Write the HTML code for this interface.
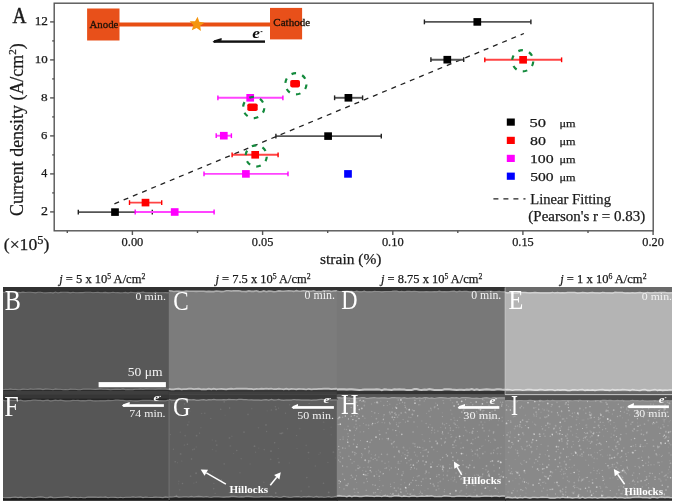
<!DOCTYPE html>
<html><head><meta charset="utf-8"><title>figure</title><style>
html,body{margin:0;padding:0;background:#fff;}
body{width:675px;height:504px;overflow:hidden;}
svg{display:block;will-change:transform;}
</style></head><body>
<svg width="675" height="504" viewBox="0 0 675 504" font-family='"Liberation Serif", serif'>
<rect x="54.2" y="3.2" width="599" height="227.6" fill="none" stroke="#555" stroke-width="1.4"/>
<line x1="50.1" y1="211.9" x2="54.2" y2="211.9" stroke="#555" stroke-width="1.4"/>
<line x1="50.1" y1="173.9" x2="54.2" y2="173.9" stroke="#555" stroke-width="1.4"/>
<line x1="50.1" y1="135.9" x2="54.2" y2="135.9" stroke="#555" stroke-width="1.4"/>
<line x1="50.1" y1="97.9" x2="54.2" y2="97.9" stroke="#555" stroke-width="1.4"/>
<line x1="50.1" y1="59.9" x2="54.2" y2="59.9" stroke="#555" stroke-width="1.4"/>
<line x1="50.1" y1="21.9" x2="54.2" y2="21.9" stroke="#555" stroke-width="1.4"/>
<line x1="52.2" y1="192.9" x2="54.2" y2="192.9" stroke="#555" stroke-width="1.4"/>
<line x1="52.2" y1="154.9" x2="54.2" y2="154.9" stroke="#555" stroke-width="1.4"/>
<line x1="52.2" y1="116.9" x2="54.2" y2="116.9" stroke="#555" stroke-width="1.4"/>
<line x1="52.2" y1="78.9" x2="54.2" y2="78.9" stroke="#555" stroke-width="1.4"/>
<line x1="52.2" y1="40.9" x2="54.2" y2="40.9" stroke="#555" stroke-width="1.4"/>
<line x1="132.4" y1="230.8" x2="132.4" y2="235" stroke="#555" stroke-width="1.4"/>
<line x1="262.6" y1="230.8" x2="262.6" y2="235" stroke="#555" stroke-width="1.4"/>
<line x1="392.8" y1="230.8" x2="392.8" y2="235" stroke="#555" stroke-width="1.4"/>
<line x1="522.9" y1="230.8" x2="522.9" y2="235" stroke="#555" stroke-width="1.4"/>
<line x1="653.1" y1="230.8" x2="653.1" y2="235" stroke="#555" stroke-width="1.4"/>
<line x1="67.3" y1="230.8" x2="67.3" y2="233" stroke="#555" stroke-width="1.4"/>
<line x1="197.5" y1="230.8" x2="197.5" y2="233" stroke="#555" stroke-width="1.4"/>
<line x1="327.7" y1="230.8" x2="327.7" y2="233" stroke="#555" stroke-width="1.4"/>
<line x1="457.8" y1="230.8" x2="457.8" y2="233" stroke="#555" stroke-width="1.4"/>
<line x1="588.0" y1="230.8" x2="588.0" y2="233" stroke="#555" stroke-width="1.4"/>
<rect x="87.1" y="8.5" width="32.4" height="32" fill="#E8501A"/>
<rect x="270" y="7.9" width="32.1" height="31.5" fill="#E8501A"/>
<rect x="119" y="22.5" width="151.5" height="4" fill="#E84E12"/>
<polygon points="197.58,16.63 199.26,21.68 204.50,22.65 200.21,25.81 200.92,31.09 196.59,27.99 191.78,30.29 193.39,25.21 189.72,21.35 195.05,21.31" fill="#F4950F"/>
<rect x="214" y="40.4" width="51" height="2.4" fill="#111"/>
<polygon points="212.6,41.8 214.5,40.2 221.6,38 221.6,40.6 214,42.8" fill="#111"/>
<rect x="260.6" y="31.2" width="1.8" height="0.9" fill="#111"/>
<line x1="114.4" y1="203.8" x2="523.9" y2="33.5" stroke="#222" stroke-width="1.3" stroke-dasharray="5,5"/>
<line x1="78.3" y1="212.1" x2="152.3" y2="212.1" stroke="#555" stroke-width="1.9"/>
<line x1="78.3" y1="209.7" x2="78.3" y2="214.5" stroke="#222" stroke-width="1.4"/>
<line x1="152.3" y1="209.7" x2="152.3" y2="214.5" stroke="#222" stroke-width="1.4"/>
<line x1="275.9" y1="136.1" x2="381.3" y2="136.1" stroke="#555" stroke-width="1.9"/>
<line x1="275.9" y1="133.7" x2="275.9" y2="138.5" stroke="#222" stroke-width="1.4"/>
<line x1="381.3" y1="133.7" x2="381.3" y2="138.5" stroke="#222" stroke-width="1.4"/>
<line x1="334.6" y1="97.8" x2="362.6" y2="97.8" stroke="#555" stroke-width="1.9"/>
<line x1="334.6" y1="95.39999999999999" x2="334.6" y2="100.2" stroke="#222" stroke-width="1.4"/>
<line x1="362.6" y1="95.39999999999999" x2="362.6" y2="100.2" stroke="#222" stroke-width="1.4"/>
<line x1="430.9" y1="59.7" x2="463.7" y2="59.7" stroke="#555" stroke-width="1.9"/>
<line x1="430.9" y1="57.300000000000004" x2="430.9" y2="62.1" stroke="#222" stroke-width="1.4"/>
<line x1="463.7" y1="57.300000000000004" x2="463.7" y2="62.1" stroke="#222" stroke-width="1.4"/>
<line x1="424.4" y1="21.9" x2="530.9" y2="21.9" stroke="#555" stroke-width="1.9"/>
<line x1="424.4" y1="19.5" x2="424.4" y2="24.299999999999997" stroke="#222" stroke-width="1.4"/>
<line x1="530.9" y1="19.5" x2="530.9" y2="24.299999999999997" stroke="#222" stroke-width="1.4"/>
<line x1="135.2" y1="212" x2="214.1" y2="212" stroke="#ff44ff" stroke-width="1.9"/>
<line x1="135.2" y1="209.6" x2="135.2" y2="214.4" stroke="#ff00ff" stroke-width="1.4"/>
<line x1="214.1" y1="209.6" x2="214.1" y2="214.4" stroke="#ff00ff" stroke-width="1.4"/>
<line x1="204" y1="173.9" x2="288" y2="173.9" stroke="#ff44ff" stroke-width="1.9"/>
<line x1="204" y1="171.5" x2="204" y2="176.3" stroke="#ff00ff" stroke-width="1.4"/>
<line x1="288" y1="171.5" x2="288" y2="176.3" stroke="#ff00ff" stroke-width="1.4"/>
<line x1="216.2" y1="135.7" x2="231.4" y2="135.7" stroke="#ff44ff" stroke-width="1.9"/>
<line x1="216.2" y1="133.29999999999998" x2="216.2" y2="138.1" stroke="#ff00ff" stroke-width="1.4"/>
<line x1="231.4" y1="133.29999999999998" x2="231.4" y2="138.1" stroke="#ff00ff" stroke-width="1.4"/>
<line x1="217.9" y1="97.8" x2="282.9" y2="97.8" stroke="#ff44ff" stroke-width="1.9"/>
<line x1="217.9" y1="95.39999999999999" x2="217.9" y2="100.2" stroke="#ff00ff" stroke-width="1.4"/>
<line x1="282.9" y1="95.39999999999999" x2="282.9" y2="100.2" stroke="#ff00ff" stroke-width="1.4"/>
<line x1="129.5" y1="202.6" x2="161.7" y2="202.6" stroke="#ff4444" stroke-width="1.9"/>
<line x1="129.5" y1="200.2" x2="129.5" y2="205.0" stroke="#ff0000" stroke-width="1.4"/>
<line x1="161.7" y1="200.2" x2="161.7" y2="205.0" stroke="#ff0000" stroke-width="1.4"/>
<line x1="232.1" y1="154.8" x2="278.1" y2="154.8" stroke="#ff4444" stroke-width="1.9"/>
<line x1="232.1" y1="152.4" x2="232.1" y2="157.20000000000002" stroke="#ff0000" stroke-width="1.4"/>
<line x1="278.1" y1="152.4" x2="278.1" y2="157.20000000000002" stroke="#ff0000" stroke-width="1.4"/>
<line x1="484.8" y1="59.8" x2="561.6" y2="59.8" stroke="#ff4444" stroke-width="1.9"/>
<line x1="484.8" y1="57.4" x2="484.8" y2="62.199999999999996" stroke="#ff0000" stroke-width="1.4"/>
<line x1="561.6" y1="57.4" x2="561.6" y2="62.199999999999996" stroke="#ff0000" stroke-width="1.4"/>
<rect x="111.15" y="208.30" width="7.7" height="7.6" fill="#000"/>
<rect x="324.25" y="132.30" width="7.7" height="7.6" fill="#000"/>
<rect x="344.55" y="94.00" width="7.7" height="7.6" fill="#000"/>
<rect x="443.45" y="55.90" width="7.7" height="7.6" fill="#000"/>
<rect x="473.45" y="18.10" width="7.7" height="7.6" fill="#000"/>
<rect x="170.85" y="208.20" width="7.7" height="7.6" fill="#ff00ff"/>
<rect x="242.05" y="170.10" width="7.7" height="7.6" fill="#ff00ff"/>
<rect x="219.95" y="131.90" width="7.7" height="7.6" fill="#ff00ff"/>
<rect x="246.35" y="94.00" width="7.7" height="7.6" fill="#ff00ff"/>
<rect x="141.65" y="198.80" width="7.7" height="7.6" fill="#ff0000"/>
<rect x="251.35" y="151.00" width="7.7" height="7.6" fill="#ff0000"/>
<rect x="519.25" y="56.00" width="7.7" height="7.6" fill="#ff0000"/>
<rect x="290.2" y="79.9" width="9.8" height="7.5" rx="1.8" fill="#ff0000"/>
<rect x="247.3" y="103.4" width="10.4" height="7.7" rx="1.8" fill="#ff0000"/>
<rect x="344.15" y="170.10" width="7.7" height="7.6" fill="#0000ff"/>
<circle cx="295.9" cy="83.8" r="10.6" fill="none" stroke="#138a3c" stroke-width="2.2" stroke-dasharray="4.63,6.48" stroke-dashoffset="-0.74"/>
<circle cx="253.7" cy="107.5" r="10.6" fill="none" stroke="#138a3c" stroke-width="2.2" stroke-dasharray="4.63,6.48" stroke-dashoffset="-0.74"/>
<circle cx="256.2" cy="156" r="10.6" fill="none" stroke="#138a3c" stroke-width="2.2" stroke-dasharray="4.63,6.48" stroke-dashoffset="-0.74"/>
<circle cx="522.7" cy="60.8" r="10.6" fill="none" stroke="#138a3c" stroke-width="2.2" stroke-dasharray="4.63,6.48" stroke-dashoffset="-0.74"/>
<rect x="506.8" y="118.5" width="8" height="7.2" fill="#000"/>
<rect x="506.8" y="136.8" width="8" height="7.2" fill="#ff0000"/>
<rect x="506.8" y="154.8" width="8" height="7.2" fill="#ff00ff"/>
<rect x="506.8" y="172.6" width="8" height="7.2" fill="#0000ff"/>
<line x1="493.4" y1="198.9" x2="525.5" y2="198.9" stroke="#222" stroke-width="1.3" stroke-dasharray="5,5"/>
<text x="12.45" y="23.40" font-size="23.50" textLength="13.90" lengthAdjust="spacingAndGlyphs" fill="#1a1a1a" stroke="#1a1a1a" stroke-width="0.5">A</text>
<text x="41.10" y="215.20" font-size="11.50" textLength="6.97" lengthAdjust="spacingAndGlyphs" fill="#1a1a1a" stroke="#1a1a1a" stroke-width="0.25">2</text>
<text x="41.35" y="177.20" font-size="11.50" textLength="6.02" lengthAdjust="spacingAndGlyphs" fill="#1a1a1a" stroke="#1a1a1a" stroke-width="0.25">4</text>
<text x="41.10" y="139.08" font-size="11.24" textLength="6.36" lengthAdjust="spacingAndGlyphs" fill="#1a1a1a" stroke="#1a1a1a" stroke-width="0.25">6</text>
<text x="41.10" y="101.07" font-size="11.25" textLength="6.62" lengthAdjust="spacingAndGlyphs" fill="#1a1a1a" stroke="#1a1a1a" stroke-width="0.25">8</text>
<text x="34.70" y="63.08" font-size="11.25" textLength="12.94" lengthAdjust="spacingAndGlyphs" fill="#1a1a1a" stroke="#1a1a1a" stroke-width="0.25">10</text>
<text x="34.70" y="25.20" font-size="11.50" textLength="13.28" lengthAdjust="spacingAndGlyphs" fill="#1a1a1a" stroke="#1a1a1a" stroke-width="0.25">12</text>
<text x="121.55" y="246.37" font-size="11.75" textLength="21.78" lengthAdjust="spacingAndGlyphs" fill="#1a1a1a" stroke="#1a1a1a" stroke-width="0.25">0.00</text>
<text x="251.85" y="246.37" font-size="11.75" textLength="21.53" lengthAdjust="spacingAndGlyphs" fill="#1a1a1a" stroke="#1a1a1a" stroke-width="0.25">0.05</text>
<text x="381.90" y="246.37" font-size="11.75" textLength="21.78" lengthAdjust="spacingAndGlyphs" fill="#1a1a1a" stroke="#1a1a1a" stroke-width="0.25">0.10</text>
<text x="512.20" y="246.37" font-size="11.75" textLength="21.53" lengthAdjust="spacingAndGlyphs" fill="#1a1a1a" stroke="#1a1a1a" stroke-width="0.25">0.15</text>
<text x="642.25" y="246.37" font-size="11.75" textLength="21.53" lengthAdjust="spacingAndGlyphs" fill="#1a1a1a" stroke="#1a1a1a" stroke-width="0.25">0.20</text>
<text x="320.05" y="263.55" font-size="15.50" textLength="61.45" lengthAdjust="spacingAndGlyphs" fill="#1a1a1a" stroke="#1a1a1a" stroke-width="0.25">strain (%)</text>
<text x="3.75" y="250.35" font-size="16.70" textLength="45.54" lengthAdjust="spacingAndGlyphs" fill="#1a1a1a" stroke="#1a1a1a" stroke-width="0.25">(×10<tspan font-size="0.7em" dy="-0.55em">5</tspan><tspan dy="0.385em">)</tspan></text>
<text transform="translate(22.95,216.00) rotate(-90)" font-size="17.95" textLength="172.75" lengthAdjust="spacingAndGlyphs" fill="#1a1a1a" stroke="#1a1a1a" stroke-width="0.25">Current density (A/cm<tspan font-size="0.62em" dy="-0.6em">2</tspan><tspan dy="0.372em">)</tspan></text>
<text x="89.50" y="28.15" font-size="10.52" textLength="28.90" lengthAdjust="spacingAndGlyphs" fill="#1e1208" stroke="#1e1208" stroke-width="0.3">Anode</text>
<text x="273.30" y="26.42" font-size="10.27" textLength="36.93" lengthAdjust="spacingAndGlyphs" fill="#1e1208" stroke="#1e1208" stroke-width="0.3">Cathode</text>
<text x="252.20" y="38.32" font-size="15.14" font-style="italic" font-weight="bold" textLength="7.72" lengthAdjust="spacingAndGlyphs" fill="#111">e</text>
<text x="529.50" y="127.15" font-size="13.49" textLength="16.47" lengthAdjust="spacingAndGlyphs" fill="#1a1a1a" stroke="#1a1a1a" stroke-width="0.25">50</text>
<text x="559.50" y="126.72" font-size="11.28" textLength="16.11" lengthAdjust="spacingAndGlyphs" fill="#1a1a1a" stroke="#1a1a1a" stroke-width="0.25">μm</text>
<text x="530.00" y="145.45" font-size="13.49" textLength="15.89" lengthAdjust="spacingAndGlyphs" fill="#1a1a1a" stroke="#1a1a1a" stroke-width="0.25">80</text>
<text x="559.50" y="145.03" font-size="11.28" textLength="16.11" lengthAdjust="spacingAndGlyphs" fill="#1a1a1a" stroke="#1a1a1a" stroke-width="0.25">μm</text>
<text x="529.90" y="163.05" font-size="13.49" textLength="23.73" lengthAdjust="spacingAndGlyphs" fill="#1a1a1a" stroke="#1a1a1a" stroke-width="0.25">100</text>
<text x="559.50" y="162.62" font-size="11.28" textLength="16.11" lengthAdjust="spacingAndGlyphs" fill="#1a1a1a" stroke="#1a1a1a" stroke-width="0.25">μm</text>
<text x="530.20" y="180.95" font-size="13.49" textLength="23.39" lengthAdjust="spacingAndGlyphs" fill="#1a1a1a" stroke="#1a1a1a" stroke-width="0.25">500</text>
<text x="559.50" y="180.53" font-size="11.28" textLength="16.11" lengthAdjust="spacingAndGlyphs" fill="#1a1a1a" stroke="#1a1a1a" stroke-width="0.25">μm</text>
<text x="530.30" y="204.45" font-size="15.00" textLength="80.64" lengthAdjust="spacingAndGlyphs" fill="#1a1a1a" stroke="#1a1a1a" stroke-width="0.25">Linear Fitting</text>
<text x="528.35" y="221.12" font-size="14.00" textLength="116.78" lengthAdjust="spacingAndGlyphs" fill="#1a1a1a" stroke="#1a1a1a" stroke-width="0.25">(Pearson's r = 0.83)</text>
<text x="59.25" y="283.05" font-size="13.05" textLength="86.03" lengthAdjust="spacingAndGlyphs" fill="#1a1a1a" stroke="#1a1a1a" stroke-width="0.25"><tspan font-style="italic">j</tspan> = 5 x 10<tspan font-size="0.62em" dy="-0.45em">5</tspan><tspan dy="0.279em"> A/cm</tspan><tspan font-size="0.62em" dy="-0.45em">2</tspan></text>
<text x="215.45" y="282.93" font-size="13.20" textLength="95.15" lengthAdjust="spacingAndGlyphs" fill="#1a1a1a" stroke="#1a1a1a" stroke-width="0.25"><tspan font-style="italic">j</tspan> = 7.5 x 10<tspan font-size="0.62em" dy="-0.45em">5</tspan><tspan dy="0.279em"> A/cm</tspan><tspan font-size="0.62em" dy="-0.45em">2</tspan></text>
<text x="381.05" y="283.05" font-size="13.05" textLength="101.29" lengthAdjust="spacingAndGlyphs" fill="#1a1a1a" stroke="#1a1a1a" stroke-width="0.25"><tspan font-style="italic">j</tspan> = 8.75 x 10<tspan font-size="0.62em" dy="-0.45em">5</tspan><tspan dy="0.279em"> A/cm</tspan><tspan font-size="0.62em" dy="-0.45em">2</tspan></text>
<text x="560.25" y="283.05" font-size="13.05" textLength="86.28" lengthAdjust="spacingAndGlyphs" fill="#1a1a1a" stroke="#1a1a1a" stroke-width="0.25"><tspan font-style="italic">j</tspan> = 1 x 10<tspan font-size="0.62em" dy="-0.45em">6</tspan><tspan dy="0.279em"> A/cm</tspan><tspan font-size="0.62em" dy="-0.45em">2</tspan></text>
<rect x="3" y="287.0" width="166.8" height="108.5" fill="#585858"/>
<rect x="3" y="394.5" width="166.8" height="106.2" fill="#565656"/>
<rect x="168.8" y="287.0" width="169.0" height="108.5" fill="#7c7c7c"/>
<rect x="168.8" y="394.5" width="169.0" height="106.2" fill="#5e5e5e"/>
<rect x="336.8" y="287.0" width="169.2" height="108.5" fill="#787878"/>
<rect x="336.8" y="394.5" width="169.2" height="106.2" fill="#848484"/>
<rect x="505" y="287.0" width="167.0" height="108.5" fill="#b4b4b4"/>
<rect x="505" y="394.5" width="167.0" height="106.2" fill="#898989"/>
<rect x="3" y="287.0" width="166.8" height="5.2" fill="#323232"/>
<rect x="3" y="389.9" width="166.8" height="4.6" fill="#2c2c2c"/>
<rect x="3" y="394.5" width="166.8" height="5.7" fill="#363636"/>
<rect x="3" y="497.9" width="166.8" height="2.8" fill="#1e1e1e"/>
<rect x="168.8" y="287.0" width="169.0" height="3.8" fill="#333333"/>
<rect x="168.8" y="389.9" width="169.0" height="4.6" fill="#373737"/>
<rect x="168.8" y="394.5" width="169.0" height="5.0" fill="#3a3a3a"/>
<rect x="168.8" y="497.5" width="169.0" height="3.2" fill="#222222"/>
<rect x="336.8" y="287.0" width="169.2" height="4.1" fill="#333333"/>
<rect x="336.8" y="390.6" width="169.2" height="3.9" fill="#333333"/>
<rect x="336.8" y="394.5" width="169.2" height="3.1" fill="#4a4a4a"/>
<rect x="336.8" y="497.0" width="169.2" height="3.7" fill="#2a2a2a"/>
<rect x="505" y="287.0" width="167.0" height="5.2" fill="#6a6a6a"/>
<rect x="505" y="390.8" width="167.0" height="3.7" fill="#666666"/>
<rect x="505" y="394.5" width="167.0" height="5.9" fill="#4e4e4e"/>
<rect x="505" y="498.3" width="167.0" height="2.4" fill="#2a2a2a"/>
<rect x="3" y="391" width="165.8" height="3.2" fill="#444" opacity="0.8"/>
<rect x="3" y="398.6" width="165.8" height="1.4" fill="#222" opacity="0.8"/>
<rect x="168.8" y="392" width="168" height="3" fill="#444" opacity="0.6"/>
<rect x="336.8" y="394.4" width="168.2" height="3" fill="#5a5a5a" opacity="0.8"/>
<rect x="505" y="390.8" width="167" height="1.4" fill="#727272"/>
<polyline points="3.0,292.4 5.5,292.3 8.0,292.8 10.5,292.2 13.0,292.6 15.5,292.5 18.0,292.2 20.5,292.6 23.0,292.1 25.5,292.5 28.0,292.2 30.5,292.2 33.0,292.5 35.5,292.9 38.0,292.2 40.5,292.3 43.0,292.7 45.5,293.0 48.0,292.7 50.5,292.5 53.0,293.1 55.5,292.1 58.0,293.0 60.5,292.4 63.0,292.2 65.5,292.2 68.0,292.4 70.5,292.9 73.0,292.3 75.5,292.7 78.0,292.7 80.5,292.5 83.0,292.6 85.5,292.2 88.0,292.2 90.5,292.3 93.0,292.8 95.5,292.5 98.0,292.4 100.5,292.7 103.0,292.6 105.5,292.4 108.0,292.9 110.5,292.8 113.0,292.3 115.5,292.7 118.0,292.6 120.5,293.0 123.0,292.8 125.5,292.4 128.0,293.1 130.5,292.2 133.0,292.5 135.5,292.9 138.0,292.3 140.5,292.6 143.0,292.1 145.5,292.8 148.0,292.9 150.5,292.7 153.0,293.0 155.5,292.4 158.0,292.8 160.5,292.7 163.0,292.7 165.5,292.6 168.0,292.9 168.8,292.6" fill="none" stroke="#7a7a7a" stroke-width="1.1"/>
<polyline points="3.0,389.7 5.5,389.3 8.0,389.5 10.5,388.9 13.0,389.5 15.5,389.4 18.0,389.8 20.5,389.6 23.0,389.1 25.5,389.2 28.0,389.5 30.5,388.8 33.0,389.3 35.5,389.0 38.0,388.9 40.5,388.9 43.0,389.6 45.5,388.9 48.0,389.0 50.5,389.2 53.0,389.7 55.5,388.9 58.0,389.2 60.5,389.3 63.0,389.7 65.5,389.6 68.0,389.7 70.5,389.1 73.0,389.2 75.5,389.2 78.0,389.7 80.5,389.8 83.0,389.0 85.5,389.0 88.0,389.0 90.5,389.0 93.0,389.3 95.5,389.4 98.0,389.1 100.5,388.8 103.0,389.2 105.5,389.2 108.0,389.4 110.5,389.8 113.0,389.5 115.5,389.3 118.0,389.4 120.5,389.5 123.0,388.9 125.5,389.7 128.0,389.6 130.5,389.7 133.0,389.6 135.5,389.2 138.0,389.2 140.5,388.9 143.0,389.4 145.5,388.9 148.0,388.9 150.5,389.0 153.0,389.0 155.5,389.1 158.0,388.9 160.5,388.8 163.0,389.0 165.5,388.9 168.0,389.2 168.8,389.3" fill="none" stroke="#7c7c7c" stroke-width="1.1"/>
<polyline points="3.0,400.1 5.5,401.0 8.0,400.7 10.5,400.2 13.0,400.4 15.5,400.4 18.0,400.5 20.5,400.2 23.0,400.9 25.5,401.1 28.0,400.6 30.5,400.6 33.0,400.2 35.5,400.2 38.0,400.4 40.5,400.4 43.0,400.9 45.5,400.3 48.0,400.1 50.5,401.1 53.0,400.6 55.5,400.2 58.0,400.6 60.5,400.1 63.0,400.6 65.5,401.1 68.0,401.0 70.5,400.8 73.0,400.4 75.5,400.5 78.0,400.3 80.5,400.9 83.0,400.6 85.5,400.9 88.0,400.4 90.5,400.3 93.0,400.9 95.5,401.1 98.0,401.0 100.5,400.9 103.0,400.9 105.5,400.8 108.0,400.3 110.5,400.6 113.0,400.5 115.5,400.1 118.0,400.1 120.5,400.4 123.0,400.4 125.5,400.8 128.0,401.1 130.5,400.5 133.0,401.0 135.5,401.1 138.0,401.1 140.5,400.5 143.0,400.3 145.5,400.3 148.0,400.3 150.5,400.3 153.0,400.7 155.5,401.0 158.0,400.9 160.5,400.6 163.0,400.8 165.5,400.9 168.0,400.2 168.8,400.6" fill="none" stroke="#767676" stroke-width="1.2"/>
<polyline points="3.0,497.5 5.5,497.7 8.0,497.6 10.5,497.6 13.0,497.3 15.5,497.0 18.0,497.6 20.5,497.1 23.0,497.6 25.5,497.8 28.0,497.2 30.5,497.2 33.0,497.7 35.5,497.5 38.0,497.0 40.5,496.9 43.0,497.0 45.5,497.7 48.0,497.6 50.5,496.9 53.0,497.6 55.5,497.8 58.0,497.5 60.5,497.2 63.0,497.3 65.5,496.9 68.0,496.8 70.5,497.8 73.0,497.4 75.5,497.3 78.0,497.7 80.5,497.2 83.0,497.7 85.5,497.6 88.0,497.0 90.5,497.1 93.0,497.1 95.5,497.0 98.0,497.4 100.5,497.1 103.0,497.2 105.5,496.9 108.0,497.7 110.5,497.2 113.0,497.3 115.5,497.4 118.0,497.7 120.5,497.2 123.0,497.7 125.5,497.3 128.0,497.3 130.5,497.3 133.0,496.8 135.5,497.2 138.0,497.0 140.5,496.8 143.0,497.6 145.5,497.0 148.0,497.3 150.5,497.5 153.0,497.4 155.5,497.1 158.0,497.3 160.5,497.4 163.0,497.6 165.5,496.9 168.0,497.4 168.8,497.3" fill="none" stroke="#888888" stroke-width="1.1"/>
<polyline points="168.8,290.9 171.3,291.0 173.8,291.5 176.3,291.2 178.8,291.3 181.3,291.5 183.8,291.6 186.3,291.1 188.8,291.3 191.3,291.2 193.8,291.2 196.3,291.4 198.8,291.2 201.3,291.2 203.8,291.2 206.3,291.6 208.8,291.4 211.3,291.6 213.8,291.6 216.3,291.0 218.8,291.3 221.3,291.6 223.8,291.5 226.3,290.8 228.8,290.8 231.3,291.1 233.8,290.8 236.3,290.9 238.8,290.8 241.3,291.4 243.8,291.5 246.3,291.6 248.8,290.9 251.3,291.4 253.8,291.4 256.3,290.8 258.8,291.6 261.3,291.7 263.8,290.9 266.3,291.7 268.8,291.1 271.3,291.2 273.8,291.7 276.3,291.5 278.8,290.9 281.3,291.1 283.8,291.2 286.3,291.0 288.8,290.9 291.3,291.0 293.8,291.4 296.3,290.7 298.8,291.3 301.3,291.1 303.8,290.7 306.3,291.0 308.8,291.3 311.3,291.2 313.8,290.8 316.3,291.7 318.8,291.5 321.3,291.7 323.8,290.8 326.3,291.0 328.8,290.7 331.3,291.5 333.8,291.0 336.3,290.8 336.8,291.2" fill="none" stroke="#acacac" stroke-width="1.6"/>
<polyline points="168.8,388.9 171.3,389.4 173.8,389.3 176.3,388.8 178.8,388.6 181.3,389.4 183.8,389.1 186.3,389.2 188.8,388.6 191.3,388.6 193.8,389.2 196.3,388.9 198.8,388.6 201.3,389.4 203.8,389.1 206.3,389.3 208.8,388.6 211.3,389.4 213.8,388.6 216.3,389.4 218.8,389.0 221.3,388.8 223.8,389.1 226.3,389.4 228.8,388.8 231.3,388.6 233.8,389.0 236.3,388.7 238.8,388.6 241.3,388.7 243.8,388.6 246.3,388.7 248.8,388.8 251.3,388.8 253.8,389.3 256.3,388.8 258.8,389.0 261.3,388.7 263.8,388.8 266.3,388.5 268.8,388.8 271.3,388.5 273.8,389.2 276.3,389.1 278.8,388.7 281.3,389.0 283.8,389.4 286.3,388.6 288.8,389.3 291.3,388.9 293.8,389.0 296.3,389.3 298.8,388.9 301.3,389.0 303.8,389.2 306.3,389.5 308.8,388.8 311.3,389.3 313.8,389.2 316.3,389.1 318.8,388.9 321.3,388.8 323.8,388.6 326.3,388.6 328.8,388.6 331.3,389.2 333.8,388.8 336.3,388.7 336.8,389.0" fill="none" stroke="#bdbdbd" stroke-width="1.7"/>
<polyline points="168.8,399.5 171.3,400.2 173.8,400.3 176.3,400.1 178.8,399.7 181.3,399.6 183.8,399.7 186.3,399.9 188.8,399.6 191.3,399.8 193.8,399.7 196.3,400.4 198.8,400.4 201.3,399.9 203.8,399.6 206.3,400.4 208.8,399.7 211.3,399.8 213.8,399.4 216.3,399.8 218.8,399.9 221.3,399.9 223.8,399.6 226.3,399.9 228.8,399.4 231.3,399.7 233.8,399.5 236.3,399.8 238.8,399.4 241.3,399.4 243.8,399.7 246.3,399.6 248.8,400.0 251.3,399.9 253.8,400.2 256.3,400.1 258.8,400.1 261.3,400.3 263.8,399.8 266.3,399.7 268.8,400.4 271.3,399.5 273.8,400.1 276.3,400.0 278.8,399.4 281.3,400.2 283.8,400.3 286.3,400.0 288.8,400.1 291.3,400.2 293.8,399.5 296.3,399.9 298.8,399.9 301.3,400.2 303.8,400.2 306.3,400.2 308.8,400.0 311.3,400.3 313.8,400.1 316.3,400.1 318.8,399.6 321.3,399.4 323.8,399.5 326.3,399.8 328.8,399.5 331.3,400.2 333.8,400.0 336.3,400.0 336.8,399.9" fill="none" stroke="#8a8a8a" stroke-width="1.2"/>
<polyline points="168.8,496.9 171.3,497.0 173.8,496.8 176.3,496.3 178.8,497.1 181.3,497.0 183.8,496.8 186.3,496.8 188.8,497.0 191.3,496.4 193.8,497.0 196.3,496.6 198.8,496.4 201.3,496.6 203.8,497.0 206.3,496.5 208.8,497.0 211.3,497.3 213.8,496.8 216.3,496.7 218.8,496.8 221.3,497.0 223.8,497.1 226.3,496.9 228.8,496.9 231.3,496.4 233.8,496.4 236.3,496.6 238.8,497.0 241.3,496.6 243.8,496.9 246.3,496.3 248.8,496.4 251.3,496.6 253.8,497.0 256.3,497.0 258.8,497.0 261.3,496.6 263.8,496.8 266.3,496.8 268.8,496.8 271.3,496.4 273.8,497.2 276.3,496.5 278.8,497.3 281.3,497.2 283.8,496.3 286.3,496.8 288.8,497.1 291.3,497.3 293.8,496.7 296.3,496.6 298.8,496.5 301.3,497.2 303.8,496.5 306.3,496.9 308.8,496.4 311.3,496.8 313.8,497.3 316.3,496.4 318.8,497.1 321.3,496.8 323.8,497.2 326.3,497.0 328.8,496.5 331.3,497.2 333.8,496.8 336.3,496.3 336.8,496.8" fill="none" stroke="#8a8a8a" stroke-width="1.1"/>
<polyline points="336.8,291.1 339.3,291.6 341.8,291.6 344.3,291.4 346.8,291.2 349.3,291.4 351.8,291.4 354.3,291.9 356.8,291.1 359.3,291.9 361.8,291.9 364.3,291.2 366.8,292.0 369.3,291.8 371.8,292.0 374.3,291.4 376.8,291.5 379.3,291.5 381.8,292.1 384.3,291.7 386.8,291.5 389.3,291.5 391.8,291.4 394.3,291.1 396.8,291.2 399.3,291.9 401.8,291.4 404.3,292.0 406.8,291.3 409.3,291.4 411.8,291.6 414.3,291.3 416.8,291.5 419.3,292.1 421.8,292.0 424.3,291.9 426.8,291.7 429.3,292.0 431.8,292.0 434.3,291.6 436.8,291.8 439.3,291.1 441.8,291.8 444.3,291.6 446.8,291.9 449.3,291.7 451.8,291.4 454.3,291.1 456.8,292.0 459.3,291.2 461.8,291.6 464.3,291.4 466.8,291.4 469.3,291.8 471.8,292.1 474.3,291.4 476.8,291.8 479.3,291.4 481.8,291.7 484.3,291.5 486.8,291.3 489.3,291.3 491.8,291.3 494.3,292.0 496.8,291.6 499.3,291.3 501.8,292.0 504.3,292.1 505.0,291.6" fill="none" stroke="#8e8e8e" stroke-width="1.2"/>
<polyline points="336.8,389.5 339.3,389.2 341.8,389.3 344.3,389.2 346.8,389.4 349.3,389.2 351.8,389.3 354.3,389.4 356.8,389.7 359.3,390.0 361.8,389.8 364.3,389.5 366.8,389.5 369.3,389.6 371.8,389.5 374.3,389.4 376.8,389.2 379.3,389.4 381.8,390.1 384.3,389.2 386.8,389.6 389.3,389.7 391.8,390.0 394.3,389.3 396.8,389.4 399.3,389.3 401.8,389.5 404.3,389.5 406.8,390.1 409.3,389.9 411.8,390.0 414.3,389.1 416.8,389.1 419.3,389.8 421.8,390.0 424.3,389.6 426.8,389.7 429.3,389.1 431.8,389.5 434.3,390.0 436.8,389.9 439.3,390.0 441.8,390.1 444.3,389.3 446.8,389.2 449.3,389.3 451.8,389.6 454.3,389.8 456.8,390.0 459.3,389.8 461.8,389.7 464.3,389.9 466.8,389.6 469.3,389.7 471.8,389.1 474.3,389.9 476.8,389.3 479.3,390.0 481.8,389.7 484.3,389.4 486.8,389.2 489.3,389.4 491.8,389.7 494.3,389.8 496.8,389.2 499.3,389.2 501.8,389.6 504.3,389.7 505.0,389.6" fill="none" stroke="#c4c4c4" stroke-width="2.0"/>
<polyline points="336.8,397.9 339.3,397.7 341.8,398.1 344.3,397.5 346.8,397.8 349.3,398.0 351.8,398.5 354.3,398.1 356.8,398.4 359.3,398.0 361.8,397.7 364.3,397.7 366.8,398.5 369.3,398.2 371.8,397.8 374.3,397.5 376.8,398.0 379.3,398.2 381.8,397.9 384.3,397.8 386.8,398.2 389.3,398.4 391.8,397.7 394.3,397.5 396.8,397.8 399.3,397.9 401.8,398.2 404.3,397.7 406.8,398.3 409.3,398.2 411.8,398.0 414.3,397.7 416.8,398.5 419.3,397.8 421.8,398.3 424.3,397.7 426.8,397.7 429.3,398.3 431.8,397.8 434.3,398.5 436.8,398.0 439.3,397.7 441.8,397.7 444.3,397.9 446.8,398.2 449.3,398.4 451.8,397.6 454.3,397.9 456.8,397.7 459.3,398.5 461.8,397.6 464.3,397.6 466.8,397.6 469.3,397.9 471.8,398.4 474.3,398.4 476.8,398.2 479.3,398.5 481.8,398.4 484.3,397.8 486.8,397.7 489.3,398.4 491.8,398.2 494.3,397.5 496.8,398.2 499.3,397.9 501.8,397.9 504.3,397.8 505.0,398.0" fill="none" stroke="#a0a0a0" stroke-width="1.2"/>
<polyline points="336.8,495.9 339.3,495.7 341.8,496.0 344.3,496.1 346.8,496.7 349.3,495.8 351.8,496.7 354.3,495.9 356.8,496.1 359.3,496.5 361.8,496.5 364.3,496.1 366.8,495.7 369.3,496.2 371.8,496.1 374.3,496.6 376.8,495.9 379.3,496.1 381.8,496.6 384.3,495.7 386.8,496.1 389.3,496.5 391.8,496.5 394.3,495.7 396.8,495.7 399.3,495.8 401.8,496.6 404.3,496.0 406.8,496.4 409.3,496.6 411.8,496.0 414.3,496.0 416.8,496.7 419.3,496.3 421.8,496.0 424.3,496.4 426.8,496.0 429.3,496.0 431.8,495.7 434.3,496.5 436.8,496.6 439.3,496.3 441.8,496.6 444.3,495.7 446.8,495.9 449.3,496.2 451.8,496.7 454.3,496.7 456.8,496.1 459.3,496.0 461.8,496.1 464.3,496.2 466.8,496.6 469.3,495.9 471.8,496.5 474.3,496.4 476.8,496.5 479.3,496.5 481.8,496.3 484.3,496.0 486.8,496.0 489.3,496.1 491.8,496.5 494.3,495.8 496.8,495.9 499.3,496.5 501.8,495.9 504.3,495.8 505.0,496.2" fill="none" stroke="#bdbdbd" stroke-width="1.3"/>
<polyline points="505.0,292.3 507.5,292.9 510.0,292.6 512.5,293.3 515.0,293.2 517.5,293.3 520.0,292.6 522.5,292.4 525.0,292.4 527.5,292.8 530.0,293.0 532.5,292.7 535.0,292.5 537.5,292.7 540.0,292.9 542.5,293.0 545.0,293.0 547.5,293.1 550.0,293.0 552.5,292.4 555.0,293.1 557.5,292.6 560.0,292.9 562.5,292.7 565.0,293.0 567.5,292.5 570.0,292.5 572.5,292.5 575.0,292.5 577.5,293.2 580.0,292.9 582.5,292.6 585.0,292.7 587.5,293.3 590.0,292.8 592.5,292.5 595.0,293.1 597.5,293.0 600.0,293.3 602.5,292.4 605.0,292.8 607.5,293.1 610.0,293.1 612.5,293.2 615.0,292.3 617.5,292.6 620.0,292.4 622.5,292.5 625.0,293.3 627.5,292.9 630.0,293.2 632.5,292.7 635.0,293.2 637.5,292.7 640.0,292.6 642.5,293.1 645.0,293.2 647.5,292.4 650.0,292.9 652.5,292.9 655.0,292.5 657.5,292.7 660.0,292.4 662.5,292.5 665.0,292.6 667.5,292.9 670.0,293.0 672.0,292.8" fill="none" stroke="#d0d0d0" stroke-width="1.5"/>
<polyline points="505.0,389.7 507.5,389.5 510.0,389.8 512.5,390.2 515.0,389.7 517.5,389.8 520.0,389.7 522.5,390.3 525.0,390.0 527.5,389.6 530.0,389.6 532.5,389.9 535.0,390.1 537.5,390.1 540.0,389.6 542.5,389.7 545.0,390.2 547.5,389.9 550.0,389.8 552.5,389.8 555.0,390.5 557.5,389.8 560.0,390.1 562.5,389.9 565.0,389.9 567.5,390.4 570.0,390.5 572.5,389.9 575.0,389.7 577.5,390.2 580.0,389.7 582.5,389.5 585.0,390.4 587.5,389.9 590.0,390.3 592.5,389.9 595.0,390.4 597.5,390.0 600.0,389.7 602.5,389.5 605.0,390.1 607.5,390.1 610.0,390.4 612.5,389.6 615.0,390.1 617.5,389.9 620.0,390.0 622.5,389.6 625.0,389.8 627.5,390.0 630.0,390.4 632.5,389.6 635.0,390.0 637.5,390.3 640.0,390.5 642.5,389.7 645.0,389.6 647.5,390.4 650.0,390.5 652.5,390.0 655.0,389.6 657.5,390.4 660.0,389.9 662.5,390.4 665.0,390.1 667.5,390.3 670.0,389.7 672.0,390.0" fill="none" stroke="#dedede" stroke-width="1.6"/>
<polyline points="505.0,401.1 507.5,400.5 510.0,400.7 512.5,401.1 515.0,401.1 517.5,400.5 520.0,400.5 522.5,400.7 525.0,400.8 527.5,400.7 530.0,400.4 532.5,400.5 535.0,401.0 537.5,401.2 540.0,400.3 542.5,400.9 545.0,401.1 547.5,400.3 550.0,401.1 552.5,400.4 555.0,400.9 557.5,400.9 560.0,400.9 562.5,400.6 565.0,400.7 567.5,400.9 570.0,400.7 572.5,401.0 575.0,400.7 577.5,400.7 580.0,400.3 582.5,400.9 585.0,400.8 587.5,400.5 590.0,401.1 592.5,401.1 595.0,400.8 597.5,400.5 600.0,400.8 602.5,400.4 605.0,400.4 607.5,400.7 610.0,400.4 612.5,400.7 615.0,400.8 617.5,400.3 620.0,400.9 622.5,400.4 625.0,401.0 627.5,401.1 630.0,400.8 632.5,400.4 635.0,400.8 637.5,400.7 640.0,401.3 642.5,400.4 645.0,401.2 647.5,401.3 650.0,401.0 652.5,401.1 655.0,400.5 657.5,401.3 660.0,400.8 662.5,401.3 665.0,401.2 667.5,400.5 670.0,401.1 672.0,400.8" fill="none" stroke="#969696" stroke-width="1.2"/>
<polyline points="505.0,498.0 507.5,497.2 510.0,497.5 512.5,497.9 515.0,497.3 517.5,498.0 520.0,497.4 522.5,497.9 525.0,497.2 527.5,497.6 530.0,498.0 532.5,497.3 535.0,497.4 537.5,497.6 540.0,497.4 542.5,497.1 545.0,497.3 547.5,497.3 550.0,498.0 552.5,497.8 555.0,498.0 557.5,497.3 560.0,497.9 562.5,497.2 565.0,497.6 567.5,497.7 570.0,497.5 572.5,498.0 575.0,497.7 577.5,497.7 580.0,498.0 582.5,497.2 585.0,498.1 587.5,497.7 590.0,497.5 592.5,497.9 595.0,497.4 597.5,498.1 600.0,497.7 602.5,497.5 605.0,497.9 607.5,497.5 610.0,497.3 612.5,497.8 615.0,497.1 617.5,497.9 620.0,497.4 622.5,497.7 625.0,498.1 627.5,497.7 630.0,497.8 632.5,497.4 635.0,497.1 637.5,497.1 640.0,497.2 642.5,497.7 645.0,497.5 647.5,497.6 650.0,498.0 652.5,497.2 655.0,497.3 657.5,497.8 660.0,497.1 662.5,497.1 665.0,497.5 667.5,497.2 670.0,497.5 672.0,497.6" fill="none" stroke="#c4c4c4" stroke-width="1.3"/>
<rect x="505" y="394.1" width="167" height="1" fill="#c8c8c8"/>
<rect x="504.6" y="287.5" width="0.9" height="107" fill="#d0d0d0" opacity="0.7"/>
<rect x="168.6" y="400" width="0.9" height="100" fill="#7a7a7a" opacity="0.8"/>
<circle cx="375.2" cy="455.6" r="0.79" fill="#fff" opacity="0.14"/>
<circle cx="441.6" cy="445.1" r="0.60" fill="#fff" opacity="0.29"/>
<circle cx="378.4" cy="413.5" r="0.59" fill="#fff" opacity="0.23"/>
<circle cx="482.6" cy="474.9" r="0.71" fill="#fff" opacity="0.15"/>
<circle cx="339.9" cy="461.6" r="0.77" fill="#fff" opacity="0.17"/>
<circle cx="445.2" cy="442.0" r="0.92" fill="#fff" opacity="0.25"/>
<circle cx="379.3" cy="486.6" r="0.57" fill="#fff" opacity="0.21"/>
<circle cx="405.4" cy="422.1" r="0.57" fill="#fff" opacity="0.26"/>
<circle cx="340.1" cy="452.4" r="0.93" fill="#fff" opacity="0.13"/>
<circle cx="371.1" cy="458.0" r="0.75" fill="#fff" opacity="0.23"/>
<circle cx="473.0" cy="415.9" r="0.67" fill="#fff" opacity="0.16"/>
<circle cx="346.0" cy="485.3" r="0.86" fill="#fff" opacity="0.24"/>
<circle cx="339.1" cy="480.9" r="0.85" fill="#fff" opacity="0.19"/>
<circle cx="461.1" cy="442.9" r="0.64" fill="#fff" opacity="0.12"/>
<circle cx="376.6" cy="402.8" r="0.68" fill="#fff" opacity="0.25"/>
<circle cx="453.4" cy="481.0" r="0.83" fill="#fff" opacity="0.15"/>
<circle cx="429.9" cy="441.3" r="0.87" fill="#fff" opacity="0.20"/>
<circle cx="382.0" cy="461.3" r="0.94" fill="#fff" opacity="0.14"/>
<circle cx="484.1" cy="400.5" r="0.65" fill="#fff" opacity="0.15"/>
<circle cx="461.5" cy="490.6" r="0.85" fill="#fff" opacity="0.17"/>
<circle cx="484.1" cy="430.9" r="0.65" fill="#fff" opacity="0.28"/>
<circle cx="442.7" cy="466.2" r="0.82" fill="#fff" opacity="0.30"/>
<circle cx="415.9" cy="480.5" r="0.83" fill="#fff" opacity="0.27"/>
<circle cx="410.6" cy="469.3" r="0.78" fill="#fff" opacity="0.16"/>
<circle cx="373.2" cy="459.4" r="0.58" fill="#fff" opacity="0.28"/>
<circle cx="362.0" cy="401.6" r="0.59" fill="#fff" opacity="0.29"/>
<circle cx="395.2" cy="412.8" r="0.56" fill="#fff" opacity="0.11"/>
<circle cx="453.0" cy="460.5" r="0.83" fill="#fff" opacity="0.25"/>
<circle cx="348.9" cy="456.3" r="0.70" fill="#fff" opacity="0.26"/>
<circle cx="474.0" cy="485.5" r="0.58" fill="#fff" opacity="0.27"/>
<circle cx="489.8" cy="490.6" r="0.59" fill="#fff" opacity="0.14"/>
<circle cx="356.6" cy="402.3" r="0.89" fill="#fff" opacity="0.26"/>
<circle cx="443.3" cy="479.0" r="0.80" fill="#fff" opacity="0.16"/>
<circle cx="354.6" cy="408.5" r="0.85" fill="#fff" opacity="0.14"/>
<circle cx="391.0" cy="440.1" r="0.56" fill="#fff" opacity="0.15"/>
<circle cx="384.9" cy="468.4" r="0.70" fill="#fff" opacity="0.16"/>
<circle cx="498.0" cy="447.9" r="0.89" fill="#fff" opacity="0.22"/>
<circle cx="343.1" cy="439.1" r="0.72" fill="#fff" opacity="0.25"/>
<circle cx="395.6" cy="467.4" r="0.77" fill="#fff" opacity="0.14"/>
<circle cx="481.1" cy="407.8" r="0.88" fill="#fff" opacity="0.13"/>
<circle cx="338.2" cy="418.6" r="0.85" fill="#fff" opacity="0.30"/>
<circle cx="338.7" cy="446.6" r="0.75" fill="#fff" opacity="0.26"/>
<circle cx="368.6" cy="447.0" r="0.69" fill="#fff" opacity="0.27"/>
<circle cx="381.3" cy="490.6" r="0.66" fill="#fff" opacity="0.14"/>
<circle cx="454.1" cy="447.3" r="0.59" fill="#fff" opacity="0.23"/>
<circle cx="351.4" cy="475.4" r="0.83" fill="#fff" opacity="0.26"/>
<circle cx="442.2" cy="433.5" r="0.71" fill="#fff" opacity="0.18"/>
<circle cx="485.8" cy="407.4" r="0.91" fill="#fff" opacity="0.11"/>
<circle cx="372.2" cy="424.5" r="0.91" fill="#fff" opacity="0.20"/>
<circle cx="401.0" cy="484.7" r="0.64" fill="#fff" opacity="0.19"/>
<circle cx="426.2" cy="472.2" r="0.85" fill="#fff" opacity="0.23"/>
<circle cx="395.8" cy="430.7" r="0.61" fill="#fff" opacity="0.27"/>
<circle cx="447.9" cy="471.0" r="0.62" fill="#fff" opacity="0.19"/>
<circle cx="466.4" cy="455.2" r="0.60" fill="#fff" opacity="0.19"/>
<circle cx="484.9" cy="422.1" r="0.63" fill="#fff" opacity="0.16"/>
<circle cx="454.7" cy="480.8" r="0.61" fill="#fff" opacity="0.13"/>
<circle cx="379.1" cy="430.7" r="0.76" fill="#fff" opacity="0.13"/>
<circle cx="392.5" cy="417.4" r="0.94" fill="#fff" opacity="0.25"/>
<circle cx="354.9" cy="492.4" r="0.59" fill="#fff" opacity="0.18"/>
<circle cx="501.3" cy="476.1" r="0.84" fill="#fff" opacity="0.19"/>
<circle cx="370.6" cy="460.9" r="0.59" fill="#fff" opacity="0.14"/>
<circle cx="402.5" cy="402.3" r="0.71" fill="#fff" opacity="0.26"/>
<circle cx="453.1" cy="447.5" r="0.80" fill="#fff" opacity="0.19"/>
<circle cx="361.5" cy="457.6" r="0.71" fill="#fff" opacity="0.25"/>
<circle cx="488.7" cy="440.7" r="0.78" fill="#fff" opacity="0.25"/>
<circle cx="407.9" cy="421.2" r="0.84" fill="#fff" opacity="0.28"/>
<circle cx="466.5" cy="466.9" r="0.89" fill="#fff" opacity="0.24"/>
<circle cx="444.5" cy="443.0" r="0.68" fill="#fff" opacity="0.23"/>
<circle cx="354.2" cy="439.7" r="0.86" fill="#fff" opacity="0.24"/>
<circle cx="442.5" cy="423.3" r="0.72" fill="#fff" opacity="0.19"/>
<circle cx="441.2" cy="438.7" r="0.82" fill="#fff" opacity="0.29"/>
<circle cx="368.4" cy="462.5" r="0.86" fill="#fff" opacity="0.18"/>
<circle cx="419.3" cy="493.5" r="0.57" fill="#fff" opacity="0.21"/>
<circle cx="364.7" cy="474.8" r="0.93" fill="#fff" opacity="0.20"/>
<circle cx="354.8" cy="454.7" r="0.77" fill="#fff" opacity="0.24"/>
<circle cx="423.0" cy="461.0" r="0.88" fill="#fff" opacity="0.20"/>
<circle cx="406.1" cy="491.0" r="0.63" fill="#fff" opacity="0.24"/>
<circle cx="403.2" cy="473.0" r="0.60" fill="#fff" opacity="0.30"/>
<circle cx="397.0" cy="404.5" r="0.66" fill="#fff" opacity="0.18"/>
<circle cx="340.2" cy="439.6" r="0.72" fill="#fff" opacity="0.24"/>
<circle cx="396.5" cy="424.7" r="0.64" fill="#fff" opacity="0.25"/>
<circle cx="494.0" cy="450.1" r="0.64" fill="#fff" opacity="0.26"/>
<circle cx="403.1" cy="419.6" r="0.60" fill="#fff" opacity="0.26"/>
<circle cx="472.4" cy="460.5" r="0.74" fill="#fff" opacity="0.21"/>
<circle cx="375.5" cy="492.5" r="0.69" fill="#fff" opacity="0.23"/>
<circle cx="473.9" cy="478.2" r="0.74" fill="#fff" opacity="0.16"/>
<circle cx="429.0" cy="411.1" r="0.88" fill="#fff" opacity="0.17"/>
<circle cx="479.2" cy="424.9" r="0.70" fill="#fff" opacity="0.15"/>
<circle cx="408.7" cy="417.0" r="0.55" fill="#fff" opacity="0.24"/>
<circle cx="384.7" cy="422.8" r="0.67" fill="#fff" opacity="0.20"/>
<circle cx="409.1" cy="460.8" r="0.81" fill="#fff" opacity="0.17"/>
<circle cx="492.2" cy="481.9" r="0.57" fill="#fff" opacity="0.27"/>
<circle cx="488.4" cy="475.1" r="0.61" fill="#fff" opacity="0.27"/>
<circle cx="443.1" cy="400.5" r="0.55" fill="#fff" opacity="0.29"/>
<circle cx="446.9" cy="423.3" r="0.59" fill="#fff" opacity="0.13"/>
<circle cx="376.8" cy="474.3" r="0.69" fill="#fff" opacity="0.13"/>
<circle cx="488.1" cy="475.8" r="0.62" fill="#fff" opacity="0.28"/>
<circle cx="439.0" cy="474.8" r="0.82" fill="#fff" opacity="0.28"/>
<circle cx="468.8" cy="480.4" r="0.63" fill="#fff" opacity="0.24"/>
<circle cx="426.1" cy="471.0" r="0.73" fill="#fff" opacity="0.28"/>
<circle cx="430.1" cy="424.7" r="0.64" fill="#fff" opacity="0.13"/>
<circle cx="419.9" cy="404.7" r="0.74" fill="#fff" opacity="0.13"/>
<circle cx="419.6" cy="447.3" r="0.77" fill="#fff" opacity="0.27"/>
<circle cx="339.1" cy="480.6" r="0.74" fill="#fff" opacity="0.21"/>
<circle cx="448.4" cy="480.5" r="0.70" fill="#fff" opacity="0.18"/>
<circle cx="497.5" cy="406.3" r="0.80" fill="#fff" opacity="0.23"/>
<circle cx="342.7" cy="458.1" r="0.82" fill="#fff" opacity="0.29"/>
<circle cx="392.9" cy="494.2" r="0.75" fill="#fff" opacity="0.20"/>
<circle cx="487.0" cy="402.3" r="0.84" fill="#fff" opacity="0.23"/>
<circle cx="394.2" cy="482.6" r="0.70" fill="#fff" opacity="0.19"/>
<circle cx="425.2" cy="473.7" r="0.63" fill="#fff" opacity="0.19"/>
<circle cx="408.1" cy="452.7" r="0.88" fill="#fff" opacity="0.16"/>
<circle cx="475.4" cy="438.2" r="0.75" fill="#fff" opacity="0.15"/>
<circle cx="422.1" cy="493.6" r="0.81" fill="#fff" opacity="0.26"/>
<circle cx="392.9" cy="429.8" r="0.67" fill="#fff" opacity="0.22"/>
<circle cx="443.4" cy="475.1" r="0.57" fill="#fff" opacity="0.24"/>
<circle cx="485.0" cy="451.9" r="0.57" fill="#fff" opacity="0.16"/>
<circle cx="339.0" cy="417.4" r="0.92" fill="#fff" opacity="0.22"/>
<circle cx="447.2" cy="475.5" r="0.91" fill="#fff" opacity="0.22"/>
<circle cx="440.4" cy="459.8" r="0.83" fill="#fff" opacity="0.22"/>
<circle cx="451.0" cy="419.6" r="0.82" fill="#fff" opacity="0.19"/>
<circle cx="464.6" cy="408.8" r="0.62" fill="#fff" opacity="0.11"/>
<circle cx="466.6" cy="487.7" r="0.81" fill="#fff" opacity="0.17"/>
<circle cx="474.6" cy="475.3" r="0.77" fill="#fff" opacity="0.15"/>
<circle cx="388.1" cy="439.9" r="0.68" fill="#fff" opacity="0.19"/>
<circle cx="444.5" cy="489.6" r="0.57" fill="#fff" opacity="0.21"/>
<circle cx="344.5" cy="410.5" r="0.87" fill="#fff" opacity="0.22"/>
<circle cx="490.5" cy="442.3" r="0.56" fill="#fff" opacity="0.18"/>
<circle cx="436.3" cy="490.0" r="0.94" fill="#fff" opacity="0.20"/>
<circle cx="406.5" cy="408.9" r="0.81" fill="#fff" opacity="0.14"/>
<circle cx="363.2" cy="400.5" r="0.55" fill="#fff" opacity="0.24"/>
<circle cx="358.2" cy="492.7" r="0.59" fill="#fff" opacity="0.27"/>
<circle cx="359.4" cy="400.7" r="0.84" fill="#fff" opacity="0.15"/>
<circle cx="459.8" cy="417.2" r="0.57" fill="#fff" opacity="0.25"/>
<circle cx="456.4" cy="482.0" r="0.84" fill="#fff" opacity="0.12"/>
<circle cx="442.4" cy="467.8" r="0.73" fill="#fff" opacity="0.29"/>
<circle cx="380.2" cy="492.5" r="0.84" fill="#fff" opacity="0.10"/>
<circle cx="340.4" cy="462.1" r="0.88" fill="#fff" opacity="0.12"/>
<circle cx="389.6" cy="469.8" r="0.62" fill="#fff" opacity="0.27"/>
<circle cx="418.7" cy="404.8" r="0.70" fill="#fff" opacity="0.21"/>
<circle cx="410.8" cy="464.7" r="0.61" fill="#fff" opacity="0.26"/>
<circle cx="398.3" cy="461.6" r="0.80" fill="#fff" opacity="0.18"/>
<circle cx="402.0" cy="475.3" r="0.93" fill="#fff" opacity="0.26"/>
<circle cx="432.1" cy="427.4" r="0.57" fill="#fff" opacity="0.29"/>
<circle cx="454.7" cy="479.3" r="0.68" fill="#fff" opacity="0.22"/>
<circle cx="500.3" cy="479.6" r="0.79" fill="#fff" opacity="0.16"/>
<circle cx="409.1" cy="485.1" r="0.70" fill="#fff" opacity="0.24"/>
<circle cx="437.9" cy="485.9" r="0.87" fill="#fff" opacity="0.16"/>
<circle cx="338.3" cy="424.5" r="0.72" fill="#fff" opacity="0.22"/>
<circle cx="473.5" cy="485.1" r="0.57" fill="#fff" opacity="0.27"/>
<circle cx="472.8" cy="483.1" r="0.78" fill="#fff" opacity="0.15"/>
<circle cx="479.3" cy="477.3" r="0.82" fill="#fff" opacity="0.28"/>
<circle cx="395.6" cy="407.3" r="0.77" fill="#fff" opacity="0.26"/>
<circle cx="371.3" cy="471.8" r="0.92" fill="#fff" opacity="0.15"/>
<circle cx="438.7" cy="464.7" r="0.74" fill="#fff" opacity="0.14"/>
<circle cx="380.3" cy="471.9" r="0.87" fill="#fff" opacity="0.19"/>
<circle cx="352.6" cy="477.2" r="0.86" fill="#fff" opacity="0.15"/>
<circle cx="434.2" cy="486.0" r="0.90" fill="#fff" opacity="0.20"/>
<circle cx="417.1" cy="456.2" r="0.63" fill="#fff" opacity="0.14"/>
<circle cx="368.0" cy="467.0" r="0.70" fill="#fff" opacity="0.21"/>
<circle cx="404.8" cy="449.2" r="0.61" fill="#fff" opacity="0.11"/>
<circle cx="503.5" cy="435.3" r="0.59" fill="#fff" opacity="0.23"/>
<circle cx="468.7" cy="414.1" r="0.79" fill="#fff" opacity="0.17"/>
<circle cx="424.2" cy="401.0" r="0.56" fill="#fff" opacity="0.30"/>
<circle cx="481.8" cy="446.2" r="0.78" fill="#fff" opacity="0.15"/>
<circle cx="467.3" cy="440.3" r="0.93" fill="#fff" opacity="0.25"/>
<circle cx="473.9" cy="492.5" r="0.65" fill="#fff" opacity="0.11"/>
<circle cx="371.4" cy="416.5" r="0.58" fill="#fff" opacity="0.11"/>
<circle cx="430.5" cy="483.5" r="0.73" fill="#fff" opacity="0.29"/>
<circle cx="489.0" cy="405.2" r="0.79" fill="#fff" opacity="0.18"/>
<circle cx="357.9" cy="492.1" r="0.65" fill="#fff" opacity="0.21"/>
<circle cx="444.3" cy="491.8" r="0.82" fill="#fff" opacity="0.18"/>
<circle cx="412.4" cy="414.5" r="0.94" fill="#fff" opacity="0.30"/>
<circle cx="374.8" cy="402.7" r="0.65" fill="#fff" opacity="0.17"/>
<circle cx="487.9" cy="486.7" r="0.88" fill="#fff" opacity="0.11"/>
<circle cx="468.5" cy="467.8" r="0.81" fill="#fff" opacity="0.30"/>
<circle cx="347.3" cy="413.0" r="0.85" fill="#fff" opacity="0.29"/>
<circle cx="450.4" cy="428.0" r="0.79" fill="#fff" opacity="0.25"/>
<circle cx="355.5" cy="430.4" r="0.65" fill="#fff" opacity="0.12"/>
<circle cx="417.9" cy="415.4" r="0.65" fill="#fff" opacity="0.13"/>
<circle cx="450.5" cy="400.2" r="0.84" fill="#fff" opacity="0.14"/>
<circle cx="344.0" cy="489.0" r="0.64" fill="#fff" opacity="0.29"/>
<circle cx="481.9" cy="485.2" r="0.61" fill="#fff" opacity="0.19"/>
<circle cx="354.1" cy="489.1" r="0.89" fill="#fff" opacity="0.23"/>
<circle cx="413.1" cy="432.0" r="0.88" fill="#fff" opacity="0.20"/>
<circle cx="442.3" cy="412.8" r="0.64" fill="#fff" opacity="0.11"/>
<circle cx="456.5" cy="452.7" r="0.61" fill="#fff" opacity="0.27"/>
<circle cx="382.2" cy="438.9" r="0.61" fill="#fff" opacity="0.15"/>
<circle cx="477.4" cy="431.4" r="0.62" fill="#fff" opacity="0.20"/>
<circle cx="390.8" cy="486.6" r="0.60" fill="#fff" opacity="0.30"/>
<circle cx="347.4" cy="485.8" r="0.82" fill="#fff" opacity="0.14"/>
<circle cx="417.3" cy="426.8" r="0.65" fill="#fff" opacity="0.14"/>
<circle cx="398.5" cy="495.1" r="0.95" fill="#fff" opacity="0.29"/>
<circle cx="354.2" cy="427.1" r="0.91" fill="#fff" opacity="0.11"/>
<circle cx="458.6" cy="427.5" r="0.94" fill="#fff" opacity="0.10"/>
<circle cx="472.0" cy="432.1" r="0.61" fill="#fff" opacity="0.10"/>
<circle cx="476.2" cy="450.1" r="0.62" fill="#fff" opacity="0.19"/>
<circle cx="489.4" cy="420.2" r="0.78" fill="#fff" opacity="0.13"/>
<circle cx="367.9" cy="473.7" r="0.83" fill="#fff" opacity="0.14"/>
<circle cx="351.2" cy="407.5" r="0.79" fill="#fff" opacity="0.20"/>
<circle cx="383.5" cy="419.0" r="0.79" fill="#fff" opacity="0.24"/>
<circle cx="472.7" cy="455.5" r="0.63" fill="#fff" opacity="0.11"/>
<circle cx="459.6" cy="438.6" r="0.84" fill="#fff" opacity="0.11"/>
<circle cx="472.6" cy="431.5" r="0.89" fill="#fff" opacity="0.27"/>
<circle cx="419.8" cy="400.5" r="0.91" fill="#fff" opacity="0.20"/>
<circle cx="482.8" cy="424.8" r="0.62" fill="#fff" opacity="0.27"/>
<circle cx="398.9" cy="414.9" r="0.70" fill="#fff" opacity="0.22"/>
<circle cx="338.8" cy="449.4" r="0.73" fill="#fff" opacity="0.20"/>
<circle cx="358.0" cy="468.3" r="0.88" fill="#fff" opacity="0.27"/>
<circle cx="391.3" cy="468.0" r="0.70" fill="#fff" opacity="0.25"/>
<circle cx="348.2" cy="483.7" r="0.93" fill="#fff" opacity="0.20"/>
<circle cx="423.2" cy="450.5" r="0.76" fill="#fff" opacity="0.10"/>
<circle cx="498.6" cy="420.7" r="0.62" fill="#fff" opacity="0.12"/>
<circle cx="379.6" cy="478.3" r="0.56" fill="#fff" opacity="0.12"/>
<circle cx="454.0" cy="417.9" r="0.56" fill="#fff" opacity="0.22"/>
<circle cx="433.7" cy="449.7" r="0.83" fill="#fff" opacity="0.12"/>
<circle cx="482.3" cy="468.6" r="0.57" fill="#fff" opacity="0.12"/>
<circle cx="419.9" cy="447.6" r="0.66" fill="#fff" opacity="0.12"/>
<circle cx="405.3" cy="412.3" r="0.79" fill="#fff" opacity="0.27"/>
<circle cx="362.4" cy="454.6" r="0.85" fill="#fff" opacity="0.13"/>
<circle cx="475.1" cy="489.9" r="0.71" fill="#fff" opacity="0.18"/>
<circle cx="477.4" cy="450.0" r="0.71" fill="#fff" opacity="0.29"/>
<circle cx="467.0" cy="431.8" r="0.65" fill="#fff" opacity="0.17"/>
<circle cx="410.3" cy="494.2" r="0.87" fill="#fff" opacity="0.28"/>
<circle cx="473.3" cy="481.2" r="0.57" fill="#fff" opacity="0.20"/>
<circle cx="497.0" cy="489.6" r="0.65" fill="#fff" opacity="0.18"/>
<circle cx="443.0" cy="434.3" r="0.76" fill="#fff" opacity="0.11"/>
<circle cx="409.9" cy="448.0" r="0.56" fill="#fff" opacity="0.13"/>
<circle cx="499.0" cy="474.3" r="0.92" fill="#fff" opacity="0.23"/>
<circle cx="472.3" cy="484.8" r="0.90" fill="#fff" opacity="0.11"/>
<circle cx="444.5" cy="424.8" r="0.82" fill="#fff" opacity="0.15"/>
<circle cx="428.0" cy="488.7" r="0.80" fill="#fff" opacity="0.15"/>
<circle cx="424.4" cy="441.1" r="0.93" fill="#fff" opacity="0.16"/>
<circle cx="388.7" cy="461.8" r="0.60" fill="#fff" opacity="0.22"/>
<circle cx="496.7" cy="448.8" r="0.66" fill="#fff" opacity="0.19"/>
<circle cx="426.6" cy="413.4" r="0.60" fill="#fff" opacity="0.13"/>
<circle cx="386.7" cy="438.4" r="0.67" fill="#fff" opacity="0.15"/>
<circle cx="352.6" cy="452.0" r="0.89" fill="#fff" opacity="0.22"/>
<circle cx="432.6" cy="462.1" r="0.63" fill="#fff" opacity="0.24"/>
<circle cx="414.5" cy="452.2" r="0.80" fill="#fff" opacity="0.19"/>
<circle cx="389.5" cy="422.5" r="0.64" fill="#fff" opacity="0.20"/>
<circle cx="401.6" cy="455.8" r="0.55" fill="#fff" opacity="0.17"/>
<circle cx="481.1" cy="422.1" r="0.77" fill="#fff" opacity="0.20"/>
<circle cx="385.3" cy="494.8" r="0.67" fill="#fff" opacity="0.25"/>
<circle cx="364.3" cy="405.5" r="0.90" fill="#fff" opacity="0.19"/>
<circle cx="348.3" cy="436.6" r="0.73" fill="#fff" opacity="0.25"/>
<circle cx="356.1" cy="420.8" r="0.93" fill="#fff" opacity="0.25"/>
<circle cx="363.7" cy="431.7" r="0.69" fill="#fff" opacity="0.24"/>
<circle cx="440.3" cy="481.4" r="0.88" fill="#fff" opacity="0.20"/>
<circle cx="460.6" cy="471.1" r="0.85" fill="#fff" opacity="0.20"/>
<circle cx="468.3" cy="467.7" r="0.92" fill="#fff" opacity="0.13"/>
<circle cx="482.6" cy="399.4" r="0.86" fill="#fff" opacity="0.22"/>
<circle cx="420.6" cy="492.4" r="0.78" fill="#fff" opacity="0.18"/>
<circle cx="468.1" cy="483.7" r="0.79" fill="#fff" opacity="0.18"/>
<circle cx="413.1" cy="443.4" r="0.84" fill="#fff" opacity="0.16"/>
<circle cx="402.9" cy="452.9" r="0.70" fill="#fff" opacity="0.16"/>
<circle cx="468.7" cy="481.4" r="0.75" fill="#fff" opacity="0.19"/>
<circle cx="368.6" cy="428.5" r="0.61" fill="#fff" opacity="0.22"/>
<circle cx="434.5" cy="407.5" r="0.92" fill="#fff" opacity="0.16"/>
<circle cx="478.0" cy="480.3" r="0.93" fill="#fff" opacity="0.14"/>
<circle cx="408.8" cy="487.3" r="0.55" fill="#fff" opacity="0.11"/>
<circle cx="431.8" cy="447.2" r="0.92" fill="#fff" opacity="0.25"/>
<circle cx="427.4" cy="495.8" r="0.76" fill="#fff" opacity="0.20"/>
<circle cx="451.7" cy="436.8" r="0.69" fill="#fff" opacity="0.22"/>
<circle cx="396.3" cy="490.9" r="0.82" fill="#fff" opacity="0.21"/>
<circle cx="354.4" cy="435.3" r="0.71" fill="#fff" opacity="0.21"/>
<circle cx="433.3" cy="484.3" r="0.94" fill="#fff" opacity="0.20"/>
<circle cx="411.1" cy="459.6" r="0.95" fill="#fff" opacity="0.17"/>
<circle cx="426.0" cy="478.1" r="0.62" fill="#fff" opacity="0.16"/>
<circle cx="500.4" cy="479.1" r="0.76" fill="#fff" opacity="0.12"/>
<circle cx="486.5" cy="465.9" r="0.88" fill="#fff" opacity="0.30"/>
<circle cx="485.4" cy="439.8" r="0.61" fill="#fff" opacity="0.16"/>
<circle cx="422.9" cy="448.0" r="0.63" fill="#fff" opacity="0.14"/>
<circle cx="442.6" cy="457.5" r="0.69" fill="#fff" opacity="0.30"/>
<circle cx="443.7" cy="403.1" r="0.71" fill="#fff" opacity="0.26"/>
<circle cx="388.9" cy="466.0" r="0.55" fill="#fff" opacity="0.16"/>
<circle cx="477.8" cy="455.9" r="0.82" fill="#fff" opacity="0.14"/>
<circle cx="420.6" cy="452.7" r="0.66" fill="#fff" opacity="0.23"/>
<circle cx="426.2" cy="495.7" r="0.78" fill="#fff" opacity="0.18"/>
<circle cx="358.2" cy="414.2" r="0.85" fill="#fff" opacity="0.12"/>
<circle cx="354.6" cy="415.5" r="0.76" fill="#fff" opacity="0.26"/>
<circle cx="439.8" cy="477.2" r="0.57" fill="#fff" opacity="0.10"/>
<circle cx="465.9" cy="430.3" r="0.84" fill="#fff" opacity="0.17"/>
<circle cx="366.1" cy="424.9" r="0.59" fill="#fff" opacity="0.28"/>
<circle cx="434.7" cy="432.8" r="0.73" fill="#fff" opacity="0.18"/>
<circle cx="347.1" cy="485.4" r="0.78" fill="#fff" opacity="0.29"/>
<circle cx="411.0" cy="459.2" r="0.65" fill="#fff" opacity="0.11"/>
<circle cx="492.5" cy="481.9" r="0.68" fill="#fff" opacity="0.28"/>
<circle cx="473.4" cy="428.5" r="0.79" fill="#fff" opacity="0.29"/>
<circle cx="420.3" cy="491.1" r="0.65" fill="#fff" opacity="0.18"/>
<circle cx="457.3" cy="420.5" r="0.67" fill="#fff" opacity="0.28"/>
<circle cx="418.4" cy="475.9" r="0.65" fill="#fff" opacity="0.13"/>
<circle cx="397.5" cy="417.1" r="0.94" fill="#fff" opacity="0.16"/>
<circle cx="431.2" cy="410.1" r="0.76" fill="#fff" opacity="0.18"/>
<circle cx="404.9" cy="405.3" r="0.60" fill="#fff" opacity="0.27"/>
<circle cx="396.3" cy="422.8" r="0.63" fill="#fff" opacity="0.16"/>
<circle cx="377.4" cy="402.4" r="0.82" fill="#fff" opacity="0.17"/>
<circle cx="363.9" cy="467.5" r="0.59" fill="#fff" opacity="0.15"/>
<circle cx="476.6" cy="411.4" r="0.73" fill="#fff" opacity="0.27"/>
<circle cx="471.6" cy="414.4" r="0.69" fill="#fff" opacity="0.24"/>
<circle cx="400.6" cy="492.0" r="0.63" fill="#fff" opacity="0.29"/>
<circle cx="421.8" cy="421.0" r="0.73" fill="#fff" opacity="0.13"/>
<circle cx="455.3" cy="424.3" r="0.91" fill="#fff" opacity="0.22"/>
<circle cx="399.1" cy="422.9" r="0.79" fill="#fff" opacity="0.14"/>
<circle cx="482.8" cy="410.9" r="0.76" fill="#fff" opacity="0.21"/>
<circle cx="382.9" cy="473.9" r="0.70" fill="#fff" opacity="0.23"/>
<circle cx="432.2" cy="429.1" r="0.71" fill="#fff" opacity="0.12"/>
<circle cx="367.4" cy="481.5" r="0.68" fill="#fff" opacity="0.23"/>
<circle cx="356.1" cy="453.5" r="0.69" fill="#fff" opacity="0.20"/>
<circle cx="387.3" cy="405.4" r="0.67" fill="#fff" opacity="0.15"/>
<circle cx="358.9" cy="468.5" r="0.66" fill="#fff" opacity="0.18"/>
<circle cx="488.9" cy="474.2" r="0.90" fill="#fff" opacity="0.27"/>
<circle cx="359.9" cy="425.8" r="0.56" fill="#fff" opacity="0.24"/>
<circle cx="448.2" cy="433.1" r="0.72" fill="#fff" opacity="0.23"/>
<circle cx="454.1" cy="423.1" r="0.89" fill="#fff" opacity="0.17"/>
<circle cx="442.4" cy="416.6" r="0.60" fill="#fff" opacity="0.28"/>
<circle cx="459.9" cy="468.1" r="0.57" fill="#fff" opacity="0.11"/>
<circle cx="364.9" cy="418.2" r="0.67" fill="#fff" opacity="0.18"/>
<circle cx="344.5" cy="429.2" r="0.81" fill="#fff" opacity="0.14"/>
<circle cx="477.4" cy="454.3" r="0.84" fill="#fff" opacity="0.15"/>
<circle cx="410.2" cy="465.4" r="0.69" fill="#fff" opacity="0.10"/>
<circle cx="476.5" cy="474.3" r="0.66" fill="#fff" opacity="0.11"/>
<circle cx="479.8" cy="457.9" r="0.57" fill="#fff" opacity="0.15"/>
<circle cx="356.5" cy="475.8" r="0.63" fill="#fff" opacity="0.28"/>
<circle cx="462.4" cy="407.4" r="0.83" fill="#fff" opacity="0.18"/>
<circle cx="462.1" cy="479.4" r="0.66" fill="#fff" opacity="0.12"/>
<circle cx="495.1" cy="440.1" r="0.92" fill="#fff" opacity="0.24"/>
<circle cx="460.6" cy="479.5" r="0.80" fill="#fff" opacity="0.19"/>
<circle cx="347.0" cy="466.7" r="0.72" fill="#fff" opacity="0.20"/>
<circle cx="492.1" cy="411.4" r="0.85" fill="#fff" opacity="0.11"/>
<circle cx="454.7" cy="477.2" r="0.65" fill="#fff" opacity="0.21"/>
<circle cx="498.9" cy="460.8" r="0.77" fill="#fff" opacity="0.15"/>
<circle cx="347.9" cy="433.7" r="0.71" fill="#fff" opacity="0.14"/>
<circle cx="389.6" cy="412.2" r="0.83" fill="#fff" opacity="0.23"/>
<circle cx="377.5" cy="422.4" r="0.76" fill="#fff" opacity="0.19"/>
<circle cx="493.4" cy="433.1" r="0.67" fill="#fff" opacity="0.28"/>
<circle cx="361.6" cy="453.6" r="0.68" fill="#fff" opacity="0.26"/>
<circle cx="429.0" cy="472.8" r="0.62" fill="#fff" opacity="0.23"/>
<circle cx="437.4" cy="443.7" r="0.86" fill="#fff" opacity="0.27"/>
<circle cx="357.0" cy="427.1" r="0.69" fill="#fff" opacity="0.14"/>
<circle cx="348.0" cy="426.2" r="0.63" fill="#fff" opacity="0.24"/>
<circle cx="412.4" cy="410.0" r="0.68" fill="#fff" opacity="0.19"/>
<circle cx="398.3" cy="415.3" r="0.58" fill="#fff" opacity="0.10"/>
<circle cx="502.7" cy="471.8" r="0.58" fill="#fff" opacity="0.24"/>
<circle cx="500.7" cy="453.7" r="0.59" fill="#fff" opacity="0.20"/>
<circle cx="410.1" cy="417.4" r="0.77" fill="#fff" opacity="0.10"/>
<circle cx="490.6" cy="461.5" r="0.80" fill="#fff" opacity="0.29"/>
<circle cx="446.3" cy="423.4" r="0.65" fill="#fff" opacity="0.13"/>
<circle cx="342.6" cy="474.1" r="0.89" fill="#fff" opacity="0.16"/>
<circle cx="368.8" cy="460.9" r="0.89" fill="#fff" opacity="0.29"/>
<circle cx="366.0" cy="475.1" r="0.88" fill="#fff" opacity="0.25"/>
<circle cx="392.2" cy="416.9" r="0.88" fill="#fff" opacity="0.16"/>
<circle cx="399.2" cy="452.5" r="0.70" fill="#fff" opacity="0.27"/>
<circle cx="377.7" cy="403.0" r="0.78" fill="#fff" opacity="0.23"/>
<circle cx="474.1" cy="467.4" r="0.91" fill="#fff" opacity="0.29"/>
<circle cx="420.1" cy="447.5" r="0.61" fill="#fff" opacity="0.16"/>
<circle cx="434.5" cy="406.8" r="0.83" fill="#fff" opacity="0.13"/>
<circle cx="411.6" cy="493.1" r="0.59" fill="#fff" opacity="0.11"/>
<circle cx="411.0" cy="417.5" r="0.84" fill="#fff" opacity="0.10"/>
<circle cx="477.6" cy="482.0" r="0.86" fill="#fff" opacity="0.19"/>
<circle cx="385.0" cy="463.2" r="0.76" fill="#fff" opacity="0.18"/>
<circle cx="394.2" cy="441.6" r="0.82" fill="#fff" opacity="0.27"/>
<circle cx="488.1" cy="415.0" r="0.67" fill="#fff" opacity="0.19"/>
<circle cx="431.5" cy="432.8" r="0.63" fill="#fff" opacity="0.12"/>
<circle cx="391.7" cy="443.7" r="0.94" fill="#fff" opacity="0.28"/>
<circle cx="481.7" cy="493.5" r="0.93" fill="#fff" opacity="0.22"/>
<circle cx="472.7" cy="404.8" r="0.82" fill="#fff" opacity="0.22"/>
<circle cx="387.3" cy="454.4" r="0.93" fill="#fff" opacity="0.20"/>
<circle cx="445.5" cy="428.0" r="0.69" fill="#fff" opacity="0.28"/>
<circle cx="342.6" cy="417.3" r="0.82" fill="#fff" opacity="0.19"/>
<circle cx="352.1" cy="463.1" r="0.70" fill="#fff" opacity="0.22"/>
<circle cx="407.1" cy="450.4" r="0.78" fill="#fff" opacity="0.18"/>
<circle cx="357.0" cy="416.5" r="0.91" fill="#fff" opacity="0.21"/>
<circle cx="356.6" cy="482.6" r="0.65" fill="#fff" opacity="0.12"/>
<circle cx="426.1" cy="423.4" r="0.75" fill="#fff" opacity="0.21"/>
<circle cx="375.6" cy="454.6" r="0.60" fill="#fff" opacity="0.20"/>
<circle cx="435.7" cy="406.8" r="0.71" fill="#fff" opacity="0.11"/>
<circle cx="411.0" cy="482.8" r="0.77" fill="#fff" opacity="0.24"/>
<circle cx="463.6" cy="410.1" r="0.95" fill="#fff" opacity="0.24"/>
<circle cx="354.9" cy="479.5" r="0.71" fill="#fff" opacity="0.13"/>
<circle cx="497.4" cy="453.6" r="0.86" fill="#fff" opacity="0.13"/>
<circle cx="466.8" cy="404.6" r="0.64" fill="#fff" opacity="0.17"/>
<circle cx="340.5" cy="456.6" r="0.64" fill="#fff" opacity="0.16"/>
<circle cx="455.4" cy="440.3" r="0.91" fill="#fff" opacity="0.22"/>
<circle cx="482.8" cy="453.6" r="0.92" fill="#fff" opacity="0.27"/>
<circle cx="365.9" cy="471.3" r="0.69" fill="#fff" opacity="0.25"/>
<circle cx="451.0" cy="479.1" r="0.60" fill="#fff" opacity="0.17"/>
<circle cx="460.4" cy="491.0" r="0.84" fill="#fff" opacity="0.11"/>
<circle cx="438.2" cy="408.7" r="0.77" fill="#fff" opacity="0.26"/>
<circle cx="356.8" cy="488.8" r="0.82" fill="#fff" opacity="0.15"/>
<circle cx="370.1" cy="442.3" r="0.89" fill="#fff" opacity="0.22"/>
<circle cx="356.9" cy="401.0" r="0.59" fill="#fff" opacity="0.26"/>
<circle cx="368.8" cy="452.8" r="0.67" fill="#fff" opacity="0.24"/>
<circle cx="401.2" cy="413.0" r="0.90" fill="#fff" opacity="0.21"/>
<circle cx="452.5" cy="477.4" r="0.93" fill="#fff" opacity="0.10"/>
<circle cx="394.8" cy="413.6" r="0.75" fill="#fff" opacity="0.27"/>
<circle cx="470.9" cy="402.4" r="0.62" fill="#fff" opacity="0.26"/>
<circle cx="450.8" cy="437.1" r="0.74" fill="#fff" opacity="0.13"/>
<circle cx="478.3" cy="437.2" r="0.90" fill="#fff" opacity="0.22"/>
<circle cx="350.6" cy="430.9" r="0.64" fill="#fff" opacity="0.28"/>
<circle cx="435.8" cy="403.2" r="0.62" fill="#fff" opacity="0.17"/>
<circle cx="415.6" cy="455.0" r="0.71" fill="#fff" opacity="0.17"/>
<circle cx="339.0" cy="455.2" r="0.68" fill="#fff" opacity="0.10"/>
<circle cx="414.3" cy="494.7" r="0.57" fill="#fff" opacity="0.13"/>
<circle cx="449.4" cy="425.4" r="0.66" fill="#fff" opacity="0.20"/>
<circle cx="381.5" cy="454.2" r="0.76" fill="#fff" opacity="0.29"/>
<circle cx="502.7" cy="402.3" r="0.77" fill="#fff" opacity="0.25"/>
<circle cx="482.8" cy="474.1" r="0.80" fill="#fff" opacity="0.23"/>
<circle cx="398.2" cy="426.3" r="0.87" fill="#fff" opacity="0.27"/>
<circle cx="493.8" cy="465.1" r="0.67" fill="#fff" opacity="0.25"/>
<circle cx="460.8" cy="448.4" r="0.80" fill="#fff" opacity="0.17"/>
<circle cx="429.4" cy="438.4" r="0.57" fill="#fff" opacity="0.17"/>
<circle cx="391.7" cy="494.9" r="0.74" fill="#fff" opacity="0.17"/>
<circle cx="378.4" cy="421.8" r="0.69" fill="#fff" opacity="0.13"/>
<circle cx="339.2" cy="483.5" r="0.73" fill="#fff" opacity="0.19"/>
<circle cx="432.4" cy="428.3" r="0.62" fill="#fff" opacity="0.11"/>
<circle cx="388.0" cy="428.9" r="0.84" fill="#fff" opacity="0.21"/>
<circle cx="493.6" cy="432.0" r="0.92" fill="#fff" opacity="0.22"/>
<circle cx="351.3" cy="416.3" r="0.78" fill="#fff" opacity="0.30"/>
<circle cx="397.3" cy="474.1" r="0.72" fill="#fff" opacity="0.27"/>
<circle cx="349.2" cy="446.0" r="0.91" fill="#fff" opacity="0.16"/>
<circle cx="380.8" cy="401.2" r="0.62" fill="#fff" opacity="0.15"/>
<circle cx="454.9" cy="420.2" r="0.71" fill="#fff" opacity="0.14"/>
<circle cx="438.1" cy="482.8" r="0.81" fill="#fff" opacity="0.14"/>
<circle cx="459.8" cy="492.4" r="0.79" fill="#fff" opacity="0.12"/>
<circle cx="472.4" cy="483.9" r="0.69" fill="#fff" opacity="0.13"/>
<circle cx="369.2" cy="451.1" r="0.90" fill="#fff" opacity="0.23"/>
<circle cx="491.2" cy="419.6" r="0.68" fill="#fff" opacity="0.25"/>
<circle cx="445.7" cy="438.3" r="0.82" fill="#fff" opacity="0.17"/>
<circle cx="347.5" cy="439.2" r="0.57" fill="#fff" opacity="0.23"/>
<circle cx="393.5" cy="447.0" r="0.79" fill="#fff" opacity="0.15"/>
<circle cx="414.9" cy="400.3" r="0.92" fill="#fff" opacity="0.21"/>
<circle cx="501.9" cy="404.4" r="0.80" fill="#fff" opacity="0.24"/>
<circle cx="392.6" cy="408.1" r="0.61" fill="#fff" opacity="0.13"/>
<circle cx="465.4" cy="407.7" r="0.88" fill="#fff" opacity="0.18"/>
<circle cx="427.4" cy="456.1" r="0.77" fill="#fff" opacity="0.23"/>
<circle cx="437.9" cy="431.1" r="0.85" fill="#fff" opacity="0.15"/>
<circle cx="456.1" cy="473.0" r="0.86" fill="#fff" opacity="0.16"/>
<circle cx="466.3" cy="493.8" r="0.73" fill="#fff" opacity="0.16"/>
<circle cx="424.9" cy="490.3" r="0.60" fill="#fff" opacity="0.10"/>
<circle cx="417.0" cy="462.6" r="0.86" fill="#fff" opacity="0.17"/>
<circle cx="502.3" cy="421.1" r="0.85" fill="#fff" opacity="0.12"/>
<circle cx="342.6" cy="412.0" r="0.57" fill="#fff" opacity="0.20"/>
<circle cx="430.2" cy="416.6" r="0.93" fill="#fff" opacity="0.17"/>
<circle cx="362.8" cy="416.2" r="0.85" fill="#fff" opacity="0.28"/>
<circle cx="364.9" cy="401.8" r="0.86" fill="#fff" opacity="0.15"/>
<circle cx="501.1" cy="447.4" r="0.80" fill="#fff" opacity="0.17"/>
<circle cx="470.9" cy="443.6" r="0.68" fill="#fff" opacity="0.28"/>
<circle cx="355.9" cy="470.1" r="0.58" fill="#fff" opacity="0.23"/>
<circle cx="404.7" cy="482.8" r="0.57" fill="#fff" opacity="0.21"/>
<circle cx="406.0" cy="488.2" r="0.93" fill="#fff" opacity="0.23"/>
<circle cx="375.2" cy="423.4" r="0.65" fill="#fff" opacity="0.19"/>
<circle cx="376.4" cy="418.7" r="0.85" fill="#fff" opacity="0.23"/>
<circle cx="387.5" cy="495.4" r="0.64" fill="#fff" opacity="0.21"/>
<circle cx="364.0" cy="482.7" r="0.90" fill="#fff" opacity="0.15"/>
<circle cx="462.8" cy="478.8" r="0.66" fill="#fff" opacity="0.17"/>
<circle cx="418.6" cy="485.4" r="0.61" fill="#fff" opacity="0.24"/>
<circle cx="437.2" cy="442.9" r="0.78" fill="#fff" opacity="0.28"/>
<circle cx="372.8" cy="484.7" r="0.69" fill="#fff" opacity="0.26"/>
<circle cx="481.3" cy="416.7" r="0.90" fill="#fff" opacity="0.30"/>
<circle cx="387.4" cy="401.4" r="0.59" fill="#fff" opacity="0.29"/>
<circle cx="339.6" cy="487.4" r="0.61" fill="#fff" opacity="0.25"/>
<circle cx="354.2" cy="415.4" r="0.82" fill="#fff" opacity="0.12"/>
<circle cx="394.4" cy="488.1" r="0.84" fill="#fff" opacity="0.28"/>
<circle cx="500.6" cy="402.2" r="0.64" fill="#fff" opacity="0.26"/>
<circle cx="452.5" cy="402.7" r="0.75" fill="#fff" opacity="0.15"/>
<circle cx="409.5" cy="409.2" r="0.56" fill="#fff" opacity="0.30"/>
<circle cx="390.5" cy="484.2" r="0.60" fill="#fff" opacity="0.20"/>
<circle cx="360.5" cy="440.6" r="0.62" fill="#fff" opacity="0.24"/>
<circle cx="362.6" cy="470.6" r="0.75" fill="#fff" opacity="0.12"/>
<circle cx="396.7" cy="447.1" r="0.92" fill="#fff" opacity="0.17"/>
<circle cx="373.7" cy="492.8" r="0.90" fill="#fff" opacity="0.25"/>
<circle cx="383.3" cy="416.2" r="0.66" fill="#fff" opacity="0.11"/>
<circle cx="345.2" cy="448.3" r="0.71" fill="#fff" opacity="0.21"/>
<circle cx="398.2" cy="400.0" r="0.83" fill="#fff" opacity="0.23"/>
<circle cx="428.3" cy="452.2" r="0.83" fill="#fff" opacity="0.30"/>
<circle cx="483.1" cy="468.6" r="0.71" fill="#fff" opacity="0.16"/>
<circle cx="407.6" cy="493.4" r="0.70" fill="#fff" opacity="0.18"/>
<circle cx="406.1" cy="412.9" r="0.95" fill="#fff" opacity="0.10"/>
<circle cx="438.9" cy="488.8" r="0.65" fill="#fff" opacity="0.22"/>
<circle cx="400.6" cy="422.4" r="0.63" fill="#fff" opacity="0.12"/>
<circle cx="477.9" cy="475.0" r="0.91" fill="#fff" opacity="0.11"/>
<circle cx="453.2" cy="430.5" r="0.81" fill="#fff" opacity="0.21"/>
<circle cx="390.4" cy="493.2" r="0.55" fill="#fff" opacity="0.25"/>
<circle cx="479.7" cy="448.5" r="0.79" fill="#fff" opacity="0.30"/>
<circle cx="376.9" cy="460.1" r="0.85" fill="#fff" opacity="0.18"/>
<circle cx="456.2" cy="437.2" r="0.76" fill="#fff" opacity="0.22"/>
<circle cx="450.4" cy="430.2" r="0.80" fill="#fff" opacity="0.21"/>
<circle cx="375.1" cy="458.4" r="0.66" fill="#fff" opacity="0.28"/>
<circle cx="416.6" cy="469.0" r="0.76" fill="#fff" opacity="0.20"/>
<circle cx="374.7" cy="412.8" r="0.92" fill="#fff" opacity="0.21"/>
<circle cx="425.0" cy="450.2" r="0.88" fill="#fff" opacity="0.15"/>
<circle cx="366.6" cy="478.7" r="0.73" fill="#fff" opacity="0.23"/>
<circle cx="475.4" cy="485.7" r="0.90" fill="#fff" opacity="0.11"/>
<circle cx="401.3" cy="479.7" r="0.88" fill="#fff" opacity="0.12"/>
<circle cx="363.5" cy="423.4" r="0.59" fill="#fff" opacity="0.17"/>
<circle cx="471.3" cy="449.6" r="0.73" fill="#fff" opacity="0.12"/>
<circle cx="403.7" cy="495.7" r="0.83" fill="#fff" opacity="0.19"/>
<circle cx="417.4" cy="476.4" r="0.85" fill="#fff" opacity="0.13"/>
<circle cx="450.9" cy="434.6" r="0.76" fill="#fff" opacity="0.15"/>
<circle cx="399.5" cy="432.0" r="0.70" fill="#fff" opacity="0.10"/>
<circle cx="371.3" cy="454.3" r="0.57" fill="#fff" opacity="0.14"/>
<circle cx="457.2" cy="425.6" r="0.68" fill="#fff" opacity="0.15"/>
<circle cx="476.5" cy="407.9" r="0.80" fill="#fff" opacity="0.27"/>
<circle cx="371.5" cy="440.0" r="0.87" fill="#fff" opacity="0.22"/>
<circle cx="399.7" cy="403.3" r="0.73" fill="#fff" opacity="0.17"/>
<circle cx="456.3" cy="427.6" r="0.71" fill="#fff" opacity="0.23"/>
<circle cx="472.6" cy="433.2" r="0.70" fill="#fff" opacity="0.22"/>
<circle cx="491.5" cy="417.6" r="0.94" fill="#fff" opacity="0.24"/>
<circle cx="399.8" cy="463.6" r="0.68" fill="#fff" opacity="0.11"/>
<circle cx="463.5" cy="435.8" r="0.76" fill="#fff" opacity="0.20"/>
<circle cx="487.6" cy="472.4" r="0.56" fill="#fff" opacity="0.22"/>
<circle cx="414.8" cy="443.8" r="0.89" fill="#fff" opacity="0.18"/>
<circle cx="416.6" cy="485.4" r="0.73" fill="#fff" opacity="0.20"/>
<circle cx="423.0" cy="479.0" r="0.82" fill="#fff" opacity="0.25"/>
<circle cx="404.7" cy="402.9" r="0.82" fill="#fff" opacity="0.21"/>
<circle cx="465.7" cy="473.7" r="0.60" fill="#fff" opacity="0.14"/>
<circle cx="350.8" cy="478.3" r="0.59" fill="#fff" opacity="0.12"/>
<circle cx="463.0" cy="453.7" r="0.57" fill="#fff" opacity="0.24"/>
<circle cx="456.0" cy="445.8" r="0.57" fill="#fff" opacity="0.24"/>
<circle cx="407.4" cy="455.6" r="0.95" fill="#fff" opacity="0.26"/>
<circle cx="482.7" cy="413.1" r="0.68" fill="#fff" opacity="0.20"/>
<circle cx="339.0" cy="494.9" r="0.66" fill="#fff" opacity="0.15"/>
<circle cx="390.0" cy="423.7" r="0.89" fill="#fff" opacity="0.21"/>
<circle cx="422.8" cy="439.8" r="0.57" fill="#fff" opacity="0.16"/>
<circle cx="481.9" cy="476.8" r="0.89" fill="#fff" opacity="0.15"/>
<circle cx="371.5" cy="404.1" r="0.76" fill="#fff" opacity="0.17"/>
<circle cx="415.1" cy="446.4" r="0.78" fill="#fff" opacity="0.17"/>
<circle cx="471.0" cy="418.4" r="0.92" fill="#fff" opacity="0.21"/>
<circle cx="346.5" cy="429.5" r="0.76" fill="#fff" opacity="0.18"/>
<circle cx="431.8" cy="430.4" r="0.66" fill="#fff" opacity="0.26"/>
<circle cx="386.4" cy="467.9" r="0.87" fill="#fff" opacity="0.22"/>
<circle cx="413.5" cy="489.7" r="0.73" fill="#fff" opacity="0.28"/>
<circle cx="347.6" cy="441.1" r="0.81" fill="#fff" opacity="0.11"/>
<circle cx="481.2" cy="406.0" r="0.79" fill="#fff" opacity="0.14"/>
<circle cx="491.1" cy="453.4" r="0.87" fill="#fff" opacity="0.20"/>
<circle cx="449.9" cy="464.5" r="0.67" fill="#fff" opacity="0.14"/>
<circle cx="477.2" cy="413.1" r="0.92" fill="#fff" opacity="0.14"/>
<circle cx="354.7" cy="408.2" r="0.86" fill="#fff" opacity="0.29"/>
<circle cx="406.8" cy="462.9" r="0.65" fill="#fff" opacity="0.28"/>
<circle cx="451.9" cy="414.0" r="0.57" fill="#fff" opacity="0.24"/>
<circle cx="344.9" cy="480.1" r="0.67" fill="#fff" opacity="0.15"/>
<circle cx="434.6" cy="429.9" r="0.77" fill="#fff" opacity="0.13"/>
<circle cx="489.4" cy="430.5" r="0.89" fill="#fff" opacity="0.13"/>
<circle cx="470.7" cy="494.1" r="0.71" fill="#fff" opacity="0.11"/>
<circle cx="401.1" cy="461.2" r="0.64" fill="#fff" opacity="0.21"/>
<circle cx="353.5" cy="444.1" r="0.84" fill="#fff" opacity="0.19"/>
<circle cx="450.7" cy="410.1" r="0.88" fill="#fff" opacity="0.12"/>
<circle cx="491.3" cy="495.6" r="0.93" fill="#fff" opacity="0.21"/>
<circle cx="386.3" cy="432.8" r="0.85" fill="#fff" opacity="0.20"/>
<circle cx="492.4" cy="408.0" r="0.74" fill="#fff" opacity="0.27"/>
<circle cx="437.2" cy="451.4" r="0.59" fill="#fff" opacity="0.13"/>
<circle cx="383.0" cy="485.6" r="0.89" fill="#fff" opacity="0.15"/>
<circle cx="491.5" cy="402.1" r="0.79" fill="#fff" opacity="0.29"/>
<circle cx="395.2" cy="490.6" r="0.81" fill="#fff" opacity="0.11"/>
<circle cx="393.3" cy="442.6" r="0.65" fill="#fff" opacity="0.25"/>
<circle cx="367.7" cy="475.4" r="0.67" fill="#fff" opacity="0.11"/>
<circle cx="430.8" cy="408.3" r="0.77" fill="#fff" opacity="0.26"/>
<circle cx="436.9" cy="443.8" r="0.56" fill="#fff" opacity="0.20"/>
<circle cx="354.1" cy="461.7" r="0.60" fill="#fff" opacity="0.22"/>
<circle cx="396.6" cy="435.3" r="0.82" fill="#fff" opacity="0.13"/>
<circle cx="366.2" cy="490.3" r="0.68" fill="#fff" opacity="0.27"/>
<circle cx="483.0" cy="445.6" r="0.61" fill="#fff" opacity="0.12"/>
<circle cx="483.9" cy="410.4" r="0.75" fill="#fff" opacity="0.21"/>
<circle cx="357.5" cy="444.4" r="0.62" fill="#fff" opacity="0.21"/>
<circle cx="422.1" cy="434.6" r="0.63" fill="#fff" opacity="0.18"/>
<circle cx="371.8" cy="411.3" r="0.65" fill="#fff" opacity="0.27"/>
<circle cx="421.3" cy="485.4" r="0.56" fill="#fff" opacity="0.29"/>
<circle cx="419.1" cy="475.7" r="0.78" fill="#fff" opacity="0.24"/>
<circle cx="376.1" cy="471.8" r="0.61" fill="#fff" opacity="0.15"/>
<circle cx="343.1" cy="437.1" r="0.76" fill="#fff" opacity="0.16"/>
<circle cx="485.8" cy="407.2" r="0.78" fill="#fff" opacity="0.15"/>
<circle cx="436.8" cy="475.0" r="0.83" fill="#fff" opacity="0.11"/>
<circle cx="378.8" cy="457.1" r="0.94" fill="#fff" opacity="0.11"/>
<circle cx="440.6" cy="466.1" r="0.88" fill="#fff" opacity="0.17"/>
<circle cx="472.6" cy="443.8" r="0.92" fill="#fff" opacity="0.10"/>
<circle cx="494.1" cy="439.0" r="0.71" fill="#fff" opacity="0.12"/>
<circle cx="378.6" cy="470.2" r="0.82" fill="#fff" opacity="0.13"/>
<circle cx="395.2" cy="412.6" r="0.63" fill="#fff" opacity="0.14"/>
<circle cx="393.0" cy="493.7" r="0.95" fill="#fff" opacity="0.26"/>
<circle cx="417.6" cy="447.2" r="0.86" fill="#fff" opacity="0.28"/>
<circle cx="462.7" cy="460.7" r="0.63" fill="#fff" opacity="0.23"/>
<circle cx="478.4" cy="475.3" r="0.59" fill="#fff" opacity="0.24"/>
<circle cx="396.0" cy="414.7" r="0.94" fill="#fff" opacity="0.23"/>
<circle cx="461.8" cy="412.1" r="0.88" fill="#fff" opacity="0.29"/>
<circle cx="488.2" cy="471.3" r="0.88" fill="#fff" opacity="0.26"/>
<circle cx="436.0" cy="441.2" r="0.88" fill="#fff" opacity="0.26"/>
<circle cx="482.6" cy="428.0" r="0.93" fill="#fff" opacity="0.21"/>
<circle cx="495.0" cy="410.2" r="0.94" fill="#fff" opacity="0.26"/>
<circle cx="379.8" cy="480.3" r="0.64" fill="#fff" opacity="0.14"/>
<circle cx="414.0" cy="422.0" r="0.75" fill="#fff" opacity="0.28"/>
<circle cx="451.8" cy="467.9" r="0.71" fill="#fff" opacity="0.26"/>
<circle cx="469.7" cy="465.2" r="0.93" fill="#fff" opacity="0.27"/>
<circle cx="405.4" cy="407.4" r="0.81" fill="#fff" opacity="0.27"/>
<circle cx="394.4" cy="456.7" r="0.88" fill="#fff" opacity="0.26"/>
<circle cx="338.7" cy="446.4" r="0.56" fill="#fff" opacity="0.12"/>
<circle cx="472.9" cy="439.6" r="0.79" fill="#fff" opacity="0.19"/>
<circle cx="393.7" cy="419.7" r="0.69" fill="#fff" opacity="0.27"/>
<circle cx="440.8" cy="427.3" r="0.59" fill="#fff" opacity="0.15"/>
<circle cx="454.4" cy="441.9" r="0.81" fill="#fff" opacity="0.26"/>
<circle cx="358.0" cy="465.2" r="0.57" fill="#fff" opacity="0.26"/>
<circle cx="368.6" cy="425.3" r="0.93" fill="#fff" opacity="0.17"/>
<circle cx="375.2" cy="485.3" r="0.79" fill="#fff" opacity="0.28"/>
<circle cx="403.5" cy="447.5" r="0.93" fill="#fff" opacity="0.20"/>
<circle cx="502.1" cy="417.4" r="0.88" fill="#fff" opacity="0.13"/>
<circle cx="425.5" cy="399.0" r="0.62" fill="#fff" opacity="0.29"/>
<circle cx="413.5" cy="477.5" r="0.65" fill="#fff" opacity="0.17"/>
<circle cx="354.8" cy="452.6" r="0.89" fill="#fff" opacity="0.20"/>
<circle cx="400.5" cy="489.1" r="0.91" fill="#fff" opacity="0.23"/>
<circle cx="350.6" cy="459.5" r="0.73" fill="#fff" opacity="0.29"/>
<circle cx="398.1" cy="463.1" r="0.80" fill="#fff" opacity="0.18"/>
<circle cx="424.7" cy="464.6" r="0.91" fill="#fff" opacity="0.20"/>
<circle cx="398.4" cy="493.7" r="0.57" fill="#fff" opacity="0.27"/>
<circle cx="451.5" cy="453.1" r="0.73" fill="#fff" opacity="0.25"/>
<circle cx="485.9" cy="469.7" r="0.85" fill="#fff" opacity="0.11"/>
<circle cx="392.0" cy="412.3" r="0.93" fill="#fff" opacity="0.28"/>
<circle cx="362.0" cy="456.0" r="0.78" fill="#fff" opacity="0.11"/>
<circle cx="403.1" cy="471.5" r="0.81" fill="#fff" opacity="0.16"/>
<circle cx="464.6" cy="427.2" r="0.77" fill="#fff" opacity="0.18"/>
<circle cx="500.4" cy="461.9" r="0.87" fill="#fff" opacity="0.24"/>
<circle cx="401.2" cy="492.4" r="0.83" fill="#fff" opacity="0.24"/>
<circle cx="384.1" cy="414.7" r="0.78" fill="#fff" opacity="0.27"/>
<circle cx="469.7" cy="432.7" r="0.61" fill="#fff" opacity="0.20"/>
<circle cx="483.6" cy="414.7" r="0.85" fill="#fff" opacity="0.13"/>
<circle cx="389.8" cy="404.2" r="0.67" fill="#fff" opacity="0.18"/>
<circle cx="498.5" cy="492.3" r="0.62" fill="#fff" opacity="0.16"/>
<circle cx="494.7" cy="418.1" r="0.68" fill="#fff" opacity="0.19"/>
<circle cx="356.0" cy="424.2" r="0.71" fill="#fff" opacity="0.18"/>
<circle cx="498.0" cy="424.9" r="0.63" fill="#fff" opacity="0.28"/>
<circle cx="412.7" cy="480.2" r="0.80" fill="#fff" opacity="0.26"/>
<circle cx="390.2" cy="413.8" r="0.85" fill="#fff" opacity="0.19"/>
<circle cx="430.8" cy="464.0" r="0.85" fill="#fff" opacity="0.16"/>
<circle cx="398.2" cy="488.0" r="0.76" fill="#fff" opacity="0.16"/>
<circle cx="442.6" cy="424.2" r="0.86" fill="#fff" opacity="0.11"/>
<circle cx="475.2" cy="453.9" r="0.69" fill="#fff" opacity="0.29"/>
<circle cx="382.1" cy="422.6" r="0.58" fill="#fff" opacity="0.21"/>
<circle cx="463.1" cy="464.8" r="0.72" fill="#fff" opacity="0.26"/>
<circle cx="356.5" cy="428.8" r="0.81" fill="#fff" opacity="0.29"/>
<circle cx="443.2" cy="466.1" r="0.86" fill="#fff" opacity="0.18"/>
<circle cx="494.1" cy="471.0" r="0.69" fill="#fff" opacity="0.18"/>
<circle cx="471.8" cy="432.9" r="0.62" fill="#fff" opacity="0.27"/>
<circle cx="426.3" cy="449.6" r="0.82" fill="#fff" opacity="0.28"/>
<circle cx="360.2" cy="431.9" r="0.58" fill="#fff" opacity="0.18"/>
<circle cx="421.4" cy="481.6" r="0.82" fill="#fff" opacity="0.22"/>
<circle cx="405.0" cy="454.7" r="0.66" fill="#fff" opacity="0.27"/>
<circle cx="468.9" cy="480.3" r="0.61" fill="#fff" opacity="0.23"/>
<circle cx="463.2" cy="447.6" r="0.91" fill="#fff" opacity="0.28"/>
<circle cx="461.3" cy="478.6" r="0.81" fill="#fff" opacity="0.28"/>
<circle cx="359.8" cy="467.3" r="0.83" fill="#fff" opacity="0.22"/>
<circle cx="383.7" cy="405.5" r="0.79" fill="#fff" opacity="0.26"/>
<circle cx="383.3" cy="419.7" r="0.64" fill="#fff" opacity="0.38"/>
<circle cx="450.2" cy="493.6" r="0.87" fill="#fff" opacity="0.46"/>
<circle cx="454.1" cy="406.0" r="0.89" fill="#fff" opacity="0.45"/>
<circle cx="338.6" cy="460.0" r="0.61" fill="#fff" opacity="0.43"/>
<circle cx="347.8" cy="442.2" r="0.77" fill="#fff" opacity="0.59"/>
<circle cx="344.6" cy="479.3" r="0.59" fill="#fff" opacity="0.42"/>
<circle cx="442.5" cy="432.0" r="0.68" fill="#fff" opacity="0.52"/>
<circle cx="374.2" cy="476.0" r="0.63" fill="#fff" opacity="0.60"/>
<circle cx="472.2" cy="451.1" r="0.56" fill="#fff" opacity="0.58"/>
<circle cx="342.7" cy="448.0" r="0.72" fill="#fff" opacity="0.37"/>
<circle cx="442.6" cy="469.3" r="0.78" fill="#fff" opacity="0.47"/>
<circle cx="423.0" cy="456.1" r="0.64" fill="#fff" opacity="0.61"/>
<circle cx="503.3" cy="477.0" r="0.93" fill="#fff" opacity="0.45"/>
<circle cx="501.7" cy="405.9" r="0.74" fill="#fff" opacity="0.39"/>
<circle cx="413.4" cy="465.2" r="0.83" fill="#fff" opacity="0.49"/>
<circle cx="394.7" cy="417.4" r="0.71" fill="#fff" opacity="0.43"/>
<circle cx="370.2" cy="470.4" r="0.76" fill="#fff" opacity="0.48"/>
<circle cx="370.8" cy="467.3" r="0.63" fill="#fff" opacity="0.43"/>
<circle cx="431.0" cy="467.0" r="0.94" fill="#fff" opacity="0.57"/>
<circle cx="495.4" cy="488.2" r="0.84" fill="#fff" opacity="0.57"/>
<circle cx="348.4" cy="418.9" r="0.56" fill="#fff" opacity="0.61"/>
<circle cx="457.8" cy="460.1" r="0.66" fill="#fff" opacity="0.46"/>
<circle cx="365.2" cy="460.3" r="0.95" fill="#fff" opacity="0.44"/>
<circle cx="345.3" cy="416.0" r="0.69" fill="#fff" opacity="0.62"/>
<circle cx="471.5" cy="443.1" r="0.59" fill="#fff" opacity="0.38"/>
<circle cx="363.5" cy="474.4" r="0.74" fill="#fff" opacity="0.65"/>
<circle cx="489.3" cy="476.1" r="0.74" fill="#fff" opacity="0.60"/>
<circle cx="359.3" cy="409.6" r="0.78" fill="#fff" opacity="0.50"/>
<circle cx="372.7" cy="423.4" r="0.56" fill="#fff" opacity="0.62"/>
<circle cx="455.9" cy="490.7" r="0.94" fill="#fff" opacity="0.48"/>
<circle cx="459.6" cy="436.3" r="0.87" fill="#fff" opacity="0.60"/>
<circle cx="360.2" cy="400.2" r="0.64" fill="#fff" opacity="0.53"/>
<circle cx="400.9" cy="399.9" r="0.88" fill="#fff" opacity="0.59"/>
<circle cx="415.0" cy="403.2" r="0.91" fill="#fff" opacity="0.51"/>
<circle cx="349.8" cy="430.4" r="0.80" fill="#fff" opacity="0.62"/>
<circle cx="418.4" cy="461.0" r="0.63" fill="#fff" opacity="0.42"/>
<circle cx="488.4" cy="436.1" r="0.59" fill="#fff" opacity="0.53"/>
<circle cx="359.0" cy="418.4" r="0.73" fill="#fff" opacity="0.53"/>
<circle cx="443.6" cy="467.6" r="0.73" fill="#fff" opacity="0.37"/>
<circle cx="458.3" cy="404.2" r="0.74" fill="#fff" opacity="0.47"/>
<circle cx="449.7" cy="468.2" r="0.65" fill="#fff" opacity="0.54"/>
<circle cx="452.9" cy="444.8" r="0.61" fill="#fff" opacity="0.62"/>
<circle cx="437.4" cy="405.1" r="0.65" fill="#fff" opacity="0.65"/>
<circle cx="376.0" cy="437.1" r="0.87" fill="#fff" opacity="0.60"/>
<circle cx="443.2" cy="470.9" r="0.57" fill="#fff" opacity="0.38"/>
<circle cx="500.0" cy="476.9" r="0.57" fill="#fff" opacity="0.36"/>
<circle cx="377.9" cy="489.3" r="0.64" fill="#fff" opacity="0.55"/>
<circle cx="492.4" cy="460.9" r="0.92" fill="#fff" opacity="0.43"/>
<circle cx="363.5" cy="400.8" r="0.85" fill="#fff" opacity="0.38"/>
<circle cx="499.5" cy="467.9" r="0.62" fill="#fff" opacity="0.59"/>
<circle cx="365.0" cy="448.7" r="0.59" fill="#fff" opacity="0.59"/>
<circle cx="485.7" cy="487.9" r="0.55" fill="#fff" opacity="0.61"/>
<circle cx="430.3" cy="478.7" r="0.75" fill="#fff" opacity="0.54"/>
<circle cx="436.7" cy="476.6" r="0.58" fill="#fff" opacity="0.37"/>
<circle cx="428.5" cy="427.2" r="0.71" fill="#fff" opacity="0.35"/>
<circle cx="461.7" cy="401.3" r="0.88" fill="#fff" opacity="0.59"/>
<circle cx="414.0" cy="410.8" r="0.81" fill="#fff" opacity="0.41"/>
<circle cx="409.2" cy="409.7" r="0.94" fill="#fff" opacity="0.51"/>
<circle cx="396.5" cy="408.1" r="0.84" fill="#fff" opacity="0.60"/>
<circle cx="478.8" cy="408.8" r="0.70" fill="#fff" opacity="0.44"/>
<circle cx="464.6" cy="413.3" r="0.79" fill="#fff" opacity="0.64"/>
<circle cx="465.6" cy="399.7" r="0.58" fill="#fff" opacity="0.38"/>
<circle cx="452.9" cy="457.1" r="0.76" fill="#fff" opacity="0.49"/>
<circle cx="405.6" cy="458.3" r="0.81" fill="#fff" opacity="0.62"/>
<circle cx="459.6" cy="476.3" r="0.92" fill="#fff" opacity="0.60"/>
<circle cx="457.0" cy="402.0" r="0.82" fill="#fff" opacity="0.60"/>
<circle cx="409.5" cy="484.2" r="0.62" fill="#fff" opacity="0.63"/>
<circle cx="411.3" cy="467.5" r="0.65" fill="#fff" opacity="0.44"/>
<circle cx="395.8" cy="430.5" r="0.59" fill="#fff" opacity="0.48"/>
<circle cx="500.8" cy="462.4" r="0.92" fill="#fff" opacity="0.58"/>
<circle cx="476.9" cy="495.4" r="0.85" fill="#fff" opacity="0.43"/>
<circle cx="379.5" cy="439.0" r="0.56" fill="#fff" opacity="0.42"/>
<circle cx="485.1" cy="488.3" r="0.68" fill="#fff" opacity="0.58"/>
<circle cx="466.6" cy="485.3" r="0.87" fill="#fff" opacity="0.51"/>
<circle cx="355.4" cy="479.1" r="0.68" fill="#fff" opacity="0.54"/>
<circle cx="398.9" cy="451.1" r="0.94" fill="#fff" opacity="0.40"/>
<circle cx="426.1" cy="462.0" r="0.77" fill="#fff" opacity="0.63"/>
<circle cx="405.6" cy="487.6" r="0.83" fill="#fff" opacity="0.64"/>
<circle cx="352.9" cy="419.6" r="0.66" fill="#fff" opacity="0.62"/>
<circle cx="340.3" cy="424.2" r="0.84" fill="#fff" opacity="0.65"/>
<circle cx="367.3" cy="441.5" r="0.82" fill="#fff" opacity="0.56"/>
<circle cx="461.8" cy="472.1" r="0.65" fill="#fff" opacity="0.43"/>
<circle cx="342.6" cy="466.0" r="0.63" fill="#fff" opacity="0.43"/>
<circle cx="498.1" cy="461.4" r="0.79" fill="#fff" opacity="0.55"/>
<circle cx="437.2" cy="466.4" r="0.67" fill="#fff" opacity="0.37"/>
<circle cx="349.1" cy="400.4" r="0.69" fill="#fff" opacity="0.39"/>
<circle cx="356.7" cy="446.9" r="0.94" fill="#fff" opacity="0.56"/>
<circle cx="383.4" cy="473.6" r="0.62" fill="#fff" opacity="0.38"/>
<circle cx="388.3" cy="438.7" r="0.83" fill="#fff" opacity="0.48"/>
<circle cx="458.9" cy="408.2" r="0.92" fill="#fff" opacity="0.45"/>
<circle cx="476.2" cy="402.0" r="0.88" fill="#fff" opacity="0.42"/>
<circle cx="479.9" cy="476.9" r="0.82" fill="#fff" opacity="0.43"/>
<circle cx="339.6" cy="417.4" r="0.91" fill="#fff" opacity="0.40"/>
<circle cx="447.4" cy="455.9" r="0.81" fill="#fff" opacity="0.40"/>
<circle cx="361.8" cy="408.4" r="0.94" fill="#fff" opacity="0.46"/>
<circle cx="446.3" cy="454.3" r="0.64" fill="#fff" opacity="0.37"/>
<circle cx="340.5" cy="481.7" r="0.60" fill="#fff" opacity="0.64"/>
<circle cx="398.4" cy="469.1" r="0.61" fill="#fff" opacity="0.59"/>
<circle cx="379.8" cy="434.5" r="0.76" fill="#fff" opacity="0.38"/>
<circle cx="379.2" cy="476.2" r="0.66" fill="#fff" opacity="0.46"/>
<circle cx="465.0" cy="420.7" r="0.63" fill="#fff" opacity="0.42"/>
<circle cx="401.8" cy="434.4" r="0.81" fill="#fff" opacity="0.49"/>
<circle cx="482.4" cy="403.9" r="0.82" fill="#fff" opacity="0.60"/>
<circle cx="377.0" cy="401.9" r="0.73" fill="#fff" opacity="0.38"/>
<circle cx="414.4" cy="468.0" r="0.59" fill="#fff" opacity="0.39"/>
<circle cx="417.6" cy="415.9" r="0.64" fill="#fff" opacity="0.48"/>
<circle cx="357.6" cy="405.6" r="0.69" fill="#fff" opacity="0.49"/>
<circle cx="493.5" cy="452.8" r="0.58" fill="#fff" opacity="0.42"/>
<circle cx="461.5" cy="453.6" r="0.90" fill="#fff" opacity="0.64"/>
<circle cx="480.4" cy="409.7" r="0.93" fill="#fff" opacity="0.51"/>
<circle cx="545.6" cy="417.4" r="0.90" fill="#fff" opacity="0.14"/>
<circle cx="519.7" cy="426.5" r="0.92" fill="#fff" opacity="0.19"/>
<circle cx="626.7" cy="408.1" r="0.73" fill="#fff" opacity="0.16"/>
<circle cx="539.9" cy="464.6" r="0.69" fill="#fff" opacity="0.12"/>
<circle cx="668.4" cy="447.2" r="0.62" fill="#fff" opacity="0.10"/>
<circle cx="613.7" cy="450.4" r="0.56" fill="#fff" opacity="0.19"/>
<circle cx="628.2" cy="452.6" r="0.64" fill="#fff" opacity="0.20"/>
<circle cx="605.8" cy="463.5" r="0.61" fill="#fff" opacity="0.26"/>
<circle cx="662.0" cy="472.1" r="0.89" fill="#fff" opacity="0.17"/>
<circle cx="654.9" cy="418.4" r="0.64" fill="#fff" opacity="0.22"/>
<circle cx="654.8" cy="408.9" r="0.64" fill="#fff" opacity="0.11"/>
<circle cx="578.4" cy="414.5" r="0.63" fill="#fff" opacity="0.25"/>
<circle cx="602.2" cy="491.2" r="0.71" fill="#fff" opacity="0.24"/>
<circle cx="508.1" cy="492.0" r="0.64" fill="#fff" opacity="0.20"/>
<circle cx="590.4" cy="492.0" r="0.75" fill="#fff" opacity="0.30"/>
<circle cx="608.5" cy="421.8" r="0.88" fill="#fff" opacity="0.14"/>
<circle cx="670.9" cy="444.8" r="0.64" fill="#fff" opacity="0.29"/>
<circle cx="559.1" cy="440.1" r="0.69" fill="#fff" opacity="0.23"/>
<circle cx="509.8" cy="436.9" r="0.61" fill="#fff" opacity="0.27"/>
<circle cx="506.0" cy="459.3" r="0.65" fill="#fff" opacity="0.19"/>
<circle cx="598.7" cy="469.3" r="0.61" fill="#fff" opacity="0.15"/>
<circle cx="525.9" cy="493.2" r="0.61" fill="#fff" opacity="0.13"/>
<circle cx="592.2" cy="456.8" r="0.90" fill="#fff" opacity="0.11"/>
<circle cx="544.7" cy="417.1" r="0.78" fill="#fff" opacity="0.19"/>
<circle cx="573.5" cy="486.3" r="0.81" fill="#fff" opacity="0.27"/>
<circle cx="663.9" cy="426.8" r="0.93" fill="#fff" opacity="0.18"/>
<circle cx="514.5" cy="488.8" r="0.59" fill="#fff" opacity="0.10"/>
<circle cx="553.8" cy="428.7" r="0.94" fill="#fff" opacity="0.27"/>
<circle cx="575.3" cy="451.8" r="0.89" fill="#fff" opacity="0.26"/>
<circle cx="613.8" cy="450.2" r="0.60" fill="#fff" opacity="0.15"/>
<circle cx="614.6" cy="457.3" r="0.87" fill="#fff" opacity="0.28"/>
<circle cx="664.8" cy="419.5" r="0.58" fill="#fff" opacity="0.28"/>
<circle cx="600.1" cy="418.4" r="0.83" fill="#fff" opacity="0.15"/>
<circle cx="545.0" cy="436.2" r="0.76" fill="#fff" opacity="0.24"/>
<circle cx="518.1" cy="472.2" r="0.80" fill="#fff" opacity="0.19"/>
<circle cx="616.9" cy="477.8" r="0.55" fill="#fff" opacity="0.20"/>
<circle cx="617.9" cy="469.1" r="0.81" fill="#fff" opacity="0.14"/>
<circle cx="664.2" cy="476.4" r="0.64" fill="#fff" opacity="0.19"/>
<circle cx="664.1" cy="420.9" r="0.71" fill="#fff" opacity="0.29"/>
<circle cx="654.5" cy="423.3" r="0.84" fill="#fff" opacity="0.17"/>
<circle cx="615.5" cy="474.6" r="0.60" fill="#fff" opacity="0.14"/>
<circle cx="541.5" cy="426.5" r="0.56" fill="#fff" opacity="0.13"/>
<circle cx="573.0" cy="441.4" r="0.58" fill="#fff" opacity="0.22"/>
<circle cx="661.5" cy="456.4" r="0.69" fill="#fff" opacity="0.24"/>
<circle cx="578.1" cy="417.8" r="0.74" fill="#fff" opacity="0.10"/>
<circle cx="617.5" cy="416.5" r="0.70" fill="#fff" opacity="0.29"/>
<circle cx="632.5" cy="481.2" r="0.81" fill="#fff" opacity="0.23"/>
<circle cx="622.3" cy="493.8" r="0.63" fill="#fff" opacity="0.25"/>
<circle cx="555.6" cy="425.6" r="0.88" fill="#fff" opacity="0.22"/>
<circle cx="646.2" cy="485.0" r="0.79" fill="#fff" opacity="0.14"/>
<circle cx="508.5" cy="452.3" r="0.84" fill="#fff" opacity="0.15"/>
<circle cx="517.6" cy="401.5" r="0.62" fill="#fff" opacity="0.24"/>
<circle cx="506.6" cy="423.1" r="0.66" fill="#fff" opacity="0.24"/>
<circle cx="668.9" cy="402.9" r="0.60" fill="#fff" opacity="0.29"/>
<circle cx="666.0" cy="415.3" r="0.68" fill="#fff" opacity="0.20"/>
<circle cx="558.8" cy="441.1" r="0.74" fill="#fff" opacity="0.15"/>
<circle cx="515.1" cy="409.1" r="0.61" fill="#fff" opacity="0.12"/>
<circle cx="609.0" cy="467.9" r="0.66" fill="#fff" opacity="0.26"/>
<circle cx="626.2" cy="433.8" r="0.75" fill="#fff" opacity="0.14"/>
<circle cx="659.3" cy="454.8" r="0.57" fill="#fff" opacity="0.13"/>
<circle cx="620.3" cy="438.0" r="0.84" fill="#fff" opacity="0.15"/>
<circle cx="637.5" cy="478.0" r="0.59" fill="#fff" opacity="0.22"/>
<circle cx="537.6" cy="468.9" r="0.87" fill="#fff" opacity="0.26"/>
<circle cx="544.2" cy="410.0" r="0.82" fill="#fff" opacity="0.21"/>
<circle cx="528.8" cy="419.5" r="0.78" fill="#fff" opacity="0.12"/>
<circle cx="610.6" cy="424.1" r="0.65" fill="#fff" opacity="0.18"/>
<circle cx="594.0" cy="470.5" r="0.56" fill="#fff" opacity="0.24"/>
<circle cx="542.5" cy="428.9" r="0.81" fill="#fff" opacity="0.24"/>
<circle cx="607.4" cy="487.6" r="0.63" fill="#fff" opacity="0.16"/>
<circle cx="615.3" cy="426.0" r="0.61" fill="#fff" opacity="0.15"/>
<circle cx="633.3" cy="480.4" r="0.84" fill="#fff" opacity="0.29"/>
<circle cx="637.1" cy="430.7" r="0.68" fill="#fff" opacity="0.24"/>
<circle cx="515.2" cy="459.5" r="0.59" fill="#fff" opacity="0.11"/>
<circle cx="590.8" cy="415.5" r="0.92" fill="#fff" opacity="0.28"/>
<circle cx="582.2" cy="420.0" r="0.60" fill="#fff" opacity="0.20"/>
<circle cx="592.0" cy="435.8" r="0.84" fill="#fff" opacity="0.21"/>
<circle cx="633.9" cy="411.2" r="0.58" fill="#fff" opacity="0.18"/>
<circle cx="585.8" cy="425.2" r="0.82" fill="#fff" opacity="0.14"/>
<circle cx="558.5" cy="446.8" r="0.83" fill="#fff" opacity="0.25"/>
<circle cx="567.3" cy="443.9" r="0.92" fill="#fff" opacity="0.29"/>
<circle cx="608.1" cy="411.1" r="0.73" fill="#fff" opacity="0.23"/>
<circle cx="552.0" cy="404.6" r="0.94" fill="#fff" opacity="0.28"/>
<circle cx="527.3" cy="445.7" r="0.80" fill="#fff" opacity="0.16"/>
<circle cx="517.3" cy="473.1" r="0.86" fill="#fff" opacity="0.19"/>
<circle cx="520.1" cy="438.8" r="0.59" fill="#fff" opacity="0.29"/>
<circle cx="514.5" cy="428.7" r="0.86" fill="#fff" opacity="0.13"/>
<circle cx="523.6" cy="407.8" r="0.62" fill="#fff" opacity="0.21"/>
<circle cx="643.5" cy="417.2" r="0.62" fill="#fff" opacity="0.25"/>
<circle cx="576.3" cy="433.5" r="0.60" fill="#fff" opacity="0.15"/>
<circle cx="666.3" cy="412.2" r="0.65" fill="#fff" opacity="0.25"/>
<circle cx="653.1" cy="487.8" r="0.74" fill="#fff" opacity="0.29"/>
<circle cx="605.7" cy="428.7" r="0.74" fill="#fff" opacity="0.24"/>
<circle cx="627.1" cy="413.4" r="0.63" fill="#fff" opacity="0.29"/>
<circle cx="523.7" cy="479.1" r="0.69" fill="#fff" opacity="0.15"/>
<circle cx="548.1" cy="446.0" r="0.95" fill="#fff" opacity="0.13"/>
<circle cx="647.0" cy="431.8" r="0.62" fill="#fff" opacity="0.25"/>
<circle cx="562.4" cy="419.0" r="0.72" fill="#fff" opacity="0.26"/>
<circle cx="648.4" cy="456.2" r="0.55" fill="#fff" opacity="0.25"/>
<circle cx="606.1" cy="487.3" r="0.93" fill="#fff" opacity="0.17"/>
<circle cx="646.0" cy="479.6" r="0.66" fill="#fff" opacity="0.17"/>
<circle cx="567.8" cy="434.9" r="0.70" fill="#fff" opacity="0.12"/>
<circle cx="543.5" cy="488.3" r="0.71" fill="#fff" opacity="0.23"/>
<circle cx="652.4" cy="473.5" r="0.65" fill="#fff" opacity="0.28"/>
<circle cx="638.7" cy="496.1" r="0.84" fill="#fff" opacity="0.25"/>
<circle cx="640.1" cy="425.3" r="0.81" fill="#fff" opacity="0.18"/>
<circle cx="644.6" cy="413.8" r="0.77" fill="#fff" opacity="0.17"/>
<circle cx="641.4" cy="434.1" r="0.89" fill="#fff" opacity="0.27"/>
<circle cx="651.0" cy="414.4" r="0.93" fill="#fff" opacity="0.25"/>
<circle cx="617.7" cy="463.6" r="0.57" fill="#fff" opacity="0.27"/>
<circle cx="596.4" cy="444.7" r="0.69" fill="#fff" opacity="0.26"/>
<circle cx="635.1" cy="484.5" r="0.64" fill="#fff" opacity="0.17"/>
<circle cx="547.1" cy="410.6" r="0.68" fill="#fff" opacity="0.11"/>
<circle cx="637.4" cy="422.8" r="0.58" fill="#fff" opacity="0.11"/>
<circle cx="628.3" cy="420.1" r="0.73" fill="#fff" opacity="0.18"/>
<circle cx="638.4" cy="492.6" r="0.67" fill="#fff" opacity="0.23"/>
<circle cx="653.6" cy="446.2" r="0.91" fill="#fff" opacity="0.25"/>
<circle cx="557.4" cy="484.9" r="0.78" fill="#fff" opacity="0.12"/>
<circle cx="602.9" cy="480.6" r="0.76" fill="#fff" opacity="0.20"/>
<circle cx="574.7" cy="485.5" r="0.82" fill="#fff" opacity="0.14"/>
<circle cx="565.8" cy="435.9" r="0.93" fill="#fff" opacity="0.24"/>
<circle cx="526.6" cy="488.8" r="0.56" fill="#fff" opacity="0.22"/>
<circle cx="577.3" cy="469.9" r="0.72" fill="#fff" opacity="0.12"/>
<circle cx="592.4" cy="479.8" r="0.87" fill="#fff" opacity="0.17"/>
<circle cx="542.7" cy="472.5" r="0.87" fill="#fff" opacity="0.14"/>
<circle cx="651.7" cy="496.3" r="0.72" fill="#fff" opacity="0.18"/>
<circle cx="623.1" cy="490.3" r="0.63" fill="#fff" opacity="0.16"/>
<circle cx="560.3" cy="471.3" r="0.62" fill="#fff" opacity="0.21"/>
<circle cx="588.6" cy="465.2" r="0.61" fill="#fff" opacity="0.29"/>
<circle cx="671.0" cy="454.9" r="0.87" fill="#fff" opacity="0.14"/>
<circle cx="656.2" cy="453.9" r="0.85" fill="#fff" opacity="0.27"/>
<circle cx="565.7" cy="489.7" r="0.63" fill="#fff" opacity="0.10"/>
<circle cx="588.9" cy="487.3" r="0.91" fill="#fff" opacity="0.29"/>
<circle cx="590.3" cy="490.5" r="0.77" fill="#fff" opacity="0.13"/>
<circle cx="610.1" cy="478.1" r="0.72" fill="#fff" opacity="0.22"/>
<circle cx="548.8" cy="427.5" r="0.72" fill="#fff" opacity="0.20"/>
<circle cx="583.3" cy="409.9" r="0.55" fill="#fff" opacity="0.17"/>
<circle cx="624.3" cy="472.8" r="0.64" fill="#fff" opacity="0.15"/>
<circle cx="591.3" cy="417.8" r="0.79" fill="#fff" opacity="0.28"/>
<circle cx="539.3" cy="457.2" r="0.84" fill="#fff" opacity="0.25"/>
<circle cx="623.5" cy="469.2" r="0.66" fill="#fff" opacity="0.27"/>
<circle cx="658.6" cy="406.0" r="0.93" fill="#fff" opacity="0.19"/>
<circle cx="520.2" cy="407.7" r="0.87" fill="#fff" opacity="0.24"/>
<circle cx="529.4" cy="445.2" r="0.81" fill="#fff" opacity="0.30"/>
<circle cx="561.4" cy="474.6" r="0.65" fill="#fff" opacity="0.14"/>
<circle cx="532.6" cy="440.4" r="0.80" fill="#fff" opacity="0.16"/>
<circle cx="532.7" cy="422.0" r="0.58" fill="#fff" opacity="0.14"/>
<circle cx="558.1" cy="449.4" r="0.62" fill="#fff" opacity="0.20"/>
<circle cx="578.6" cy="494.4" r="0.74" fill="#fff" opacity="0.29"/>
<circle cx="583.8" cy="420.0" r="0.79" fill="#fff" opacity="0.13"/>
<circle cx="533.9" cy="408.0" r="0.83" fill="#fff" opacity="0.29"/>
<circle cx="572.6" cy="435.0" r="0.72" fill="#fff" opacity="0.17"/>
<circle cx="620.0" cy="438.6" r="0.61" fill="#fff" opacity="0.27"/>
<circle cx="600.5" cy="401.6" r="0.89" fill="#fff" opacity="0.25"/>
<circle cx="564.5" cy="461.5" r="0.92" fill="#fff" opacity="0.18"/>
<circle cx="577.4" cy="429.6" r="0.77" fill="#fff" opacity="0.23"/>
<circle cx="627.3" cy="492.1" r="0.61" fill="#fff" opacity="0.17"/>
<circle cx="646.5" cy="476.9" r="0.79" fill="#fff" opacity="0.24"/>
<circle cx="562.1" cy="491.7" r="0.77" fill="#fff" opacity="0.18"/>
<circle cx="536.1" cy="412.1" r="0.91" fill="#fff" opacity="0.26"/>
<circle cx="510.4" cy="432.0" r="0.74" fill="#fff" opacity="0.20"/>
<circle cx="566.0" cy="486.9" r="0.69" fill="#fff" opacity="0.21"/>
<circle cx="659.3" cy="462.4" r="0.74" fill="#fff" opacity="0.17"/>
<circle cx="569.9" cy="459.5" r="0.86" fill="#fff" opacity="0.15"/>
<circle cx="567.1" cy="438.2" r="0.70" fill="#fff" opacity="0.28"/>
<circle cx="594.9" cy="427.5" r="0.68" fill="#fff" opacity="0.26"/>
<circle cx="532.4" cy="467.2" r="0.56" fill="#fff" opacity="0.14"/>
<circle cx="515.8" cy="478.3" r="0.61" fill="#fff" opacity="0.15"/>
<circle cx="515.5" cy="426.3" r="0.84" fill="#fff" opacity="0.24"/>
<circle cx="656.2" cy="491.9" r="0.77" fill="#fff" opacity="0.28"/>
<circle cx="520.8" cy="489.8" r="0.72" fill="#fff" opacity="0.14"/>
<circle cx="629.4" cy="483.4" r="0.70" fill="#fff" opacity="0.12"/>
<circle cx="650.0" cy="473.3" r="0.79" fill="#fff" opacity="0.30"/>
<circle cx="512.3" cy="406.4" r="0.60" fill="#fff" opacity="0.10"/>
<circle cx="622.9" cy="461.5" r="0.59" fill="#fff" opacity="0.13"/>
<circle cx="535.9" cy="459.5" r="0.82" fill="#fff" opacity="0.29"/>
<circle cx="565.5" cy="495.0" r="0.72" fill="#fff" opacity="0.18"/>
<circle cx="547.8" cy="423.3" r="0.94" fill="#fff" opacity="0.30"/>
<circle cx="622.5" cy="417.8" r="0.62" fill="#fff" opacity="0.13"/>
<circle cx="563.9" cy="471.8" r="0.57" fill="#fff" opacity="0.21"/>
<circle cx="618.3" cy="404.2" r="0.73" fill="#fff" opacity="0.26"/>
<circle cx="601.0" cy="444.4" r="0.90" fill="#fff" opacity="0.22"/>
<circle cx="561.6" cy="439.0" r="0.93" fill="#fff" opacity="0.27"/>
<circle cx="656.9" cy="454.8" r="0.61" fill="#fff" opacity="0.14"/>
<circle cx="569.2" cy="467.3" r="0.55" fill="#fff" opacity="0.26"/>
<circle cx="635.7" cy="450.4" r="0.55" fill="#fff" opacity="0.26"/>
<circle cx="574.3" cy="465.3" r="0.78" fill="#fff" opacity="0.25"/>
<circle cx="573.4" cy="493.2" r="0.93" fill="#fff" opacity="0.29"/>
<circle cx="607.5" cy="431.4" r="0.70" fill="#fff" opacity="0.15"/>
<circle cx="655.1" cy="477.1" r="0.87" fill="#fff" opacity="0.26"/>
<circle cx="669.5" cy="467.0" r="0.68" fill="#fff" opacity="0.25"/>
<circle cx="549.3" cy="459.6" r="0.61" fill="#fff" opacity="0.27"/>
<circle cx="586.6" cy="427.4" r="0.92" fill="#fff" opacity="0.12"/>
<circle cx="659.5" cy="473.7" r="0.61" fill="#fff" opacity="0.25"/>
<circle cx="600.6" cy="488.1" r="0.78" fill="#fff" opacity="0.19"/>
<circle cx="660.0" cy="409.4" r="0.86" fill="#fff" opacity="0.12"/>
<circle cx="551.6" cy="411.9" r="0.90" fill="#fff" opacity="0.19"/>
<circle cx="625.9" cy="425.6" r="0.84" fill="#fff" opacity="0.23"/>
<circle cx="522.1" cy="448.4" r="0.84" fill="#fff" opacity="0.14"/>
<circle cx="614.0" cy="427.7" r="0.70" fill="#fff" opacity="0.28"/>
<circle cx="661.6" cy="496.8" r="0.72" fill="#fff" opacity="0.21"/>
<circle cx="639.4" cy="473.8" r="0.73" fill="#fff" opacity="0.27"/>
<circle cx="572.2" cy="492.2" r="0.74" fill="#fff" opacity="0.12"/>
<circle cx="629.6" cy="414.9" r="0.82" fill="#fff" opacity="0.11"/>
<circle cx="669.1" cy="452.9" r="0.85" fill="#fff" opacity="0.13"/>
<circle cx="611.1" cy="437.1" r="0.65" fill="#fff" opacity="0.26"/>
<circle cx="511.5" cy="446.9" r="0.58" fill="#fff" opacity="0.27"/>
<circle cx="653.4" cy="404.3" r="0.74" fill="#fff" opacity="0.19"/>
<circle cx="624.6" cy="471.0" r="0.69" fill="#fff" opacity="0.29"/>
<circle cx="536.6" cy="414.1" r="0.88" fill="#fff" opacity="0.12"/>
<circle cx="536.7" cy="449.0" r="0.68" fill="#fff" opacity="0.13"/>
<circle cx="659.4" cy="446.5" r="0.86" fill="#fff" opacity="0.15"/>
<circle cx="656.6" cy="422.2" r="0.91" fill="#fff" opacity="0.22"/>
<circle cx="666.2" cy="475.0" r="0.80" fill="#fff" opacity="0.21"/>
<circle cx="647.0" cy="443.6" r="0.59" fill="#fff" opacity="0.28"/>
<circle cx="638.9" cy="466.5" r="0.85" fill="#fff" opacity="0.15"/>
<circle cx="582.4" cy="480.0" r="0.93" fill="#fff" opacity="0.28"/>
<circle cx="532.5" cy="466.7" r="0.77" fill="#fff" opacity="0.18"/>
<circle cx="533.7" cy="414.2" r="0.74" fill="#fff" opacity="0.20"/>
<circle cx="550.2" cy="436.3" r="0.77" fill="#fff" opacity="0.25"/>
<circle cx="603.2" cy="416.6" r="0.90" fill="#fff" opacity="0.17"/>
<circle cx="664.4" cy="495.2" r="0.61" fill="#fff" opacity="0.22"/>
<circle cx="665.5" cy="438.0" r="0.77" fill="#fff" opacity="0.16"/>
<circle cx="510.7" cy="420.6" r="0.60" fill="#fff" opacity="0.16"/>
<circle cx="609.9" cy="455.1" r="0.93" fill="#fff" opacity="0.24"/>
<circle cx="565.8" cy="492.1" r="0.80" fill="#fff" opacity="0.21"/>
<circle cx="648.3" cy="465.3" r="0.69" fill="#fff" opacity="0.22"/>
<circle cx="555.5" cy="494.0" r="0.65" fill="#fff" opacity="0.29"/>
<circle cx="516.6" cy="401.9" r="0.77" fill="#fff" opacity="0.14"/>
<circle cx="589.7" cy="412.3" r="0.88" fill="#fff" opacity="0.23"/>
<circle cx="618.9" cy="490.0" r="0.95" fill="#fff" opacity="0.24"/>
<circle cx="623.7" cy="401.2" r="0.57" fill="#fff" opacity="0.19"/>
<circle cx="665.9" cy="431.0" r="0.78" fill="#fff" opacity="0.10"/>
<circle cx="574.6" cy="487.6" r="0.79" fill="#fff" opacity="0.26"/>
<circle cx="508.2" cy="420.5" r="0.62" fill="#fff" opacity="0.27"/>
<circle cx="522.8" cy="490.5" r="0.66" fill="#fff" opacity="0.28"/>
<circle cx="591.1" cy="432.1" r="0.94" fill="#fff" opacity="0.18"/>
<circle cx="621.1" cy="407.5" r="0.88" fill="#fff" opacity="0.30"/>
<circle cx="524.2" cy="472.6" r="0.66" fill="#fff" opacity="0.13"/>
<circle cx="566.1" cy="464.5" r="0.93" fill="#fff" opacity="0.30"/>
<circle cx="669.9" cy="460.8" r="0.81" fill="#fff" opacity="0.13"/>
<circle cx="625.8" cy="453.9" r="0.69" fill="#fff" opacity="0.28"/>
<circle cx="548.1" cy="414.6" r="0.61" fill="#fff" opacity="0.13"/>
<circle cx="603.1" cy="477.9" r="0.61" fill="#fff" opacity="0.20"/>
<circle cx="600.8" cy="454.8" r="0.72" fill="#fff" opacity="0.21"/>
<circle cx="508.5" cy="406.6" r="0.72" fill="#fff" opacity="0.15"/>
<circle cx="630.9" cy="424.2" r="0.88" fill="#fff" opacity="0.15"/>
<circle cx="521.3" cy="446.8" r="0.71" fill="#fff" opacity="0.17"/>
<circle cx="632.2" cy="422.3" r="0.82" fill="#fff" opacity="0.27"/>
<circle cx="580.7" cy="449.3" r="0.92" fill="#fff" opacity="0.22"/>
<circle cx="535.9" cy="407.7" r="0.58" fill="#fff" opacity="0.17"/>
<circle cx="520.7" cy="463.3" r="0.72" fill="#fff" opacity="0.16"/>
<circle cx="590.5" cy="490.9" r="0.65" fill="#fff" opacity="0.13"/>
<circle cx="556.4" cy="432.1" r="0.91" fill="#fff" opacity="0.24"/>
<circle cx="576.8" cy="416.9" r="0.57" fill="#fff" opacity="0.12"/>
<circle cx="645.8" cy="463.2" r="0.61" fill="#fff" opacity="0.23"/>
<circle cx="515.6" cy="449.7" r="0.68" fill="#fff" opacity="0.12"/>
<circle cx="628.5" cy="469.8" r="0.75" fill="#fff" opacity="0.13"/>
<circle cx="616.5" cy="442.6" r="0.81" fill="#fff" opacity="0.12"/>
<circle cx="654.9" cy="401.3" r="0.64" fill="#fff" opacity="0.18"/>
<circle cx="538.7" cy="409.4" r="0.82" fill="#fff" opacity="0.30"/>
<circle cx="561.3" cy="426.6" r="0.82" fill="#fff" opacity="0.14"/>
<circle cx="572.1" cy="467.1" r="0.72" fill="#fff" opacity="0.13"/>
<circle cx="517.6" cy="453.1" r="0.95" fill="#fff" opacity="0.28"/>
<circle cx="522.5" cy="449.2" r="0.75" fill="#fff" opacity="0.14"/>
<circle cx="616.5" cy="448.6" r="0.87" fill="#fff" opacity="0.16"/>
<circle cx="660.1" cy="479.2" r="0.74" fill="#fff" opacity="0.13"/>
<circle cx="585.8" cy="413.2" r="0.82" fill="#fff" opacity="0.24"/>
<circle cx="601.4" cy="494.7" r="0.57" fill="#fff" opacity="0.24"/>
<circle cx="638.1" cy="411.8" r="0.68" fill="#fff" opacity="0.11"/>
<circle cx="602.2" cy="470.4" r="0.69" fill="#fff" opacity="0.24"/>
<circle cx="566.5" cy="469.4" r="0.66" fill="#fff" opacity="0.30"/>
<circle cx="578.3" cy="401.3" r="0.59" fill="#fff" opacity="0.25"/>
<circle cx="648.7" cy="462.1" r="0.61" fill="#fff" opacity="0.27"/>
<circle cx="624.3" cy="412.1" r="0.70" fill="#fff" opacity="0.23"/>
<circle cx="506.6" cy="405.1" r="0.69" fill="#fff" opacity="0.27"/>
<circle cx="670.4" cy="431.6" r="0.91" fill="#fff" opacity="0.26"/>
<circle cx="648.7" cy="457.5" r="0.94" fill="#fff" opacity="0.23"/>
<circle cx="662.4" cy="455.3" r="0.63" fill="#fff" opacity="0.20"/>
<circle cx="585.7" cy="433.4" r="0.70" fill="#fff" opacity="0.20"/>
<circle cx="603.0" cy="422.4" r="0.66" fill="#fff" opacity="0.20"/>
<circle cx="589.1" cy="441.2" r="0.82" fill="#fff" opacity="0.14"/>
<circle cx="593.8" cy="427.5" r="0.86" fill="#fff" opacity="0.24"/>
<circle cx="634.9" cy="450.7" r="0.65" fill="#fff" opacity="0.29"/>
<circle cx="590.3" cy="437.0" r="0.67" fill="#fff" opacity="0.18"/>
<circle cx="622.9" cy="479.6" r="0.74" fill="#fff" opacity="0.25"/>
<circle cx="541.1" cy="444.4" r="0.69" fill="#fff" opacity="0.16"/>
<circle cx="565.3" cy="473.5" r="0.84" fill="#fff" opacity="0.14"/>
<circle cx="544.6" cy="476.3" r="0.81" fill="#fff" opacity="0.24"/>
<circle cx="610.8" cy="467.6" r="0.66" fill="#fff" opacity="0.11"/>
<circle cx="565.5" cy="404.1" r="0.93" fill="#fff" opacity="0.20"/>
<circle cx="616.6" cy="493.8" r="0.87" fill="#fff" opacity="0.15"/>
<circle cx="561.6" cy="411.4" r="0.87" fill="#fff" opacity="0.25"/>
<circle cx="586.5" cy="436.4" r="0.66" fill="#fff" opacity="0.20"/>
<circle cx="623.5" cy="487.0" r="0.89" fill="#fff" opacity="0.27"/>
<circle cx="578.5" cy="441.4" r="0.68" fill="#fff" opacity="0.29"/>
<circle cx="536.3" cy="416.1" r="0.66" fill="#fff" opacity="0.28"/>
<circle cx="646.7" cy="432.8" r="0.89" fill="#fff" opacity="0.28"/>
<circle cx="576.5" cy="419.5" r="0.86" fill="#fff" opacity="0.17"/>
<circle cx="525.7" cy="487.7" r="0.73" fill="#fff" opacity="0.18"/>
<circle cx="604.2" cy="425.5" r="0.56" fill="#fff" opacity="0.18"/>
<circle cx="568.6" cy="402.1" r="0.70" fill="#fff" opacity="0.25"/>
<circle cx="560.9" cy="466.2" r="0.80" fill="#fff" opacity="0.14"/>
<circle cx="509.4" cy="465.7" r="0.79" fill="#fff" opacity="0.16"/>
<circle cx="539.0" cy="483.1" r="0.91" fill="#fff" opacity="0.15"/>
<circle cx="602.7" cy="456.2" r="0.68" fill="#fff" opacity="0.11"/>
<circle cx="559.7" cy="462.9" r="0.79" fill="#fff" opacity="0.20"/>
<circle cx="526.2" cy="421.4" r="0.67" fill="#fff" opacity="0.18"/>
<circle cx="565.9" cy="487.6" r="0.60" fill="#fff" opacity="0.30"/>
<circle cx="545.7" cy="483.2" r="0.65" fill="#fff" opacity="0.22"/>
<circle cx="568.2" cy="404.6" r="0.87" fill="#fff" opacity="0.26"/>
<circle cx="550.4" cy="475.5" r="0.74" fill="#fff" opacity="0.30"/>
<circle cx="515.0" cy="437.5" r="0.64" fill="#fff" opacity="0.22"/>
<circle cx="634.4" cy="481.8" r="0.77" fill="#fff" opacity="0.18"/>
<circle cx="637.9" cy="411.0" r="0.65" fill="#fff" opacity="0.25"/>
<circle cx="578.7" cy="496.3" r="0.59" fill="#fff" opacity="0.19"/>
<circle cx="541.1" cy="401.2" r="0.59" fill="#fff" opacity="0.12"/>
<circle cx="566.9" cy="442.5" r="0.75" fill="#fff" opacity="0.16"/>
<circle cx="621.8" cy="450.5" r="0.94" fill="#fff" opacity="0.13"/>
<circle cx="590.2" cy="448.4" r="0.70" fill="#fff" opacity="0.27"/>
<circle cx="540.6" cy="485.3" r="0.69" fill="#fff" opacity="0.17"/>
<circle cx="607.4" cy="455.1" r="0.66" fill="#fff" opacity="0.12"/>
<circle cx="663.6" cy="436.5" r="0.60" fill="#fff" opacity="0.23"/>
<circle cx="593.8" cy="432.4" r="0.68" fill="#fff" opacity="0.27"/>
<circle cx="561.9" cy="441.1" r="0.93" fill="#fff" opacity="0.17"/>
<circle cx="572.3" cy="416.6" r="0.81" fill="#fff" opacity="0.23"/>
<circle cx="579.6" cy="440.0" r="0.64" fill="#fff" opacity="0.26"/>
<circle cx="581.4" cy="480.9" r="0.70" fill="#fff" opacity="0.25"/>
<circle cx="510.7" cy="422.1" r="0.93" fill="#fff" opacity="0.24"/>
<circle cx="617.5" cy="448.7" r="0.74" fill="#fff" opacity="0.14"/>
<circle cx="534.5" cy="462.9" r="0.83" fill="#fff" opacity="0.15"/>
<circle cx="612.4" cy="414.1" r="0.80" fill="#fff" opacity="0.13"/>
<circle cx="590.1" cy="431.1" r="0.77" fill="#fff" opacity="0.13"/>
<circle cx="585.8" cy="460.2" r="0.60" fill="#fff" opacity="0.16"/>
<circle cx="618.0" cy="453.4" r="0.80" fill="#fff" opacity="0.26"/>
<circle cx="600.3" cy="422.3" r="0.73" fill="#fff" opacity="0.27"/>
<circle cx="599.5" cy="473.3" r="0.70" fill="#fff" opacity="0.19"/>
<circle cx="666.0" cy="479.9" r="0.81" fill="#fff" opacity="0.12"/>
<circle cx="607.0" cy="404.2" r="0.92" fill="#fff" opacity="0.29"/>
<circle cx="626.1" cy="426.7" r="0.89" fill="#fff" opacity="0.14"/>
<circle cx="642.6" cy="451.0" r="0.56" fill="#fff" opacity="0.28"/>
<circle cx="578.6" cy="480.7" r="0.83" fill="#fff" opacity="0.21"/>
<circle cx="648.3" cy="420.5" r="0.91" fill="#fff" opacity="0.17"/>
<circle cx="510.3" cy="433.3" r="0.58" fill="#fff" opacity="0.11"/>
<circle cx="609.0" cy="412.6" r="0.61" fill="#fff" opacity="0.16"/>
<circle cx="552.0" cy="489.3" r="0.91" fill="#fff" opacity="0.27"/>
<circle cx="669.3" cy="443.3" r="0.87" fill="#fff" opacity="0.16"/>
<circle cx="658.9" cy="478.8" r="0.84" fill="#fff" opacity="0.15"/>
<circle cx="521.1" cy="489.8" r="0.77" fill="#fff" opacity="0.22"/>
<circle cx="648.2" cy="414.8" r="0.83" fill="#fff" opacity="0.19"/>
<circle cx="635.7" cy="444.8" r="0.63" fill="#fff" opacity="0.29"/>
<circle cx="552.4" cy="472.5" r="0.88" fill="#fff" opacity="0.15"/>
<circle cx="620.7" cy="439.0" r="0.64" fill="#fff" opacity="0.14"/>
<circle cx="663.4" cy="436.3" r="0.75" fill="#fff" opacity="0.20"/>
<circle cx="510.4" cy="473.3" r="0.85" fill="#fff" opacity="0.28"/>
<circle cx="564.9" cy="421.1" r="0.69" fill="#fff" opacity="0.25"/>
<circle cx="614.6" cy="440.0" r="0.76" fill="#fff" opacity="0.13"/>
<circle cx="657.6" cy="446.3" r="0.75" fill="#fff" opacity="0.26"/>
<circle cx="538.6" cy="470.4" r="0.69" fill="#fff" opacity="0.26"/>
<circle cx="521.6" cy="427.5" r="0.80" fill="#fff" opacity="0.20"/>
<circle cx="568.2" cy="456.6" r="0.64" fill="#fff" opacity="0.19"/>
<circle cx="506.3" cy="477.7" r="0.65" fill="#fff" opacity="0.27"/>
<circle cx="597.1" cy="458.7" r="0.80" fill="#fff" opacity="0.13"/>
<circle cx="634.2" cy="429.0" r="0.90" fill="#fff" opacity="0.26"/>
<circle cx="617.9" cy="479.3" r="0.72" fill="#fff" opacity="0.23"/>
<circle cx="663.2" cy="419.2" r="0.59" fill="#fff" opacity="0.18"/>
<circle cx="590.1" cy="415.3" r="0.64" fill="#fff" opacity="0.27"/>
<circle cx="570.0" cy="415.3" r="0.62" fill="#fff" opacity="0.22"/>
<circle cx="537.3" cy="446.6" r="0.77" fill="#fff" opacity="0.19"/>
<circle cx="589.1" cy="481.3" r="0.56" fill="#fff" opacity="0.29"/>
<circle cx="538.9" cy="404.7" r="0.86" fill="#fff" opacity="0.21"/>
<circle cx="594.8" cy="421.9" r="0.86" fill="#fff" opacity="0.16"/>
<circle cx="625.9" cy="422.9" r="0.78" fill="#fff" opacity="0.23"/>
<circle cx="567.3" cy="447.1" r="0.58" fill="#fff" opacity="0.23"/>
<circle cx="620.1" cy="415.7" r="0.77" fill="#fff" opacity="0.25"/>
<circle cx="522.7" cy="481.5" r="0.90" fill="#fff" opacity="0.11"/>
<circle cx="547.0" cy="409.1" r="0.65" fill="#fff" opacity="0.12"/>
<circle cx="586.7" cy="425.0" r="0.67" fill="#fff" opacity="0.19"/>
<circle cx="567.3" cy="476.7" r="0.84" fill="#fff" opacity="0.12"/>
<circle cx="542.9" cy="401.8" r="0.68" fill="#fff" opacity="0.12"/>
<circle cx="621.0" cy="475.9" r="0.95" fill="#fff" opacity="0.14"/>
<circle cx="512.1" cy="473.7" r="0.71" fill="#fff" opacity="0.29"/>
<circle cx="570.8" cy="431.0" r="0.58" fill="#fff" opacity="0.29"/>
<circle cx="590.5" cy="443.3" r="0.72" fill="#fff" opacity="0.25"/>
<circle cx="643.1" cy="446.7" r="0.62" fill="#fff" opacity="0.18"/>
<circle cx="653.1" cy="440.1" r="0.81" fill="#fff" opacity="0.21"/>
<circle cx="582.1" cy="456.2" r="0.65" fill="#fff" opacity="0.21"/>
<circle cx="648.7" cy="408.7" r="0.70" fill="#fff" opacity="0.28"/>
<circle cx="667.4" cy="402.3" r="0.80" fill="#fff" opacity="0.23"/>
<circle cx="645.1" cy="446.1" r="0.60" fill="#fff" opacity="0.16"/>
<circle cx="623.6" cy="470.9" r="0.63" fill="#fff" opacity="0.23"/>
<circle cx="614.4" cy="464.1" r="0.56" fill="#fff" opacity="0.19"/>
<circle cx="559.6" cy="458.3" r="0.68" fill="#fff" opacity="0.13"/>
<circle cx="616.6" cy="428.5" r="0.87" fill="#fff" opacity="0.16"/>
<circle cx="596.1" cy="478.6" r="0.60" fill="#fff" opacity="0.25"/>
<circle cx="517.2" cy="490.9" r="0.56" fill="#fff" opacity="0.24"/>
<circle cx="566.8" cy="418.2" r="0.71" fill="#fff" opacity="0.20"/>
<circle cx="574.5" cy="412.7" r="0.76" fill="#fff" opacity="0.16"/>
<circle cx="665.6" cy="437.8" r="0.72" fill="#fff" opacity="0.15"/>
<circle cx="665.9" cy="431.9" r="0.81" fill="#fff" opacity="0.27"/>
<circle cx="570.9" cy="473.5" r="0.66" fill="#fff" opacity="0.12"/>
<circle cx="513.0" cy="444.1" r="0.90" fill="#fff" opacity="0.14"/>
<circle cx="578.7" cy="474.2" r="0.66" fill="#fff" opacity="0.13"/>
<circle cx="591.7" cy="441.8" r="0.93" fill="#fff" opacity="0.28"/>
<circle cx="545.3" cy="454.8" r="0.72" fill="#fff" opacity="0.11"/>
<circle cx="579.3" cy="488.9" r="0.67" fill="#fff" opacity="0.22"/>
<circle cx="623.2" cy="407.1" r="0.92" fill="#fff" opacity="0.12"/>
<circle cx="555.8" cy="469.7" r="0.56" fill="#fff" opacity="0.18"/>
<circle cx="526.9" cy="446.4" r="0.56" fill="#fff" opacity="0.13"/>
<circle cx="542.7" cy="408.8" r="0.59" fill="#fff" opacity="0.14"/>
<circle cx="591.4" cy="414.1" r="0.88" fill="#fff" opacity="0.18"/>
<circle cx="547.6" cy="424.1" r="0.89" fill="#fff" opacity="0.11"/>
<circle cx="628.5" cy="410.4" r="0.93" fill="#fff" opacity="0.18"/>
<circle cx="604.6" cy="483.9" r="0.59" fill="#fff" opacity="0.11"/>
<circle cx="620.4" cy="457.4" r="0.84" fill="#fff" opacity="0.16"/>
<circle cx="588.0" cy="418.9" r="0.72" fill="#fff" opacity="0.16"/>
<circle cx="602.6" cy="429.7" r="0.66" fill="#fff" opacity="0.23"/>
<circle cx="520.1" cy="477.9" r="0.75" fill="#fff" opacity="0.15"/>
<circle cx="525.0" cy="449.8" r="0.75" fill="#fff" opacity="0.24"/>
<circle cx="567.7" cy="440.6" r="0.91" fill="#fff" opacity="0.15"/>
<circle cx="667.9" cy="486.7" r="0.95" fill="#fff" opacity="0.29"/>
<circle cx="548.4" cy="479.2" r="0.79" fill="#fff" opacity="0.14"/>
<circle cx="670.6" cy="463.2" r="0.87" fill="#fff" opacity="0.21"/>
<circle cx="519.1" cy="483.9" r="0.62" fill="#fff" opacity="0.15"/>
<circle cx="607.7" cy="419.6" r="0.74" fill="#fff" opacity="0.24"/>
<circle cx="521.8" cy="464.4" r="0.59" fill="#fff" opacity="0.20"/>
<circle cx="613.2" cy="467.0" r="0.57" fill="#fff" opacity="0.14"/>
<circle cx="664.4" cy="438.5" r="0.72" fill="#fff" opacity="0.17"/>
<circle cx="620.9" cy="472.1" r="0.81" fill="#fff" opacity="0.18"/>
<circle cx="600.0" cy="450.5" r="0.63" fill="#fff" opacity="0.29"/>
<circle cx="665.2" cy="475.6" r="0.95" fill="#fff" opacity="0.19"/>
<circle cx="644.5" cy="424.1" r="0.85" fill="#fff" opacity="0.24"/>
<circle cx="660.9" cy="481.0" r="0.90" fill="#fff" opacity="0.15"/>
<circle cx="635.9" cy="446.6" r="0.67" fill="#fff" opacity="0.17"/>
<circle cx="637.8" cy="481.9" r="0.89" fill="#fff" opacity="0.23"/>
<circle cx="534.1" cy="415.9" r="0.78" fill="#fff" opacity="0.14"/>
<circle cx="561.5" cy="410.8" r="0.61" fill="#fff" opacity="0.24"/>
<circle cx="542.9" cy="482.4" r="0.68" fill="#fff" opacity="0.27"/>
<circle cx="555.9" cy="426.7" r="0.71" fill="#fff" opacity="0.10"/>
<circle cx="577.9" cy="437.5" r="0.56" fill="#fff" opacity="0.27"/>
<circle cx="567.9" cy="401.0" r="0.93" fill="#fff" opacity="0.15"/>
<circle cx="547.7" cy="403.3" r="0.59" fill="#fff" opacity="0.24"/>
<circle cx="602.0" cy="449.4" r="0.65" fill="#fff" opacity="0.16"/>
<circle cx="666.1" cy="436.7" r="0.95" fill="#fff" opacity="0.28"/>
<circle cx="526.6" cy="482.4" r="0.56" fill="#fff" opacity="0.24"/>
<circle cx="639.6" cy="467.8" r="0.77" fill="#fff" opacity="0.26"/>
<circle cx="531.5" cy="452.8" r="0.66" fill="#fff" opacity="0.18"/>
<circle cx="537.6" cy="469.0" r="0.78" fill="#fff" opacity="0.26"/>
<circle cx="609.7" cy="458.5" r="0.92" fill="#fff" opacity="0.26"/>
<circle cx="599.5" cy="432.3" r="0.92" fill="#fff" opacity="0.17"/>
<circle cx="522.8" cy="433.0" r="0.83" fill="#fff" opacity="0.29"/>
<circle cx="612.5" cy="464.6" r="0.92" fill="#fff" opacity="0.26"/>
<circle cx="579.5" cy="445.3" r="0.85" fill="#fff" opacity="0.16"/>
<circle cx="524.1" cy="460.5" r="0.87" fill="#fff" opacity="0.15"/>
<circle cx="618.8" cy="486.7" r="0.60" fill="#fff" opacity="0.13"/>
<circle cx="587.3" cy="433.1" r="0.93" fill="#fff" opacity="0.30"/>
<circle cx="579.5" cy="477.1" r="0.80" fill="#fff" opacity="0.13"/>
<circle cx="666.3" cy="417.8" r="0.58" fill="#fff" opacity="0.19"/>
<circle cx="508.9" cy="447.2" r="0.71" fill="#fff" opacity="0.29"/>
<circle cx="574.3" cy="482.6" r="0.86" fill="#fff" opacity="0.22"/>
<circle cx="545.2" cy="430.3" r="0.75" fill="#fff" opacity="0.18"/>
<circle cx="612.5" cy="449.5" r="0.68" fill="#fff" opacity="0.22"/>
<circle cx="670.4" cy="420.4" r="0.68" fill="#fff" opacity="0.10"/>
<circle cx="521.5" cy="406.3" r="0.72" fill="#fff" opacity="0.27"/>
<circle cx="621.1" cy="493.7" r="0.88" fill="#fff" opacity="0.22"/>
<circle cx="601.8" cy="402.2" r="0.70" fill="#fff" opacity="0.15"/>
<circle cx="608.4" cy="407.3" r="0.77" fill="#fff" opacity="0.18"/>
<circle cx="587.2" cy="439.8" r="0.59" fill="#fff" opacity="0.25"/>
<circle cx="638.1" cy="458.4" r="0.60" fill="#fff" opacity="0.22"/>
<circle cx="649.7" cy="495.7" r="0.85" fill="#fff" opacity="0.11"/>
<circle cx="651.0" cy="464.8" r="0.66" fill="#fff" opacity="0.28"/>
<circle cx="642.3" cy="486.9" r="0.65" fill="#fff" opacity="0.22"/>
<circle cx="568.5" cy="429.4" r="0.85" fill="#fff" opacity="0.22"/>
<circle cx="560.7" cy="453.1" r="0.92" fill="#fff" opacity="0.21"/>
<circle cx="656.7" cy="455.3" r="0.95" fill="#fff" opacity="0.11"/>
<circle cx="581.9" cy="454.0" r="0.84" fill="#fff" opacity="0.29"/>
<circle cx="608.8" cy="446.9" r="0.80" fill="#fff" opacity="0.21"/>
<circle cx="622.3" cy="491.9" r="0.56" fill="#fff" opacity="0.16"/>
<circle cx="650.6" cy="406.7" r="0.87" fill="#fff" opacity="0.11"/>
<circle cx="613.0" cy="477.8" r="0.65" fill="#fff" opacity="0.18"/>
<circle cx="543.4" cy="468.7" r="0.76" fill="#fff" opacity="0.22"/>
<circle cx="559.7" cy="457.3" r="0.93" fill="#fff" opacity="0.26"/>
<circle cx="663.0" cy="424.7" r="0.76" fill="#fff" opacity="0.18"/>
<circle cx="563.1" cy="478.1" r="0.62" fill="#fff" opacity="0.21"/>
<circle cx="633.7" cy="490.8" r="0.56" fill="#fff" opacity="0.15"/>
<circle cx="587.4" cy="490.9" r="0.62" fill="#fff" opacity="0.27"/>
<circle cx="571.5" cy="453.6" r="0.92" fill="#fff" opacity="0.11"/>
<circle cx="560.4" cy="416.0" r="0.60" fill="#fff" opacity="0.16"/>
<circle cx="621.6" cy="456.7" r="0.60" fill="#fff" opacity="0.26"/>
<circle cx="589.7" cy="414.7" r="0.88" fill="#fff" opacity="0.26"/>
<circle cx="541.8" cy="491.2" r="0.87" fill="#fff" opacity="0.15"/>
<circle cx="506.2" cy="484.3" r="0.88" fill="#fff" opacity="0.12"/>
<circle cx="632.5" cy="475.2" r="0.80" fill="#fff" opacity="0.27"/>
<circle cx="668.5" cy="432.5" r="0.88" fill="#fff" opacity="0.28"/>
<circle cx="557.7" cy="466.6" r="0.82" fill="#fff" opacity="0.27"/>
<circle cx="599.5" cy="427.5" r="0.65" fill="#fff" opacity="0.21"/>
<circle cx="528.3" cy="483.5" r="0.91" fill="#fff" opacity="0.15"/>
<circle cx="621.0" cy="465.6" r="0.60" fill="#fff" opacity="0.26"/>
<circle cx="632.4" cy="430.4" r="0.59" fill="#fff" opacity="0.16"/>
<circle cx="633.3" cy="445.8" r="0.88" fill="#fff" opacity="0.13"/>
<circle cx="523.6" cy="434.5" r="0.90" fill="#fff" opacity="0.13"/>
<circle cx="518.1" cy="473.3" r="0.59" fill="#fff" opacity="0.23"/>
<circle cx="519.8" cy="424.7" r="0.82" fill="#fff" opacity="0.27"/>
<circle cx="573.5" cy="444.2" r="0.56" fill="#fff" opacity="0.17"/>
<circle cx="545.9" cy="476.7" r="0.84" fill="#fff" opacity="0.26"/>
<circle cx="593.7" cy="468.1" r="0.60" fill="#fff" opacity="0.18"/>
<circle cx="554.3" cy="428.1" r="0.85" fill="#fff" opacity="0.14"/>
<circle cx="559.7" cy="428.1" r="0.90" fill="#fff" opacity="0.23"/>
<circle cx="585.3" cy="437.5" r="0.92" fill="#fff" opacity="0.29"/>
<circle cx="580.2" cy="455.4" r="0.90" fill="#fff" opacity="0.15"/>
<circle cx="548.7" cy="410.9" r="0.75" fill="#fff" opacity="0.25"/>
<circle cx="531.8" cy="442.5" r="0.95" fill="#fff" opacity="0.20"/>
<circle cx="569.1" cy="481.6" r="0.91" fill="#fff" opacity="0.18"/>
<circle cx="526.4" cy="462.1" r="0.85" fill="#fff" opacity="0.28"/>
<circle cx="614.9" cy="430.5" r="0.76" fill="#fff" opacity="0.16"/>
<circle cx="579.6" cy="445.9" r="0.91" fill="#fff" opacity="0.28"/>
<circle cx="658.8" cy="446.9" r="0.94" fill="#fff" opacity="0.13"/>
<circle cx="658.0" cy="462.5" r="0.90" fill="#fff" opacity="0.18"/>
<circle cx="669.5" cy="403.4" r="0.89" fill="#fff" opacity="0.26"/>
<circle cx="567.7" cy="480.6" r="0.64" fill="#fff" opacity="0.25"/>
<circle cx="583.3" cy="440.5" r="0.63" fill="#fff" opacity="0.26"/>
<circle cx="626.6" cy="409.5" r="0.94" fill="#fff" opacity="0.14"/>
<circle cx="567.9" cy="440.8" r="0.78" fill="#fff" opacity="0.28"/>
<circle cx="661.9" cy="461.8" r="0.70" fill="#fff" opacity="0.12"/>
<circle cx="517.4" cy="450.8" r="0.78" fill="#fff" opacity="0.19"/>
<circle cx="668.1" cy="440.7" r="0.69" fill="#fff" opacity="0.18"/>
<circle cx="534.3" cy="491.2" r="0.79" fill="#fff" opacity="0.21"/>
<circle cx="576.3" cy="425.0" r="0.68" fill="#fff" opacity="0.20"/>
<circle cx="579.6" cy="495.0" r="0.78" fill="#fff" opacity="0.14"/>
<circle cx="514.9" cy="416.3" r="0.69" fill="#fff" opacity="0.26"/>
<circle cx="652.7" cy="423.7" r="0.86" fill="#fff" opacity="0.19"/>
<circle cx="594.7" cy="452.2" r="0.57" fill="#fff" opacity="0.11"/>
<circle cx="616.1" cy="467.2" r="0.70" fill="#fff" opacity="0.28"/>
<circle cx="641.3" cy="430.0" r="0.58" fill="#fff" opacity="0.21"/>
<circle cx="614.0" cy="422.5" r="0.57" fill="#fff" opacity="0.20"/>
<circle cx="511.6" cy="471.7" r="0.80" fill="#fff" opacity="0.16"/>
<circle cx="579.5" cy="423.4" r="0.62" fill="#fff" opacity="0.14"/>
<circle cx="640.6" cy="444.5" r="0.84" fill="#fff" opacity="0.17"/>
<circle cx="639.1" cy="458.2" r="0.81" fill="#fff" opacity="0.18"/>
<circle cx="598.7" cy="419.3" r="0.94" fill="#fff" opacity="0.23"/>
<circle cx="593.9" cy="462.3" r="0.59" fill="#fff" opacity="0.17"/>
<circle cx="544.1" cy="481.9" r="0.56" fill="#fff" opacity="0.19"/>
<circle cx="649.3" cy="476.1" r="0.84" fill="#fff" opacity="0.16"/>
<circle cx="544.3" cy="468.6" r="0.67" fill="#fff" opacity="0.24"/>
<circle cx="563.7" cy="474.0" r="0.78" fill="#fff" opacity="0.26"/>
<circle cx="668.6" cy="437.3" r="0.94" fill="#fff" opacity="0.10"/>
<circle cx="650.8" cy="403.9" r="0.77" fill="#fff" opacity="0.18"/>
<circle cx="633.0" cy="431.2" r="0.63" fill="#fff" opacity="0.26"/>
<circle cx="596.8" cy="473.5" r="0.75" fill="#fff" opacity="0.11"/>
<circle cx="633.2" cy="421.9" r="0.74" fill="#fff" opacity="0.10"/>
<circle cx="548.7" cy="464.9" r="0.86" fill="#fff" opacity="0.23"/>
<circle cx="579.1" cy="471.3" r="0.82" fill="#fff" opacity="0.14"/>
<circle cx="594.3" cy="458.4" r="0.84" fill="#fff" opacity="0.14"/>
<circle cx="557.3" cy="433.9" r="0.59" fill="#fff" opacity="0.17"/>
<circle cx="626.4" cy="456.4" r="0.62" fill="#fff" opacity="0.25"/>
<circle cx="525.3" cy="473.1" r="0.61" fill="#fff" opacity="0.12"/>
<circle cx="547.5" cy="450.4" r="0.66" fill="#fff" opacity="0.28"/>
<circle cx="660.8" cy="428.2" r="0.85" fill="#fff" opacity="0.24"/>
<circle cx="598.6" cy="425.5" r="0.93" fill="#fff" opacity="0.29"/>
<circle cx="508.2" cy="432.7" r="0.68" fill="#fff" opacity="0.14"/>
<circle cx="577.0" cy="487.2" r="0.56" fill="#fff" opacity="0.27"/>
<circle cx="557.0" cy="402.3" r="0.91" fill="#fff" opacity="0.15"/>
<circle cx="541.0" cy="412.2" r="0.70" fill="#fff" opacity="0.12"/>
<circle cx="535.6" cy="425.0" r="0.78" fill="#fff" opacity="0.19"/>
<circle cx="556.3" cy="451.5" r="0.86" fill="#fff" opacity="0.24"/>
<circle cx="562.7" cy="489.1" r="0.87" fill="#fff" opacity="0.21"/>
<circle cx="584.5" cy="432.6" r="0.60" fill="#fff" opacity="0.28"/>
<circle cx="606.4" cy="410.5" r="0.92" fill="#fff" opacity="0.28"/>
<circle cx="511.5" cy="468.3" r="0.65" fill="#fff" opacity="0.21"/>
<circle cx="643.6" cy="434.7" r="0.75" fill="#fff" opacity="0.23"/>
<circle cx="537.7" cy="461.1" r="0.72" fill="#fff" opacity="0.30"/>
<circle cx="537.0" cy="469.3" r="0.57" fill="#fff" opacity="0.15"/>
<circle cx="525.4" cy="415.3" r="0.76" fill="#fff" opacity="0.13"/>
<circle cx="637.1" cy="410.2" r="0.80" fill="#fff" opacity="0.27"/>
<circle cx="526.9" cy="421.9" r="0.86" fill="#fff" opacity="0.19"/>
<circle cx="659.8" cy="433.4" r="0.71" fill="#fff" opacity="0.29"/>
<circle cx="562.7" cy="493.8" r="0.91" fill="#fff" opacity="0.14"/>
<circle cx="596.1" cy="491.4" r="0.60" fill="#fff" opacity="0.27"/>
<circle cx="633.7" cy="472.9" r="0.79" fill="#fff" opacity="0.12"/>
<circle cx="664.1" cy="410.8" r="0.86" fill="#fff" opacity="0.24"/>
<circle cx="558.4" cy="466.7" r="0.71" fill="#fff" opacity="0.25"/>
<circle cx="513.2" cy="490.6" r="0.70" fill="#fff" opacity="0.26"/>
<circle cx="583.8" cy="479.0" r="0.67" fill="#fff" opacity="0.21"/>
<circle cx="510.2" cy="448.0" r="0.58" fill="#fff" opacity="0.27"/>
<circle cx="617.8" cy="441.8" r="0.94" fill="#fff" opacity="0.29"/>
<circle cx="663.9" cy="408.9" r="0.83" fill="#fff" opacity="0.25"/>
<circle cx="606.0" cy="402.5" r="0.92" fill="#fff" opacity="0.19"/>
<circle cx="604.2" cy="479.2" r="0.66" fill="#fff" opacity="0.11"/>
<circle cx="658.4" cy="427.0" r="0.57" fill="#fff" opacity="0.13"/>
<circle cx="670.1" cy="472.0" r="0.63" fill="#fff" opacity="0.13"/>
<circle cx="654.1" cy="464.8" r="0.78" fill="#fff" opacity="0.13"/>
<circle cx="574.2" cy="491.9" r="0.55" fill="#fff" opacity="0.18"/>
<circle cx="515.4" cy="496.8" r="0.59" fill="#fff" opacity="0.29"/>
<circle cx="644.8" cy="471.2" r="0.57" fill="#fff" opacity="0.24"/>
<circle cx="587.3" cy="448.2" r="0.61" fill="#fff" opacity="0.20"/>
<circle cx="638.3" cy="413.6" r="0.90" fill="#fff" opacity="0.18"/>
<circle cx="549.9" cy="424.0" r="0.73" fill="#fff" opacity="0.23"/>
<circle cx="600.0" cy="486.4" r="0.75" fill="#fff" opacity="0.20"/>
<circle cx="669.2" cy="421.7" r="0.56" fill="#fff" opacity="0.17"/>
<circle cx="557.7" cy="412.9" r="0.72" fill="#fff" opacity="0.11"/>
<circle cx="657.9" cy="447.5" r="0.90" fill="#fff" opacity="0.24"/>
<circle cx="626.4" cy="473.8" r="0.67" fill="#fff" opacity="0.25"/>
<circle cx="540.0" cy="454.3" r="0.79" fill="#fff" opacity="0.26"/>
<circle cx="533.7" cy="434.0" r="0.88" fill="#fff" opacity="0.26"/>
<circle cx="667.4" cy="412.4" r="0.63" fill="#fff" opacity="0.12"/>
<circle cx="625.4" cy="472.6" r="0.81" fill="#fff" opacity="0.26"/>
<circle cx="591.1" cy="455.0" r="0.92" fill="#fff" opacity="0.23"/>
<circle cx="614.2" cy="457.5" r="0.75" fill="#fff" opacity="0.25"/>
<circle cx="600.5" cy="413.4" r="0.72" fill="#fff" opacity="0.18"/>
<circle cx="577.3" cy="454.9" r="0.69" fill="#fff" opacity="0.18"/>
<circle cx="576.4" cy="436.7" r="0.94" fill="#fff" opacity="0.12"/>
<circle cx="508.8" cy="470.3" r="0.71" fill="#fff" opacity="0.19"/>
<circle cx="603.6" cy="436.2" r="0.65" fill="#fff" opacity="0.10"/>
<circle cx="650.2" cy="491.1" r="0.66" fill="#fff" opacity="0.19"/>
<circle cx="559.4" cy="406.6" r="0.91" fill="#fff" opacity="0.27"/>
<circle cx="545.8" cy="425.5" r="0.83" fill="#fff" opacity="0.26"/>
<circle cx="583.5" cy="438.2" r="0.64" fill="#fff" opacity="0.26"/>
<circle cx="648.5" cy="483.4" r="0.60" fill="#fff" opacity="0.22"/>
<circle cx="668.6" cy="469.7" r="0.73" fill="#fff" opacity="0.13"/>
<circle cx="516.0" cy="471.3" r="0.58" fill="#fff" opacity="0.26"/>
<circle cx="615.8" cy="446.5" r="0.91" fill="#fff" opacity="0.29"/>
<circle cx="607.7" cy="410.6" r="0.79" fill="#fff" opacity="0.18"/>
<circle cx="547.2" cy="490.2" r="0.84" fill="#fff" opacity="0.12"/>
<circle cx="543.8" cy="433.9" r="0.78" fill="#fff" opacity="0.16"/>
<circle cx="578.5" cy="479.1" r="0.62" fill="#fff" opacity="0.24"/>
<circle cx="560.6" cy="491.7" r="0.93" fill="#fff" opacity="0.17"/>
<circle cx="606.0" cy="411.6" r="0.71" fill="#fff" opacity="0.22"/>
<circle cx="611.3" cy="433.9" r="0.56" fill="#fff" opacity="0.12"/>
<circle cx="598.5" cy="417.4" r="0.67" fill="#fff" opacity="0.22"/>
<circle cx="654.6" cy="450.5" r="0.65" fill="#fff" opacity="0.22"/>
<circle cx="551.5" cy="476.1" r="0.61" fill="#fff" opacity="0.15"/>
<circle cx="578.4" cy="488.2" r="0.62" fill="#fff" opacity="0.14"/>
<circle cx="527.7" cy="421.5" r="0.68" fill="#fff" opacity="0.18"/>
<circle cx="631.3" cy="439.8" r="0.74" fill="#fff" opacity="0.18"/>
<circle cx="633.7" cy="487.7" r="0.72" fill="#fff" opacity="0.28"/>
<circle cx="547.4" cy="494.9" r="0.76" fill="#fff" opacity="0.24"/>
<circle cx="568.9" cy="427.1" r="0.60" fill="#fff" opacity="0.28"/>
<circle cx="565.3" cy="468.1" r="0.73" fill="#fff" opacity="0.21"/>
<circle cx="540.1" cy="418.0" r="0.68" fill="#fff" opacity="0.24"/>
<circle cx="595.7" cy="401.2" r="0.83" fill="#fff" opacity="0.19"/>
<circle cx="517.4" cy="425.9" r="0.63" fill="#fff" opacity="0.26"/>
<circle cx="596.8" cy="432.4" r="0.65" fill="#fff" opacity="0.16"/>
<circle cx="552.2" cy="434.2" r="0.87" fill="#fff" opacity="0.26"/>
<circle cx="621.2" cy="486.0" r="0.81" fill="#fff" opacity="0.12"/>
<circle cx="513.3" cy="416.8" r="0.65" fill="#fff" opacity="0.21"/>
<circle cx="641.6" cy="457.2" r="0.72" fill="#fff" opacity="0.15"/>
<circle cx="668.0" cy="473.3" r="0.69" fill="#fff" opacity="0.11"/>
<circle cx="668.0" cy="425.6" r="0.89" fill="#fff" opacity="0.12"/>
<circle cx="613.8" cy="435.2" r="0.91" fill="#fff" opacity="0.16"/>
<circle cx="522.6" cy="420.1" r="0.87" fill="#fff" opacity="0.30"/>
<circle cx="612.1" cy="466.5" r="0.66" fill="#fff" opacity="0.15"/>
<circle cx="520.3" cy="495.5" r="0.57" fill="#fff" opacity="0.22"/>
<circle cx="563.7" cy="418.9" r="0.72" fill="#fff" opacity="0.29"/>
<circle cx="546.9" cy="416.8" r="0.80" fill="#fff" opacity="0.23"/>
<circle cx="590.3" cy="418.2" r="0.90" fill="#fff" opacity="0.12"/>
<circle cx="534.7" cy="424.2" r="0.76" fill="#fff" opacity="0.20"/>
<circle cx="597.3" cy="470.8" r="0.91" fill="#fff" opacity="0.19"/>
<circle cx="512.9" cy="480.8" r="0.56" fill="#fff" opacity="0.16"/>
<circle cx="529.6" cy="458.8" r="0.86" fill="#fff" opacity="0.13"/>
<circle cx="554.6" cy="482.7" r="0.83" fill="#fff" opacity="0.12"/>
<circle cx="619.3" cy="477.2" r="0.71" fill="#fff" opacity="0.13"/>
<circle cx="614.7" cy="431.6" r="0.60" fill="#fff" opacity="0.13"/>
<circle cx="572.4" cy="413.2" r="0.70" fill="#fff" opacity="0.21"/>
<circle cx="597.1" cy="439.8" r="0.87" fill="#fff" opacity="0.12"/>
<circle cx="560.4" cy="490.6" r="0.90" fill="#fff" opacity="0.28"/>
<circle cx="632.3" cy="452.4" r="0.87" fill="#fff" opacity="0.21"/>
<circle cx="525.4" cy="425.5" r="0.59" fill="#fff" opacity="0.28"/>
<circle cx="559.1" cy="440.1" r="0.77" fill="#fff" opacity="0.12"/>
<circle cx="622.5" cy="477.4" r="0.87" fill="#fff" opacity="0.28"/>
<circle cx="558.4" cy="415.0" r="0.85" fill="#fff" opacity="0.24"/>
<circle cx="567.3" cy="434.0" r="0.61" fill="#fff" opacity="0.27"/>
<circle cx="582.0" cy="479.0" r="0.69" fill="#fff" opacity="0.16"/>
<circle cx="590.7" cy="472.6" r="0.90" fill="#fff" opacity="0.17"/>
<circle cx="620.4" cy="439.8" r="0.89" fill="#fff" opacity="0.25"/>
<circle cx="597.6" cy="435.8" r="0.66" fill="#fff" opacity="0.28"/>
<circle cx="638.1" cy="430.3" r="0.58" fill="#fff" opacity="0.14"/>
<circle cx="665.1" cy="404.8" r="0.87" fill="#fff" opacity="0.21"/>
<circle cx="597.4" cy="452.8" r="0.71" fill="#fff" opacity="0.21"/>
<circle cx="520.8" cy="489.3" r="0.59" fill="#fff" opacity="0.13"/>
<circle cx="617.0" cy="462.5" r="0.87" fill="#fff" opacity="0.24"/>
<circle cx="659.6" cy="406.0" r="0.55" fill="#fff" opacity="0.15"/>
<circle cx="634.5" cy="415.7" r="0.76" fill="#fff" opacity="0.25"/>
<circle cx="531.8" cy="451.6" r="0.91" fill="#fff" opacity="0.25"/>
<circle cx="571.7" cy="447.0" r="0.66" fill="#fff" opacity="0.29"/>
<circle cx="635.1" cy="466.3" r="0.67" fill="#fff" opacity="0.25"/>
<circle cx="586.3" cy="477.6" r="0.70" fill="#fff" opacity="0.28"/>
<circle cx="619.0" cy="444.3" r="0.78" fill="#fff" opacity="0.26"/>
<circle cx="593.3" cy="493.2" r="0.55" fill="#fff" opacity="0.28"/>
<circle cx="623.8" cy="448.0" r="0.89" fill="#fff" opacity="0.13"/>
<circle cx="561.7" cy="469.5" r="0.88" fill="#fff" opacity="0.17"/>
<circle cx="670.0" cy="463.3" r="0.57" fill="#fff" opacity="0.12"/>
<circle cx="518.6" cy="455.7" r="0.68" fill="#fff" opacity="0.15"/>
<circle cx="579.9" cy="408.5" r="0.91" fill="#fff" opacity="0.27"/>
<circle cx="598.2" cy="443.7" r="0.67" fill="#fff" opacity="0.22"/>
<circle cx="563.2" cy="494.6" r="0.93" fill="#fff" opacity="0.25"/>
<circle cx="642.3" cy="408.2" r="0.60" fill="#fff" opacity="0.17"/>
<circle cx="526.8" cy="441.6" r="0.94" fill="#fff" opacity="0.27"/>
<circle cx="664.2" cy="422.3" r="0.64" fill="#fff" opacity="0.10"/>
<circle cx="551.2" cy="406.4" r="0.76" fill="#fff" opacity="0.16"/>
<circle cx="617.2" cy="454.9" r="0.79" fill="#fff" opacity="0.16"/>
<circle cx="627.2" cy="467.2" r="0.84" fill="#fff" opacity="0.19"/>
<circle cx="582.5" cy="428.5" r="0.57" fill="#fff" opacity="0.49"/>
<circle cx="607.7" cy="418.9" r="0.89" fill="#fff" opacity="0.61"/>
<circle cx="646.8" cy="479.3" r="0.75" fill="#fff" opacity="0.40"/>
<circle cx="550.7" cy="471.8" r="0.94" fill="#fff" opacity="0.38"/>
<circle cx="507.0" cy="434.9" r="0.69" fill="#fff" opacity="0.53"/>
<circle cx="524.5" cy="482.0" r="0.69" fill="#fff" opacity="0.62"/>
<circle cx="560.3" cy="430.3" r="0.62" fill="#fff" opacity="0.64"/>
<circle cx="603.3" cy="480.3" r="0.58" fill="#fff" opacity="0.51"/>
<circle cx="627.0" cy="495.4" r="0.92" fill="#fff" opacity="0.38"/>
<circle cx="567.6" cy="496.9" r="0.76" fill="#fff" opacity="0.64"/>
<circle cx="547.8" cy="403.5" r="0.93" fill="#fff" opacity="0.43"/>
<circle cx="598.5" cy="435.6" r="0.78" fill="#fff" opacity="0.63"/>
<circle cx="662.2" cy="485.2" r="0.65" fill="#fff" opacity="0.60"/>
<circle cx="509.0" cy="441.0" r="0.93" fill="#fff" opacity="0.43"/>
<circle cx="566.6" cy="456.9" r="0.64" fill="#fff" opacity="0.56"/>
<circle cx="613.7" cy="410.1" r="0.92" fill="#fff" opacity="0.37"/>
<circle cx="620.9" cy="434.4" r="0.61" fill="#fff" opacity="0.37"/>
<circle cx="670.6" cy="477.8" r="0.73" fill="#fff" opacity="0.59"/>
<circle cx="666.0" cy="489.9" r="0.76" fill="#fff" opacity="0.43"/>
<circle cx="591.6" cy="495.2" r="0.84" fill="#fff" opacity="0.55"/>
<circle cx="645.1" cy="440.3" r="0.77" fill="#fff" opacity="0.60"/>
<circle cx="538.9" cy="483.5" r="0.56" fill="#fff" opacity="0.51"/>
<circle cx="600.9" cy="415.0" r="0.92" fill="#fff" opacity="0.48"/>
<circle cx="536.5" cy="440.5" r="0.79" fill="#fff" opacity="0.48"/>
<circle cx="506.5" cy="409.9" r="0.84" fill="#fff" opacity="0.39"/>
<circle cx="548.2" cy="478.5" r="0.89" fill="#fff" opacity="0.61"/>
<circle cx="534.8" cy="401.5" r="0.85" fill="#fff" opacity="0.53"/>
<circle cx="566.1" cy="402.8" r="0.72" fill="#fff" opacity="0.42"/>
<circle cx="603.0" cy="495.1" r="0.63" fill="#fff" opacity="0.37"/>
<circle cx="620.6" cy="411.3" r="0.64" fill="#fff" opacity="0.48"/>
<circle cx="668.7" cy="432.1" r="0.68" fill="#fff" opacity="0.49"/>
<circle cx="532.8" cy="439.6" r="0.83" fill="#fff" opacity="0.45"/>
<circle cx="637.4" cy="418.7" r="0.59" fill="#fff" opacity="0.54"/>
<circle cx="580.7" cy="489.1" r="0.59" fill="#fff" opacity="0.57"/>
<circle cx="616.5" cy="436.6" r="0.60" fill="#fff" opacity="0.53"/>
<circle cx="631.1" cy="446.4" r="0.74" fill="#fff" opacity="0.56"/>
<circle cx="606.5" cy="441.6" r="0.62" fill="#fff" opacity="0.49"/>
<circle cx="596.7" cy="487.1" r="0.95" fill="#fff" opacity="0.52"/>
<circle cx="560.2" cy="422.4" r="0.80" fill="#fff" opacity="0.57"/>
<circle cx="546.9" cy="467.3" r="0.95" fill="#fff" opacity="0.47"/>
<circle cx="660.9" cy="442.9" r="0.81" fill="#fff" opacity="0.61"/>
<circle cx="539.6" cy="434.2" r="0.94" fill="#fff" opacity="0.37"/>
<circle cx="556.5" cy="446.7" r="0.85" fill="#fff" opacity="0.54"/>
<circle cx="659.4" cy="465.3" r="0.55" fill="#fff" opacity="0.37"/>
<circle cx="512.0" cy="442.4" r="0.56" fill="#fff" opacity="0.51"/>
<circle cx="610.4" cy="420.4" r="0.89" fill="#fff" opacity="0.47"/>
<circle cx="664.4" cy="435.3" r="0.80" fill="#fff" opacity="0.51"/>
<circle cx="549.4" cy="475.9" r="0.55" fill="#fff" opacity="0.42"/>
<circle cx="558.9" cy="485.7" r="0.75" fill="#fff" opacity="0.36"/>
<circle cx="555.3" cy="459.5" r="0.87" fill="#fff" opacity="0.38"/>
<circle cx="634.6" cy="438.5" r="0.76" fill="#fff" opacity="0.48"/>
<circle cx="578.3" cy="496.1" r="0.92" fill="#fff" opacity="0.63"/>
<circle cx="627.4" cy="468.2" r="0.61" fill="#fff" opacity="0.36"/>
<circle cx="643.1" cy="465.6" r="0.80" fill="#fff" opacity="0.44"/>
<circle cx="550.1" cy="489.4" r="0.76" fill="#fff" opacity="0.36"/>
<circle cx="562.2" cy="434.5" r="0.58" fill="#fff" opacity="0.64"/>
<circle cx="655.0" cy="479.2" r="0.55" fill="#fff" opacity="0.48"/>
<circle cx="524.4" cy="470.7" r="0.87" fill="#fff" opacity="0.59"/>
<circle cx="636.6" cy="412.6" r="0.56" fill="#fff" opacity="0.38"/>
<circle cx="645.0" cy="480.6" r="0.76" fill="#fff" opacity="0.42"/>
<circle cx="647.4" cy="412.6" r="0.68" fill="#fff" opacity="0.35"/>
<circle cx="668.2" cy="440.8" r="0.86" fill="#fff" opacity="0.59"/>
<circle cx="601.9" cy="495.7" r="0.86" fill="#fff" opacity="0.63"/>
<circle cx="665.0" cy="408.9" r="0.85" fill="#fff" opacity="0.42"/>
<circle cx="559.6" cy="433.8" r="0.95" fill="#fff" opacity="0.37"/>
<circle cx="577.8" cy="413.3" r="0.95" fill="#fff" opacity="0.50"/>
<circle cx="621.8" cy="450.9" r="0.86" fill="#fff" opacity="0.45"/>
<circle cx="574.2" cy="472.5" r="0.83" fill="#fff" opacity="0.62"/>
<circle cx="557.0" cy="482.4" r="0.84" fill="#fff" opacity="0.52"/>
<circle cx="573.3" cy="455.4" r="0.58" fill="#fff" opacity="0.38"/>
<circle cx="557.4" cy="412.8" r="0.57" fill="#fff" opacity="0.57"/>
<circle cx="626.7" cy="460.1" r="0.63" fill="#fff" opacity="0.57"/>
<circle cx="642.3" cy="460.4" r="0.64" fill="#fff" opacity="0.52"/>
<circle cx="571.1" cy="426.8" r="0.61" fill="#fff" opacity="0.61"/>
<circle cx="610.3" cy="490.5" r="0.62" fill="#fff" opacity="0.43"/>
<circle cx="590.0" cy="406.7" r="0.67" fill="#fff" opacity="0.51"/>
<circle cx="585.5" cy="488.3" r="0.78" fill="#fff" opacity="0.54"/>
<circle cx="602.6" cy="476.4" r="0.70" fill="#fff" opacity="0.35"/>
<circle cx="667.8" cy="477.1" r="0.60" fill="#fff" opacity="0.38"/>
<circle cx="542.7" cy="464.2" r="0.60" fill="#fff" opacity="0.36"/>
<circle cx="587.5" cy="401.6" r="0.65" fill="#fff" opacity="0.46"/>
<circle cx="539.9" cy="401.2" r="0.65" fill="#fff" opacity="0.42"/>
<circle cx="559.5" cy="440.8" r="0.69" fill="#fff" opacity="0.45"/>
<circle cx="509.2" cy="481.4" r="0.85" fill="#fff" opacity="0.50"/>
<circle cx="506.5" cy="423.4" r="0.91" fill="#fff" opacity="0.49"/>
<circle cx="539.9" cy="479.7" r="0.91" fill="#fff" opacity="0.39"/>
<circle cx="588.7" cy="454.9" r="0.60" fill="#fff" opacity="0.45"/>
<circle cx="608.0" cy="465.7" r="0.80" fill="#fff" opacity="0.54"/>
<circle cx="568.4" cy="407.6" r="0.56" fill="#fff" opacity="0.60"/>
<circle cx="648.7" cy="487.9" r="0.58" fill="#fff" opacity="0.58"/>
<circle cx="534.4" cy="434.2" r="0.63" fill="#fff" opacity="0.61"/>
<circle cx="641.1" cy="480.9" r="0.70" fill="#fff" opacity="0.63"/>
<circle cx="548.9" cy="456.1" r="0.82" fill="#fff" opacity="0.42"/>
<circle cx="569.0" cy="410.6" r="0.87" fill="#fff" opacity="0.41"/>
<circle cx="528.4" cy="427.7" r="0.81" fill="#fff" opacity="0.54"/>
<circle cx="592.6" cy="482.9" r="0.85" fill="#fff" opacity="0.41"/>
<circle cx="594.2" cy="417.3" r="0.65" fill="#fff" opacity="0.39"/>
<circle cx="518.7" cy="434.6" r="0.90" fill="#fff" opacity="0.55"/>
<circle cx="520.5" cy="422.0" r="0.79" fill="#fff" opacity="0.51"/>
<circle cx="510.4" cy="410.0" r="0.78" fill="#fff" opacity="0.53"/>
<circle cx="519.3" cy="475.2" r="0.65" fill="#fff" opacity="0.53"/>
<circle cx="593.4" cy="433.6" r="0.93" fill="#fff" opacity="0.47"/>
<circle cx="575.8" cy="452.9" r="0.89" fill="#fff" opacity="0.65"/>
<circle cx="633.0" cy="452.7" r="0.84" fill="#fff" opacity="0.54"/>
<circle cx="664.3" cy="494.2" r="0.85" fill="#fff" opacity="0.41"/>
<circle cx="599.8" cy="443.2" r="0.64" fill="#fff" opacity="0.58"/>
<circle cx="542.5" cy="469.1" r="0.75" fill="#fff" opacity="0.48"/>
<circle cx="622.6" cy="470.6" r="0.95" fill="#fff" opacity="0.65"/>
<circle cx="638.0" cy="426.3" r="0.82" fill="#fff" opacity="0.50"/>
<circle cx="661.2" cy="443.9" r="0.69" fill="#fff" opacity="0.36"/>
<circle cx="583.6" cy="452.1" r="0.67" fill="#fff" opacity="0.38"/>
<circle cx="585.9" cy="407.8" r="0.62" fill="#fff" opacity="0.48"/>
<circle cx="563.4" cy="449.0" r="0.76" fill="#fff" opacity="0.47"/>
<circle cx="528.0" cy="402.8" r="0.77" fill="#fff" opacity="0.64"/>
<circle cx="552.4" cy="434.8" r="0.68" fill="#fff" opacity="0.57"/>
<circle cx="587.4" cy="477.4" r="0.55" fill="#fff" opacity="0.39"/>
<circle cx="540.0" cy="436.4" r="0.71" fill="#fff" opacity="0.47"/>
<circle cx="665.3" cy="443.2" r="0.78" fill="#fff" opacity="0.64"/>
<circle cx="611.9" cy="458.1" r="0.88" fill="#fff" opacity="0.45"/>
<circle cx="511.9" cy="492.9" r="0.76" fill="#fff" opacity="0.52"/>
<circle cx="517.0" cy="472.5" r="0.70" fill="#fff" opacity="0.54"/>
<circle cx="552.8" cy="489.1" r="0.70" fill="#fff" opacity="0.43"/>
<circle cx="653.5" cy="422.4" r="0.66" fill="#fff" opacity="0.50"/>
<circle cx="667.8" cy="412.1" r="0.63" fill="#fff" opacity="0.59"/>
<circle cx="518.4" cy="440.8" r="0.86" fill="#fff" opacity="0.56"/>
<circle cx="636.9" cy="412.3" r="0.91" fill="#fff" opacity="0.46"/>
<circle cx="640.3" cy="446.3" r="0.91" fill="#fff" opacity="0.49"/>
<circle cx="548.5" cy="415.5" r="0.75" fill="#fff" opacity="0.36"/>
<circle cx="533.1" cy="485.0" r="0.78" fill="#fff" opacity="0.61"/>
<circle cx="530.9" cy="447.1" r="0.74" fill="#fff" opacity="0.38"/>
<circle cx="213.7" cy="488.6" r="0.84" fill="#fff" opacity="0.10"/>
<circle cx="271.2" cy="482.8" r="0.93" fill="#fff" opacity="0.11"/>
<circle cx="178.4" cy="483.8" r="0.62" fill="#fff" opacity="0.07"/>
<circle cx="192.7" cy="449.7" r="0.78" fill="#fff" opacity="0.10"/>
<circle cx="248.0" cy="414.4" r="0.84" fill="#fff" opacity="0.10"/>
<circle cx="221.3" cy="480.2" r="0.93" fill="#fff" opacity="0.14"/>
<circle cx="333.5" cy="407.5" r="0.71" fill="#fff" opacity="0.09"/>
<circle cx="212.6" cy="471.7" r="0.91" fill="#fff" opacity="0.06"/>
<circle cx="254.0" cy="492.9" r="0.91" fill="#fff" opacity="0.10"/>
<circle cx="187.4" cy="444.3" r="0.76" fill="#fff" opacity="0.13"/>
<circle cx="200.9" cy="427.6" r="0.94" fill="#fff" opacity="0.05"/>
<circle cx="271.4" cy="410.0" r="0.85" fill="#fff" opacity="0.09"/>
<circle cx="323.6" cy="422.2" r="0.90" fill="#fff" opacity="0.07"/>
<circle cx="177.9" cy="409.2" r="0.58" fill="#fff" opacity="0.09"/>
<circle cx="331.3" cy="434.7" r="0.84" fill="#fff" opacity="0.05"/>
<circle cx="255.6" cy="452.2" r="0.59" fill="#fff" opacity="0.11"/>
<circle cx="244.0" cy="432.1" r="0.88" fill="#fff" opacity="0.12"/>
<circle cx="190.0" cy="411.1" r="0.57" fill="#fff" opacity="0.08"/>
<circle cx="275.7" cy="493.0" r="0.94" fill="#fff" opacity="0.14"/>
<circle cx="190.6" cy="476.2" r="0.85" fill="#fff" opacity="0.10"/>
<circle cx="335.3" cy="457.9" r="0.60" fill="#fff" opacity="0.07"/>
<circle cx="191.5" cy="459.0" r="0.80" fill="#fff" opacity="0.14"/>
<circle cx="171.7" cy="401.9" r="0.94" fill="#fff" opacity="0.08"/>
<circle cx="213.9" cy="483.3" r="0.59" fill="#fff" opacity="0.13"/>
<circle cx="318.9" cy="454.4" r="0.79" fill="#fff" opacity="0.05"/>
<circle cx="270.7" cy="459.3" r="0.86" fill="#fff" opacity="0.10"/>
<circle cx="188.9" cy="422.1" r="0.81" fill="#fff" opacity="0.06"/>
<circle cx="187.7" cy="424.8" r="0.87" fill="#fff" opacity="0.10"/>
<circle cx="229.2" cy="492.6" r="0.78" fill="#fff" opacity="0.07"/>
<circle cx="263.9" cy="482.3" r="0.70" fill="#fff" opacity="0.09"/>
<circle cx="265.8" cy="494.8" r="0.81" fill="#fff" opacity="0.07"/>
<circle cx="266.6" cy="431.5" r="0.74" fill="#fff" opacity="0.12"/>
<circle cx="173.4" cy="449.2" r="0.68" fill="#fff" opacity="0.11"/>
<circle cx="306.2" cy="445.4" r="0.80" fill="#fff" opacity="0.08"/>
<circle cx="212.5" cy="449.5" r="0.76" fill="#fff" opacity="0.07"/>
<circle cx="297.0" cy="448.5" r="0.69" fill="#fff" opacity="0.08"/>
<circle cx="308.9" cy="486.7" r="0.93" fill="#fff" opacity="0.07"/>
<circle cx="181.8" cy="461.0" r="0.56" fill="#fff" opacity="0.14"/>
<circle cx="282.7" cy="433.0" r="0.73" fill="#fff" opacity="0.12"/>
<circle cx="196.6" cy="435.7" r="0.86" fill="#fff" opacity="0.12"/>
<circle cx="267.2" cy="410.8" r="0.64" fill="#fff" opacity="0.08"/>
<circle cx="175.2" cy="461.8" r="0.78" fill="#fff" opacity="0.14"/>
<circle cx="262.0" cy="488.2" r="0.74" fill="#fff" opacity="0.10"/>
<circle cx="216.7" cy="445.1" r="0.92" fill="#fff" opacity="0.10"/>
<circle cx="170.4" cy="434.6" r="0.63" fill="#fff" opacity="0.11"/>
<circle cx="254.5" cy="446.2" r="0.92" fill="#fff" opacity="0.13"/>
<circle cx="184.5" cy="403.9" r="0.83" fill="#fff" opacity="0.11"/>
<circle cx="278.3" cy="448.5" r="0.56" fill="#fff" opacity="0.10"/>
<circle cx="308.7" cy="458.2" r="0.57" fill="#fff" opacity="0.06"/>
<circle cx="320.2" cy="452.8" r="0.62" fill="#fff" opacity="0.12"/>
<circle cx="323.5" cy="483.2" r="0.81" fill="#fff" opacity="0.13"/>
<circle cx="184.5" cy="445.0" r="0.87" fill="#fff" opacity="0.08"/>
<circle cx="193.9" cy="483.2" r="0.83" fill="#fff" opacity="0.05"/>
<circle cx="180.6" cy="453.9" r="0.93" fill="#fff" opacity="0.11"/>
<circle cx="315.4" cy="411.0" r="0.78" fill="#fff" opacity="0.07"/>
<circle cx="225.1" cy="415.2" r="0.74" fill="#fff" opacity="0.05"/>
<circle cx="279.0" cy="462.4" r="0.91" fill="#fff" opacity="0.13"/>
<circle cx="182.5" cy="483.5" r="0.77" fill="#fff" opacity="0.14"/>
<circle cx="251.7" cy="408.7" r="0.83" fill="#fff" opacity="0.07"/>
<circle cx="333.4" cy="452.2" r="0.91" fill="#fff" opacity="0.10"/>
<circle cx="224.2" cy="463.9" r="0.83" fill="#fff" opacity="0.10"/>
<circle cx="215.7" cy="440.9" r="0.84" fill="#fff" opacity="0.07"/>
<circle cx="196.2" cy="447.0" r="0.81" fill="#fff" opacity="0.06"/>
<circle cx="215.1" cy="493.3" r="0.66" fill="#fff" opacity="0.13"/>
<circle cx="220.7" cy="409.2" r="0.74" fill="#fff" opacity="0.14"/>
<circle cx="299.0" cy="405.6" r="0.83" fill="#fff" opacity="0.11"/>
<circle cx="250.1" cy="464.1" r="0.76" fill="#fff" opacity="0.07"/>
<circle cx="285.5" cy="413.2" r="0.67" fill="#fff" opacity="0.14"/>
<circle cx="264.3" cy="449.6" r="0.83" fill="#fff" opacity="0.10"/>
<circle cx="233.7" cy="453.5" r="0.56" fill="#fff" opacity="0.09"/>
<circle cx="176.5" cy="495.6" r="0.91" fill="#fff" opacity="0.12"/>
<circle cx="196.3" cy="482.2" r="0.66" fill="#fff" opacity="0.13"/>
<circle cx="278.1" cy="458.5" r="0.85" fill="#fff" opacity="0.08"/>
<circle cx="308.5" cy="452.5" r="0.85" fill="#fff" opacity="0.13"/>
<circle cx="212.3" cy="440.0" r="0.69" fill="#fff" opacity="0.06"/>
<circle cx="315.3" cy="466.1" r="0.75" fill="#fff" opacity="0.10"/>
<circle cx="316.0" cy="407.6" r="0.69" fill="#fff" opacity="0.12"/>
<circle cx="258.8" cy="448.2" r="0.65" fill="#fff" opacity="0.07"/>
<circle cx="281.3" cy="433.4" r="0.92" fill="#fff" opacity="0.14"/>
<circle cx="331.1" cy="427.3" r="0.76" fill="#fff" opacity="0.06"/>
<circle cx="229.6" cy="408.1" r="0.75" fill="#fff" opacity="0.15"/>
<circle cx="296.6" cy="435.6" r="0.66" fill="#fff" opacity="0.14"/>
<circle cx="178.7" cy="481.3" r="0.89" fill="#fff" opacity="0.06"/>
<circle cx="327.9" cy="462.4" r="0.71" fill="#fff" opacity="0.09"/>
<circle cx="271.0" cy="451.1" r="0.90" fill="#fff" opacity="0.14"/>
<circle cx="224.2" cy="401.8" r="0.86" fill="#fff" opacity="0.11"/>
<circle cx="278.7" cy="408.1" r="0.58" fill="#fff" opacity="0.14"/>
<circle cx="230.4" cy="445.9" r="0.94" fill="#fff" opacity="0.07"/>
<circle cx="275.4" cy="406.8" r="0.77" fill="#fff" opacity="0.12"/>
<circle cx="196.1" cy="473.2" r="0.94" fill="#fff" opacity="0.13"/>
<circle cx="301.2" cy="491.0" r="0.84" fill="#fff" opacity="0.10"/>
<circle cx="306.8" cy="477.6" r="0.80" fill="#fff" opacity="0.12"/>
<circle cx="199.6" cy="433.1" r="0.68" fill="#fff" opacity="0.14"/>
<circle cx="299.7" cy="428.6" r="0.95" fill="#fff" opacity="0.06"/>
<circle cx="180.2" cy="432.1" r="0.58" fill="#fff" opacity="0.14"/>
<circle cx="229.5" cy="437.9" r="0.89" fill="#fff" opacity="0.10"/>
<circle cx="274.7" cy="442.8" r="0.73" fill="#fff" opacity="0.15"/>
<circle cx="216.0" cy="450.9" r="0.74" fill="#fff" opacity="0.06"/>
<circle cx="194.3" cy="449.1" r="0.87" fill="#fff" opacity="0.09"/>
<circle cx="179.8" cy="489.8" r="0.61" fill="#fff" opacity="0.14"/>
<circle cx="177.5" cy="462.7" r="0.61" fill="#fff" opacity="0.08"/>
<circle cx="240.0" cy="472.8" r="0.72" fill="#fff" opacity="0.09"/>
<circle cx="236.8" cy="450.5" r="0.66" fill="#fff" opacity="0.15"/>
<circle cx="201.6" cy="413.6" r="0.77" fill="#fff" opacity="0.09"/>
<circle cx="289.7" cy="404.8" r="0.82" fill="#fff" opacity="0.09"/>
<circle cx="323.9" cy="429.5" r="0.72" fill="#fff" opacity="0.08"/>
<circle cx="258.5" cy="427.7" r="0.82" fill="#fff" opacity="0.09"/>
<circle cx="287.5" cy="428.7" r="0.73" fill="#fff" opacity="0.11"/>
<circle cx="289.3" cy="463.0" r="0.72" fill="#fff" opacity="0.06"/>
<circle cx="188.6" cy="414.9" r="0.62" fill="#fff" opacity="0.07"/>
<circle cx="279.9" cy="433.4" r="0.91" fill="#fff" opacity="0.07"/>
<circle cx="210.8" cy="418.4" r="0.61" fill="#fff" opacity="0.12"/>
<circle cx="266.0" cy="424.9" r="0.87" fill="#fff" opacity="0.12"/>
<circle cx="241.2" cy="458.7" r="0.81" fill="#fff" opacity="0.09"/>
<circle cx="185.2" cy="435.6" r="0.93" fill="#fff" opacity="0.09"/>
<circle cx="276.1" cy="409.4" r="0.86" fill="#fff" opacity="0.14"/>
<circle cx="231.9" cy="436.3" r="0.76" fill="#fff" opacity="0.08"/>
<circle cx="204.8" cy="413.2" r="0.82" fill="#fff" opacity="0.10"/>
<circle cx="328.7" cy="492.4" r="0.90" fill="#fff" opacity="0.14"/>
<circle cx="309.1" cy="403.3" r="0.60" fill="#fff" opacity="0.15"/>
<text x="4.65" y="310.17" font-size="28.83" textLength="16.09" lengthAdjust="spacingAndGlyphs" fill="#ffffff">B</text>
<text x="173.30" y="309.93" font-size="26.72" textLength="15.43" lengthAdjust="spacingAndGlyphs" fill="#ffffff">C</text>
<text x="341.15" y="309.43" font-size="27.23" textLength="16.29" lengthAdjust="spacingAndGlyphs" fill="#ffffff">D</text>
<text x="508.55" y="309.43" font-size="27.23" textLength="14.82" lengthAdjust="spacingAndGlyphs" fill="#ffffff">E</text>
<text x="4.35" y="415.90" font-size="29.09" textLength="14.45" lengthAdjust="spacingAndGlyphs" fill="#ffffff">F</text>
<text x="173.00" y="416.05" font-size="28.02" textLength="17.39" lengthAdjust="spacingAndGlyphs" fill="#ffffff">G</text>
<text x="340.95" y="413.98" font-size="29.36" textLength="17.42" lengthAdjust="spacingAndGlyphs" fill="#ffffff">H</text>
<text x="511.05" y="414.90" font-size="29.09" textLength="6.97" lengthAdjust="spacingAndGlyphs" fill="#ffffff">I</text>
<text x="135.50" y="300.48" font-size="11.04" textLength="30.57" lengthAdjust="spacingAndGlyphs" fill="#f2f2f2">0 min.</text>
<text x="304.50" y="299.35" font-size="12.22" textLength="30.37" lengthAdjust="spacingAndGlyphs" fill="#f2f2f2">0 min.</text>
<text x="471.15" y="299.23" font-size="11.94" textLength="30.16" lengthAdjust="spacingAndGlyphs" fill="#f2f2f2">0 min.</text>
<text x="641.80" y="300.25" font-size="10.48" textLength="30.21" lengthAdjust="spacingAndGlyphs" fill="#f2f2f2">0 min.</text>
<text x="129.35" y="417.05" font-size="11.01" textLength="36.23" lengthAdjust="spacingAndGlyphs" fill="#f2f2f2">74 min.</text>
<text x="297.25" y="418.57" font-size="10.75" textLength="36.75" lengthAdjust="spacingAndGlyphs" fill="#f2f2f2">50 min.</text>
<text x="463.30" y="418.57" font-size="11.26" textLength="37.51" lengthAdjust="spacingAndGlyphs" fill="#f2f2f2">30 min.</text>
<text x="633.40" y="417.33" font-size="11.26" textLength="36.24" lengthAdjust="spacingAndGlyphs" fill="#f2f2f2">30 min.</text>
<text x="127.65" y="375.55" font-size="12.79" textLength="34.87" lengthAdjust="spacingAndGlyphs" fill="#f4f4f4">50 μm</text>
<text x="229.45" y="492.53" font-size="11.26" font-weight="bold" textLength="38.75" lengthAdjust="spacingAndGlyphs" fill="#ffffff">Hillocks</text>
<text x="462.45" y="483.83" font-size="11.26" font-weight="bold" textLength="38.75" lengthAdjust="spacingAndGlyphs" fill="#ffffff">Hillocks</text>
<text x="624.35" y="495.12" font-size="11.26" font-weight="bold" textLength="38.75" lengthAdjust="spacingAndGlyphs" fill="#ffffff">Hillocks</text>
<text x="153.45" y="401.15" font-size="10.81" font-style="italic" font-weight="bold" textLength="5.97" lengthAdjust="spacingAndGlyphs" fill="#ffffff">e</text>
<text x="323.45" y="403.35" font-size="10.81" font-style="italic" font-weight="bold" textLength="5.97" lengthAdjust="spacingAndGlyphs" fill="#ffffff">e</text>
<text x="489.45" y="403.55" font-size="10.81" font-style="italic" font-weight="bold" textLength="5.97" lengthAdjust="spacingAndGlyphs" fill="#ffffff">e</text>
<text x="658.75" y="402.55" font-size="10.81" font-style="italic" font-weight="bold" textLength="5.69" lengthAdjust="spacingAndGlyphs" fill="#ffffff">e</text>
<rect x="123.4" y="404.2" width="40.5" height="2.7" fill="#fff"/>
<polygon points="121.9,405.8 123.4,404.2 129.7,402.1 129.7,404.2 123.9,406.9" fill="#fff"/>
<rect x="159.4" y="395.9" width="1.6" height="0.8" fill="#fff"/>
<rect x="293.0" y="406.09999999999997" width="40.9" height="2.7" fill="#fff"/>
<polygon points="291.5,407.7 293.0,406.09999999999997 298.0,404.0 298.0,406.09999999999997 293.5,408.79999999999995" fill="#fff"/>
<rect x="329.3" y="398.2" width="1.6" height="0.8" fill="#fff"/>
<rect x="459.2" y="406.09999999999997" width="40.1" height="2.7" fill="#fff"/>
<polygon points="457.7,407.7 459.2,406.09999999999997 465.0,404.0 465.0,406.09999999999997 459.7,408.79999999999995" fill="#fff"/>
<rect x="495.2" y="398.4" width="1.6" height="0.8" fill="#fff"/>
<rect x="628.7" y="405.4" width="40.2" height="2.7" fill="#fff"/>
<polygon points="627.2,407.0 628.7,405.4 633.9,403.0 633.9,405.4 629.2,408.09999999999997" fill="#fff"/>
<rect x="664.8" y="397.3" width="1.6" height="0.8" fill="#fff"/>
<rect x="98.6" y="382.1" width="67.3" height="5.1" fill="#fff"/>
<line x1="225.9" y1="484.1" x2="206.3" y2="472.8" stroke="#fff" stroke-width="1.5"/>
<polygon points="200.7,469.5 208.0,469.8 204.6,475.7" fill="#fff"/>
<line x1="270.3" y1="485.3" x2="276.7" y2="477.3" stroke="#fff" stroke-width="1.5"/>
<polygon points="280.8,472.2 279.4,479.4 274.1,475.1" fill="#fff"/>
<line x1="461.7" y1="474.8" x2="457.2" y2="467.1" stroke="#fff" stroke-width="1.5"/>
<polygon points="453.9,461.5 460.1,465.4 454.3,468.8" fill="#fff"/>
<line x1="624.6" y1="484.2" x2="617.6" y2="474.3" stroke="#fff" stroke-width="1.5"/>
<polygon points="613.8,469 620.3,472.3 614.8,476.3" fill="#fff"/>
</svg>
</body></html>
